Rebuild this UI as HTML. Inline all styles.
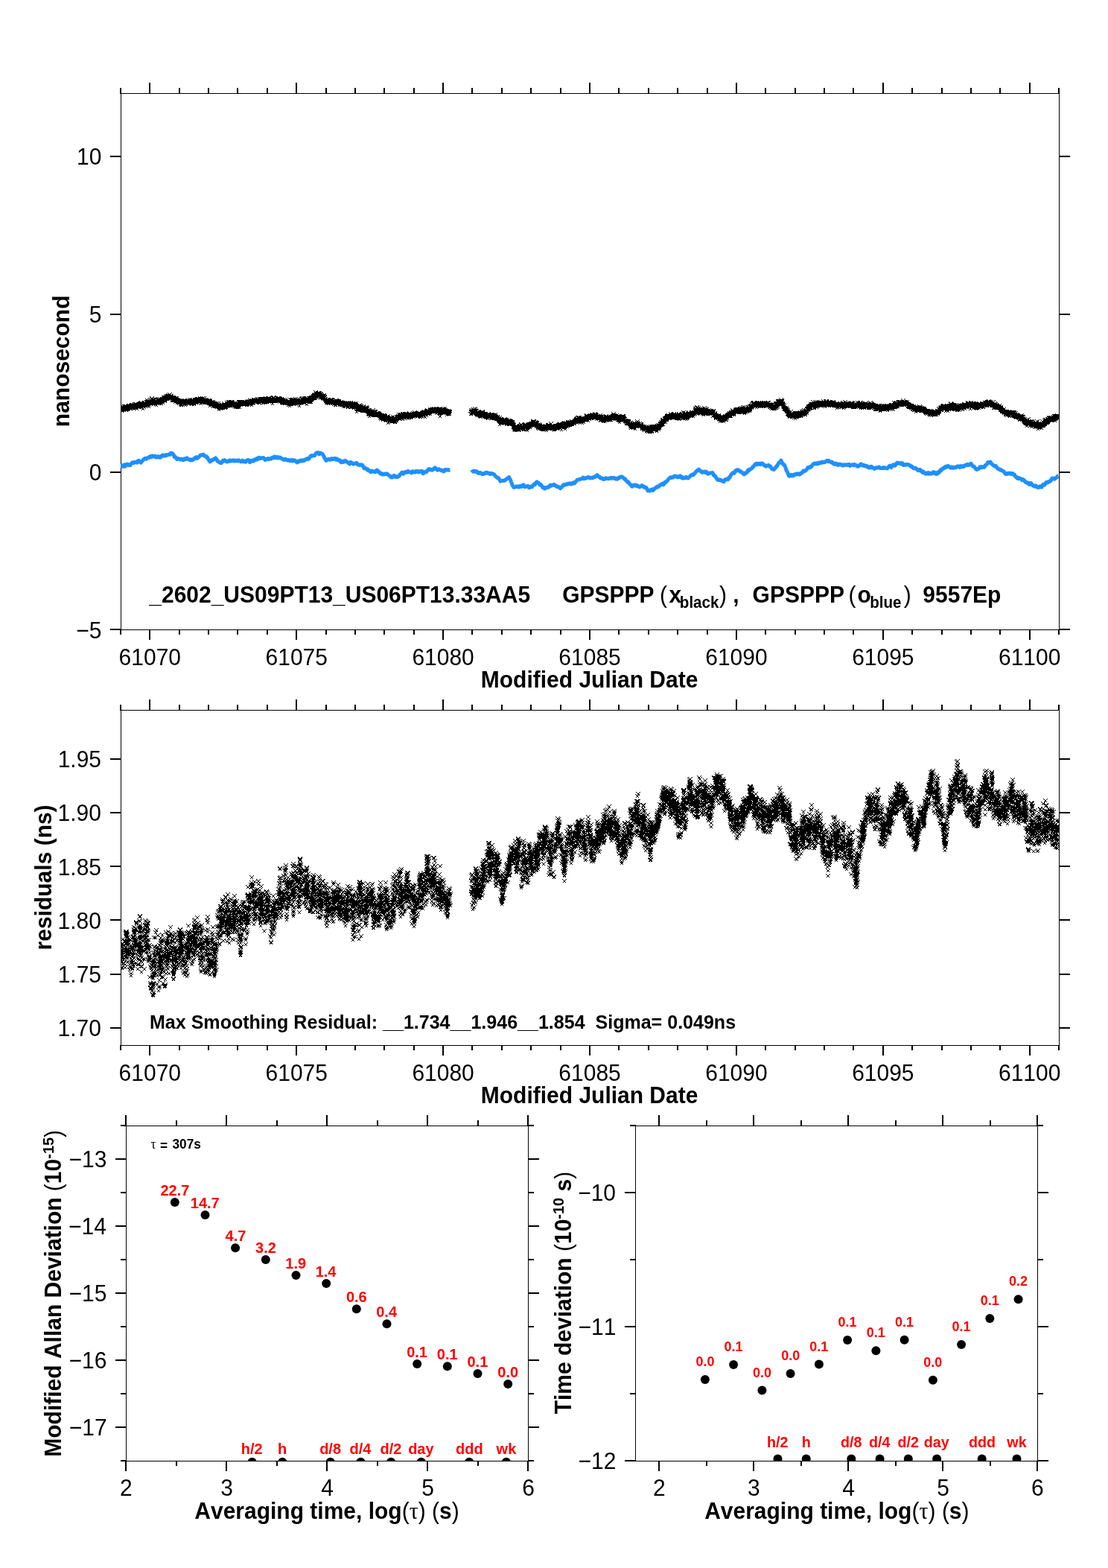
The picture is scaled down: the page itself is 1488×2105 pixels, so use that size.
<!DOCTYPE html>
<html><head><meta charset="utf-8"><title>plot</title><style>html,body{margin:0;padding:0;background:#fff;width:1488px;height:2105px;overflow:hidden}svg{display:block}text{font-kerning:none;white-space:pre}</style></head><body><svg width="1488" height="2105" viewBox="0 0 1488 2105" font-family='"Liberation Sans", Arial, Helvetica, sans-serif' xml:space="preserve">
<rect width="100%" height="100%" fill="#fff"/>
<rect x="162.5" y="125.5" width="1260" height="720" fill="none" stroke="#000" stroke-width="1"/>
<rect x="161" y="118" width="2" height="8"/>
<rect x="161" y="845" width="2" height="7"/>
<rect x="200" y="111" width="2" height="15"/>
<rect x="200" y="845" width="2" height="14"/>
<rect x="240" y="118" width="2" height="8"/>
<rect x="240" y="845" width="2" height="7"/>
<rect x="279" y="118" width="2" height="8"/>
<rect x="279" y="845" width="2" height="7"/>
<rect x="318" y="118" width="2" height="8"/>
<rect x="318" y="845" width="2" height="7"/>
<rect x="358" y="118" width="2" height="8"/>
<rect x="358" y="845" width="2" height="7"/>
<rect x="397" y="111" width="2" height="15"/>
<rect x="397" y="845" width="2" height="14"/>
<rect x="437" y="118" width="2" height="8"/>
<rect x="437" y="845" width="2" height="7"/>
<rect x="476" y="118" width="2" height="8"/>
<rect x="476" y="845" width="2" height="7"/>
<rect x="515" y="118" width="2" height="8"/>
<rect x="515" y="845" width="2" height="7"/>
<rect x="555" y="118" width="2" height="8"/>
<rect x="555" y="845" width="2" height="7"/>
<rect x="594" y="111" width="2" height="15"/>
<rect x="594" y="845" width="2" height="14"/>
<rect x="633" y="118" width="2" height="8"/>
<rect x="633" y="845" width="2" height="7"/>
<rect x="673" y="118" width="2" height="8"/>
<rect x="673" y="845" width="2" height="7"/>
<rect x="712" y="118" width="2" height="8"/>
<rect x="712" y="845" width="2" height="7"/>
<rect x="752" y="118" width="2" height="8"/>
<rect x="752" y="845" width="2" height="7"/>
<rect x="791" y="111" width="2" height="15"/>
<rect x="791" y="845" width="2" height="14"/>
<rect x="830" y="118" width="2" height="8"/>
<rect x="830" y="845" width="2" height="7"/>
<rect x="870" y="118" width="2" height="8"/>
<rect x="870" y="845" width="2" height="7"/>
<rect x="909" y="118" width="2" height="8"/>
<rect x="909" y="845" width="2" height="7"/>
<rect x="949" y="118" width="2" height="8"/>
<rect x="949" y="845" width="2" height="7"/>
<rect x="988" y="111" width="2" height="15"/>
<rect x="988" y="845" width="2" height="14"/>
<rect x="1027" y="118" width="2" height="8"/>
<rect x="1027" y="845" width="2" height="7"/>
<rect x="1067" y="118" width="2" height="8"/>
<rect x="1067" y="845" width="2" height="7"/>
<rect x="1106" y="118" width="2" height="8"/>
<rect x="1106" y="845" width="2" height="7"/>
<rect x="1145" y="118" width="2" height="8"/>
<rect x="1145" y="845" width="2" height="7"/>
<rect x="1185" y="111" width="2" height="15"/>
<rect x="1185" y="845" width="2" height="14"/>
<rect x="1224" y="118" width="2" height="8"/>
<rect x="1224" y="845" width="2" height="7"/>
<rect x="1264" y="118" width="2" height="8"/>
<rect x="1264" y="845" width="2" height="7"/>
<rect x="1303" y="118" width="2" height="8"/>
<rect x="1303" y="845" width="2" height="7"/>
<rect x="1342" y="118" width="2" height="8"/>
<rect x="1342" y="845" width="2" height="7"/>
<rect x="1382" y="111" width="2" height="15"/>
<rect x="1382" y="845" width="2" height="14"/>
<rect x="1421" y="118" width="2" height="8"/>
<rect x="1421" y="845" width="2" height="7"/>
<rect x="148" y="209" width="15" height="2"/>
<rect x="1422" y="209" width="15" height="2"/>
<rect x="148" y="421" width="15" height="2"/>
<rect x="1422" y="421" width="15" height="2"/>
<rect x="148" y="633" width="15" height="2"/>
<rect x="1422" y="633" width="15" height="2"/>
<rect x="148" y="844" width="15" height="2"/>
<rect x="1422" y="844" width="15" height="2"/>
<rect x="162.5" y="953.5" width="1260" height="450" fill="none" stroke="#000" stroke-width="1"/>
<rect x="161" y="946" width="2" height="8"/>
<rect x="161" y="1403" width="2" height="7"/>
<rect x="200" y="939" width="2" height="15"/>
<rect x="200" y="1403" width="2" height="14"/>
<rect x="240" y="946" width="2" height="8"/>
<rect x="240" y="1403" width="2" height="7"/>
<rect x="279" y="946" width="2" height="8"/>
<rect x="279" y="1403" width="2" height="7"/>
<rect x="318" y="946" width="2" height="8"/>
<rect x="318" y="1403" width="2" height="7"/>
<rect x="358" y="946" width="2" height="8"/>
<rect x="358" y="1403" width="2" height="7"/>
<rect x="397" y="939" width="2" height="15"/>
<rect x="397" y="1403" width="2" height="14"/>
<rect x="437" y="946" width="2" height="8"/>
<rect x="437" y="1403" width="2" height="7"/>
<rect x="476" y="946" width="2" height="8"/>
<rect x="476" y="1403" width="2" height="7"/>
<rect x="515" y="946" width="2" height="8"/>
<rect x="515" y="1403" width="2" height="7"/>
<rect x="555" y="946" width="2" height="8"/>
<rect x="555" y="1403" width="2" height="7"/>
<rect x="594" y="939" width="2" height="15"/>
<rect x="594" y="1403" width="2" height="14"/>
<rect x="633" y="946" width="2" height="8"/>
<rect x="633" y="1403" width="2" height="7"/>
<rect x="673" y="946" width="2" height="8"/>
<rect x="673" y="1403" width="2" height="7"/>
<rect x="712" y="946" width="2" height="8"/>
<rect x="712" y="1403" width="2" height="7"/>
<rect x="752" y="946" width="2" height="8"/>
<rect x="752" y="1403" width="2" height="7"/>
<rect x="791" y="939" width="2" height="15"/>
<rect x="791" y="1403" width="2" height="14"/>
<rect x="830" y="946" width="2" height="8"/>
<rect x="830" y="1403" width="2" height="7"/>
<rect x="870" y="946" width="2" height="8"/>
<rect x="870" y="1403" width="2" height="7"/>
<rect x="909" y="946" width="2" height="8"/>
<rect x="909" y="1403" width="2" height="7"/>
<rect x="949" y="946" width="2" height="8"/>
<rect x="949" y="1403" width="2" height="7"/>
<rect x="988" y="939" width="2" height="15"/>
<rect x="988" y="1403" width="2" height="14"/>
<rect x="1027" y="946" width="2" height="8"/>
<rect x="1027" y="1403" width="2" height="7"/>
<rect x="1067" y="946" width="2" height="8"/>
<rect x="1067" y="1403" width="2" height="7"/>
<rect x="1106" y="946" width="2" height="8"/>
<rect x="1106" y="1403" width="2" height="7"/>
<rect x="1145" y="946" width="2" height="8"/>
<rect x="1145" y="1403" width="2" height="7"/>
<rect x="1185" y="939" width="2" height="15"/>
<rect x="1185" y="1403" width="2" height="14"/>
<rect x="1224" y="946" width="2" height="8"/>
<rect x="1224" y="1403" width="2" height="7"/>
<rect x="1264" y="946" width="2" height="8"/>
<rect x="1264" y="1403" width="2" height="7"/>
<rect x="1303" y="946" width="2" height="8"/>
<rect x="1303" y="1403" width="2" height="7"/>
<rect x="1342" y="946" width="2" height="8"/>
<rect x="1342" y="1403" width="2" height="7"/>
<rect x="1382" y="939" width="2" height="15"/>
<rect x="1382" y="1403" width="2" height="14"/>
<rect x="1421" y="946" width="2" height="8"/>
<rect x="1421" y="1403" width="2" height="7"/>
<rect x="148" y="1379" width="15" height="2"/>
<rect x="1422" y="1379" width="15" height="2"/>
<rect x="148" y="1307" width="15" height="2"/>
<rect x="1422" y="1307" width="15" height="2"/>
<rect x="148" y="1234" width="15" height="2"/>
<rect x="1422" y="1234" width="15" height="2"/>
<rect x="148" y="1162" width="15" height="2"/>
<rect x="1422" y="1162" width="15" height="2"/>
<rect x="148" y="1090" width="15" height="2"/>
<rect x="1422" y="1090" width="15" height="2"/>
<rect x="148" y="1018" width="15" height="2"/>
<rect x="1422" y="1018" width="15" height="2"/>
<rect x="169.5" y="1511.5" width="540" height="450" fill="none" stroke="#000" stroke-width="1"/>
<rect x="168" y="1497" width="2" height="15"/>
<rect x="168" y="1961" width="2" height="14"/>
<rect x="236" y="1504" width="2" height="8"/>
<rect x="236" y="1961" width="2" height="7"/>
<rect x="303" y="1497" width="2" height="15"/>
<rect x="303" y="1961" width="2" height="14"/>
<rect x="371" y="1504" width="2" height="8"/>
<rect x="371" y="1961" width="2" height="7"/>
<rect x="438" y="1497" width="2" height="15"/>
<rect x="438" y="1961" width="2" height="14"/>
<rect x="506" y="1504" width="2" height="8"/>
<rect x="506" y="1961" width="2" height="7"/>
<rect x="573" y="1497" width="2" height="15"/>
<rect x="573" y="1961" width="2" height="14"/>
<rect x="641" y="1504" width="2" height="8"/>
<rect x="641" y="1961" width="2" height="7"/>
<rect x="708" y="1497" width="2" height="15"/>
<rect x="708" y="1961" width="2" height="14"/>
<rect x="162" y="1510" width="8" height="2"/>
<rect x="709" y="1510" width="8" height="2"/>
<rect x="155" y="1555" width="15" height="2"/>
<rect x="709" y="1555" width="15" height="2"/>
<rect x="162" y="1600" width="8" height="2"/>
<rect x="709" y="1600" width="8" height="2"/>
<rect x="155" y="1645" width="15" height="2"/>
<rect x="709" y="1645" width="15" height="2"/>
<rect x="162" y="1690" width="8" height="2"/>
<rect x="709" y="1690" width="8" height="2"/>
<rect x="155" y="1735" width="15" height="2"/>
<rect x="709" y="1735" width="15" height="2"/>
<rect x="162" y="1780" width="8" height="2"/>
<rect x="709" y="1780" width="8" height="2"/>
<rect x="155" y="1825" width="15" height="2"/>
<rect x="709" y="1825" width="15" height="2"/>
<rect x="162" y="1870" width="8" height="2"/>
<rect x="709" y="1870" width="8" height="2"/>
<rect x="155" y="1915" width="15" height="2"/>
<rect x="709" y="1915" width="15" height="2"/>
<rect x="162" y="1960" width="8" height="2"/>
<rect x="709" y="1960" width="8" height="2"/>
<rect x="853.5" y="1511.5" width="540" height="450" fill="none" stroke="#000" stroke-width="1"/>
<rect x="884" y="1497" width="2" height="15"/>
<rect x="884" y="1961" width="2" height="14"/>
<rect x="948" y="1504" width="2" height="8"/>
<rect x="948" y="1961" width="2" height="7"/>
<rect x="1011" y="1497" width="2" height="15"/>
<rect x="1011" y="1961" width="2" height="14"/>
<rect x="1075" y="1504" width="2" height="8"/>
<rect x="1075" y="1961" width="2" height="7"/>
<rect x="1138" y="1497" width="2" height="15"/>
<rect x="1138" y="1961" width="2" height="14"/>
<rect x="1202" y="1504" width="2" height="8"/>
<rect x="1202" y="1961" width="2" height="7"/>
<rect x="1265" y="1497" width="2" height="15"/>
<rect x="1265" y="1961" width="2" height="14"/>
<rect x="1329" y="1504" width="2" height="8"/>
<rect x="1329" y="1961" width="2" height="7"/>
<rect x="1392" y="1497" width="2" height="15"/>
<rect x="1392" y="1961" width="2" height="14"/>
<rect x="846" y="1510" width="8" height="2"/>
<rect x="1393" y="1510" width="8" height="2"/>
<rect x="839" y="1600" width="15" height="2"/>
<rect x="1393" y="1600" width="15" height="2"/>
<rect x="846" y="1690" width="8" height="2"/>
<rect x="1393" y="1690" width="8" height="2"/>
<rect x="839" y="1780" width="15" height="2"/>
<rect x="1393" y="1780" width="15" height="2"/>
<rect x="846" y="1870" width="8" height="2"/>
<rect x="1393" y="1870" width="8" height="2"/>
<rect x="839" y="1960" width="15" height="2"/>
<rect x="1393" y="1960" width="15" height="2"/>
<defs><marker id="mx" markerUnits="userSpaceOnUse" markerWidth="8" markerHeight="8" refX="4" refY="4" overflow="visible"><path d="M1.5 1.5l5 5m0-5l-5 5" stroke="#000" stroke-width="1" fill="none" shape-rendering="crispEdges"/></marker></defs>
<clipPath id="c1"><rect x="162" y="125" width="1261" height="721"/></clipPath>
<g clip-path="url(#c1)">
<polyline points="162.0,625.4 162.5,625.8 163.0,625.4 163.5,625.5 164.0,624.9 164.5,625.6 165.0,626.4 165.5,625.5 166.0,624.9 166.5,624.4 167.0,624.0 167.5,625.5 168.0,626.0 168.5,625.3 169.0,625.2 169.5,624.8 170.0,624.5 170.5,623.1 171.0,623.9 171.5,623.8 172.0,623.3 172.5,623.9 173.0,624.3 173.5,624.6 174.0,624.4 174.5,624.7 175.0,624.7 175.5,623.3 176.0,622.8 176.5,622.4 177.0,621.6 177.5,621.0 178.0,621.5 178.5,621.5 179.0,621.1 179.5,621.7 180.0,620.6 180.5,620.4 181.0,620.4 181.5,620.6 182.0,620.3 182.5,620.7 183.0,620.6 183.5,620.5 184.0,621.0 184.5,620.3 185.0,618.9 185.5,618.5 186.0,618.9 186.5,618.5 187.0,620.0 187.5,619.5 188.0,619.9 188.5,620.2 189.0,621.2 189.5,620.8 190.0,619.9 190.5,619.2 191.0,618.9 191.5,618.6 192.0,618.1 192.5,617.0 193.0,616.6 193.5,616.2 194.0,615.9 194.5,615.5 195.0,615.2 195.5,615.6 196.0,615.3 196.5,616.1 197.0,615.7 197.5,615.3 198.0,614.7 198.5,614.6 199.0,614.5 199.5,614.4 200.0,614.6 200.5,614.2 201.0,613.1 201.5,612.6 202.0,612.7 202.5,612.6 203.0,612.6 203.5,613.4 204.0,612.9 204.5,611.9 205.0,612.2 205.5,612.3 206.0,612.4 206.5,613.0 207.0,612.8 207.5,612.6 208.0,612.1 208.5,613.3 209.0,613.2 209.5,613.6 210.0,614.0 210.5,613.4 211.0,613.0 211.5,612.8 212.0,613.0 212.5,612.8 213.0,613.7 213.5,614.1 214.0,613.5 214.5,613.1 215.0,613.6 215.5,614.1 216.0,613.2 216.5,612.6 217.0,611.9 217.5,611.6 218.0,611.5 218.5,611.0 219.0,612.2 219.5,612.1 220.0,612.1 220.5,612.1 221.0,611.4 221.5,611.2 222.0,610.9 222.5,611.7 223.0,611.8 223.5,610.8 224.0,610.5 224.5,610.4 225.0,610.6 225.5,610.6 226.0,610.5 226.5,610.2 227.0,609.9 227.5,609.6 228.0,610.0 228.5,610.2 229.0,609.3 229.5,608.2 230.0,608.4 230.5,608.9 231.0,608.3 231.5,608.9 232.0,609.1 232.5,609.5 233.0,610.4 233.5,611.9 234.0,613.1 234.5,612.7 235.0,613.0 235.5,614.4 236.0,613.9 236.5,614.7 237.0,615.1 237.5,616.3 238.0,615.1 238.5,616.4 239.0,615.8 239.5,615.8 240.0,615.8 240.5,615.9 241.0,615.9 241.5,616.5 242.0,616.7 242.5,617.0 243.0,616.4 243.5,616.7 244.0,616.1 244.5,616.8 245.0,616.8 245.5,617.3 246.0,617.6 246.5,616.6 247.0,616.4 247.5,615.9 248.0,616.7 248.5,616.9 249.0,616.6 249.5,616.3 250.0,616.3 250.5,615.1 251.0,614.9 251.5,615.9 252.0,615.9 252.5,616.3 253.0,616.8 253.5,617.0 254.0,617.2 254.5,616.7 255.0,616.9 255.5,617.4 256.0,617.9 256.5,616.8 257.0,617.6 257.5,617.0 258.0,617.4 258.5,617.6 259.0,617.0 259.5,616.6 260.0,616.7 260.5,615.9 261.0,615.2 261.5,615.7 262.0,615.1 262.5,614.4 263.0,613.7 263.5,613.7 264.0,613.9 264.5,614.9 265.0,615.4 265.5,615.0 266.0,614.3 266.5,613.4 267.0,613.4 267.5,612.9 268.0,612.6 268.5,611.7 269.0,610.9 269.5,611.0 270.0,611.3 270.5,610.8 271.0,610.7 271.5,611.0 272.0,610.7 272.5,610.4 273.0,610.7 273.5,610.3 274.0,611.4 274.5,612.0 275.0,612.3 275.5,612.5 276.0,612.5 276.5,613.2 277.0,613.1 277.5,612.9 278.0,614.5 278.5,614.0 279.0,615.2 279.5,616.2 280.0,616.9 280.5,617.8 281.0,618.4 281.5,619.1 282.0,619.9 282.5,619.7 283.0,619.2 283.5,618.6 284.0,618.6 284.5,617.6 285.0,617.7 285.5,617.9 286.0,617.3 286.5,617.0 287.0,616.4 287.5,616.6 288.0,616.4 288.5,615.9 289.0,615.5 289.5,614.8 290.0,615.9 290.5,616.4 291.0,616.5 291.5,617.9 292.0,619.0 292.5,619.4 293.0,619.3 293.5,619.5 294.0,620.5 294.5,620.4 295.0,620.5 295.5,620.8 296.0,621.5 296.5,621.3 297.0,621.6 297.5,620.6 298.0,620.6 298.5,620.4 299.0,619.4 299.5,618.2 300.0,618.7 300.5,618.1 301.0,618.7 301.5,617.6 302.0,618.1 302.5,618.9 303.0,619.2 303.5,619.2 304.0,619.3 304.5,619.1 305.0,619.9 305.5,619.9 306.0,619.2 306.5,619.5 307.0,619.4 307.5,619.3 308.0,618.8 308.5,618.0 309.0,618.5 309.5,618.3 310.0,619.0 310.5,618.9 311.0,618.6 311.5,618.1 312.0,618.2 312.5,618.0 313.0,617.9 313.5,617.7 314.0,618.1 314.5,619.1 315.0,618.8 315.5,618.3 316.0,618.1 316.5,618.6 317.0,618.4 317.5,618.1 318.0,618.8 318.5,618.7 319.0,618.9 319.5,618.6 320.0,618.1 320.5,617.9 321.0,618.9 321.5,618.8 322.0,618.9 322.5,619.0 323.0,619.4 323.5,619.8 324.0,619.8 324.5,619.3 325.0,618.9 325.5,618.1 326.0,619.6 326.5,619.8 327.0,619.8 327.5,619.5 328.0,619.3 328.5,619.0 329.0,619.3 329.5,619.7 330.0,620.2 330.5,618.8 331.0,618.8 331.5,618.2 332.0,617.9 332.5,617.6 333.0,617.7 333.5,617.4 334.0,617.8 334.5,618.5 335.0,619.2 335.5,620.7 336.0,619.8 336.5,619.1 337.0,619.1 337.5,618.5 338.0,619.0 338.5,618.1 339.0,618.4 339.5,619.0 340.0,619.1 340.5,618.9 341.0,617.7 341.5,616.9 342.0,616.8 342.5,617.9 343.0,617.5 343.5,617.4 344.0,616.9 344.5,616.4 345.0,615.5 345.5,616.3 346.0,616.7 346.5,615.7 347.0,615.1 347.5,614.2 348.0,614.2 348.5,615.5 349.0,615.5 349.5,615.5 350.0,615.4 350.5,614.7 351.0,614.9 351.5,615.1 352.0,614.7 352.5,614.6 353.0,615.2 353.5,614.9 354.0,614.6 354.5,615.3 355.0,616.0 355.5,616.0 356.0,617.3 356.5,616.9 357.0,617.0 357.5,616.8 358.0,616.8 358.5,616.1 359.0,616.2 359.5,615.8 360.0,615.6 360.5,615.4 361.0,615.8 361.5,616.5 362.0,616.1 362.5,616.0 363.0,615.6 363.5,615.6 364.0,616.1 364.5,615.5 365.0,615.1 365.5,614.3 366.0,614.3 366.5,614.8 367.0,614.2 367.5,614.6 368.0,613.5 368.5,612.9 369.0,613.0 369.5,613.9 370.0,613.6 370.5,613.7 371.0,614.7 371.5,614.5 372.0,613.4 372.5,613.8 373.0,614.2 373.5,614.9 374.0,614.2 374.5,614.6 375.0,614.0 375.5,613.9 376.0,614.8 376.5,614.3 377.0,614.7 377.5,615.3 378.0,615.4 378.5,615.7 379.0,615.9 379.5,616.4 380.0,616.2 380.5,616.8 381.0,617.3 381.5,616.9 382.0,616.8 382.5,616.7 383.0,616.1 383.5,616.9 384.0,617.3 384.5,617.1 385.0,617.6 385.5,617.4 386.0,618.1 386.5,618.1 387.0,618.0 387.5,617.5 388.0,617.5 388.5,618.3 389.0,618.3 389.5,618.8 390.0,618.7 390.5,618.7 391.0,617.9 391.5,617.4 392.0,618.3 392.5,618.4 393.0,618.9 393.5,617.6 394.0,618.2 394.5,618.2 395.0,618.3 395.5,618.1 396.0,618.6 396.5,618.4 397.0,619.4 397.5,619.8 398.0,619.6 398.5,619.9 399.0,620.9 399.5,620.4 400.0,620.0 400.5,619.1 401.0,620.1 401.5,619.6 402.0,619.3 402.5,618.6 403.0,618.4 403.5,618.1 404.0,618.2 404.5,618.6 405.0,617.9 405.5,619.1 406.0,619.0 406.5,618.2 407.0,618.5 407.5,618.4 408.0,617.8 408.5,618.3 409.0,617.2 409.5,617.5 410.0,617.1 410.5,617.0 411.0,616.9 411.5,616.3 412.0,616.4 412.5,615.5 413.0,616.1 413.5,615.9 414.0,616.5 414.5,616.0 415.0,615.5 415.5,615.0 416.0,613.9 416.5,613.0 417.0,612.6 417.5,612.6 418.0,611.6 418.5,611.8 419.0,612.0 419.5,612.1 420.0,612.1 420.5,611.4 421.0,611.5 421.5,611.8 422.0,611.4 422.5,611.6 423.0,610.6 423.5,610.0 424.0,609.3 424.5,608.2 425.0,608.3 425.5,607.9 426.0,608.1 426.5,607.6 427.0,607.9 427.5,607.7 428.0,607.8 428.5,609.8 429.0,609.1 429.5,608.0 430.0,607.9 430.5,607.9 431.0,608.7 431.5,609.1 432.0,609.0 432.5,609.3 433.0,609.2 433.5,610.4 434.0,611.0 434.5,611.6 435.0,613.2 435.5,613.4 436.0,615.2 436.5,616.1 437.0,616.9 437.5,617.6 438.0,618.3 438.5,617.7 439.0,617.8 439.5,617.2 440.0,617.0 440.5,616.4 441.0,616.8 441.5,616.8 442.0,616.5 442.5,616.8 443.0,617.2 443.5,617.3 444.0,617.1 444.5,616.0 445.0,615.6 445.5,615.7 446.0,615.6 446.5,616.5 447.0,616.5 447.5,616.3 448.0,616.2 448.5,615.9 449.0,615.8 449.5,615.4 450.0,615.2 450.5,616.0 451.0,616.5 451.5,617.2 452.0,616.5 452.5,615.9 453.0,616.2 453.5,616.7 454.0,617.7 454.5,617.8 455.0,618.0 455.5,617.9 456.0,617.9 456.5,617.8 457.0,619.0 457.5,620.2 458.0,620.4 458.5,620.8 459.0,620.0 459.5,619.7 460.0,620.4 460.5,620.3 461.0,619.1 461.5,620.3 462.0,619.9 462.5,619.6 463.0,619.7 463.5,618.3 464.0,618.6 464.5,619.0 465.0,619.2 465.5,619.7 466.0,620.4 466.5,620.2 467.0,620.5 467.5,621.2 468.0,621.1 468.5,622.3 469.0,622.8 469.5,623.0 470.0,622.7 470.5,621.9 471.0,620.4 471.5,621.5 472.0,621.4 472.5,621.5 473.0,621.7 473.5,621.7 474.0,622.4 474.5,623.0 475.0,622.6 475.5,622.7 476.0,622.4 476.5,622.2 477.0,622.0 477.5,622.2 478.0,622.1 478.5,621.6 479.0,621.4 479.5,623.0 480.0,622.8 480.5,623.7 481.0,623.9 481.5,623.9 482.0,624.1 482.5,624.1 483.0,624.5 483.5,623.8 484.0,624.1 484.5,623.8 485.0,624.2 485.5,624.6 486.0,624.7 486.5,624.2 487.0,625.1 487.5,625.5 488.0,626.8 488.5,627.6 489.0,628.8 489.5,628.0 490.0,628.2 490.5,628.0 491.0,629.0 491.5,629.3 492.0,629.2 492.5,630.2 493.0,630.6 493.5,629.6 494.0,630.4 494.5,631.7 495.0,631.3 495.5,631.2 496.0,631.6 496.5,631.9 497.0,632.7 497.5,633.5 498.0,633.1 498.5,633.4 499.0,632.2 499.5,632.9 500.0,632.5 500.5,632.5 501.0,632.8 501.5,633.1 502.0,633.2 502.5,633.0 503.0,633.5 503.5,633.4 504.0,633.6 504.5,633.0 505.0,632.6 505.5,631.6 506.0,631.1 506.5,631.2 507.0,631.8 507.5,632.3 508.0,633.3 508.5,632.8 509.0,634.2 509.5,634.2 510.0,634.7 510.5,635.8 511.0,635.4 511.5,635.0 512.0,635.2 512.5,635.8 513.0,636.8 513.5,637.0 514.0,636.1 514.5,636.7 515.0,637.0 515.5,637.0 516.0,637.1 516.5,636.6 517.0,636.3 517.5,635.8 518.0,636.5 518.5,636.3 519.0,636.5 519.5,635.9 520.0,635.9 520.5,636.4 521.0,637.2 521.5,637.7 522.0,637.9 522.5,638.3 523.0,638.8 523.5,639.3 524.0,639.0 524.5,639.6 525.0,640.8 525.5,640.9 526.0,640.8 526.5,640.4 527.0,640.8 527.5,639.9 528.0,639.6 528.5,639.2 529.0,638.4 529.5,639.0 530.0,639.9 530.5,640.0 531.0,639.5 531.5,640.3 532.0,640.2 532.5,640.6 533.0,640.6 533.5,640.6 534.0,640.4 534.5,639.6 535.0,639.6 535.5,638.8 536.0,639.1 536.5,638.5 537.0,637.7 537.5,636.8 538.0,636.4 538.5,636.1 539.0,634.9 539.5,634.8 540.0,634.1 540.5,634.3 541.0,634.5 541.5,635.9 542.0,636.1 542.5,635.1 543.0,634.0 543.5,634.2 544.0,633.7 544.5,633.9 545.0,633.5 545.5,634.1 546.0,633.8 546.5,633.7 547.0,634.0 547.5,633.7 548.0,632.3 548.5,632.6 549.0,633.0 549.5,633.3 550.0,633.6 550.5,633.5 551.0,633.7 551.5,634.4 552.0,634.2 552.5,634.9 553.0,634.4 553.5,633.2 554.0,632.9 554.5,633.5 555.0,632.9 555.5,633.2 556.0,633.6 556.5,634.0 557.0,633.8 557.5,634.1 558.0,633.6 558.5,632.7 559.0,633.0 559.5,632.8 560.0,632.5 560.5,633.3 561.0,632.5 561.5,633.3 562.0,633.9 562.5,634.0 563.0,633.5 563.5,633.0 564.0,632.6 564.5,633.1 565.0,633.0 565.5,632.7 566.0,632.3 566.5,633.4 567.0,632.6 567.5,633.1 568.0,635.7 568.5,635.7 569.0,635.0 569.5,634.2 570.0,633.7 570.5,633.6 571.0,633.3 571.5,633.3 572.0,633.2 572.5,633.8 573.0,633.0 573.5,632.0 574.0,631.4 574.5,631.0 575.0,631.0 575.5,629.8 576.0,630.1 576.5,630.8 577.0,629.7 577.5,630.3 578.0,630.1 578.5,630.4 579.0,630.4 579.5,630.9 580.0,631.2 580.5,630.8 581.0,630.1 581.5,629.8 582.0,630.3 582.5,630.0 583.0,629.4 583.5,628.3 584.0,628.6 584.5,628.0 585.0,628.6 585.5,629.2 586.0,629.7 586.5,629.7 587.0,630.8 587.5,631.3 588.0,631.1 588.5,630.3 589.0,629.8 589.5,629.8 590.0,630.1 590.5,630.3 591.0,630.8 591.5,630.8 592.0,631.5 592.5,631.7 593.0,631.2 593.5,631.6 594.0,631.7 594.5,631.6 595.0,631.9 595.5,632.9 596.0,632.7 596.5,632.8 597.0,631.3 597.5,631.2 598.0,630.5 598.5,631.2 599.0,631.0 599.5,630.8 600.0,631.0 600.5,630.8 601.0,630.7 601.5,630.4 602.0,630.4 602.5,631.2 603.0,631.3 603.5,630.8 604.0,630.6" fill="none" stroke="#1e90ff" stroke-width="5" stroke-linejoin="round" stroke-linecap="butt"/>
<polyline points="633.5,630.7 634.0,631.5 634.5,631.9 635.0,632.5 635.5,633.1 636.0,632.9 636.5,632.2 637.0,632.6 637.5,633.0 638.0,633.0 638.5,632.5 639.0,633.1 639.5,633.4 640.0,633.2 640.5,632.9 641.0,633.6 641.5,634.7 642.0,634.8 642.5,634.7 643.0,635.4 643.5,634.6 644.0,634.5 644.5,634.3 645.0,634.9 645.5,635.0 646.0,635.3 646.5,635.7 647.0,636.1 647.5,636.5 648.0,636.1 648.5,636.4 649.0,636.2 649.5,635.7 650.0,636.1 650.5,635.9 651.0,635.8 651.5,635.8 652.0,635.1 652.5,634.4 653.0,634.7 653.5,634.4 654.0,634.2 654.5,634.6 655.0,635.1 655.5,635.5 656.0,635.5 656.5,635.2 657.0,635.3 657.5,636.0 658.0,636.0 658.5,636.6 659.0,636.4 659.5,636.0 660.0,635.3 660.5,635.6 661.0,635.7 661.5,636.2 662.0,636.0 662.5,636.2 663.0,636.5 663.5,636.6 664.0,637.3 664.5,638.0 665.0,639.0 665.5,639.4 666.0,640.0 666.5,639.9 667.0,640.6 667.5,641.2 668.0,641.5 668.5,641.6 669.0,641.3 669.5,642.2 670.0,642.6 670.5,643.0 671.0,644.3 671.5,644.8 672.0,646.1 672.5,645.9 673.0,645.4 673.5,645.6 674.0,645.5 674.5,645.4 675.0,645.3 675.5,645.0 676.0,644.9 676.5,645.2 677.0,645.4 677.5,644.9 678.0,644.9 678.5,644.8 679.0,643.9 679.5,643.5 680.0,643.5 680.5,642.8 681.0,642.4 681.5,642.0 682.0,642.3 682.5,642.0 683.0,641.6 683.5,640.6 684.0,642.2 684.5,642.6 685.0,643.1 685.5,644.2 686.0,645.3 686.5,647.2 687.0,648.4 687.5,649.7 688.0,651.3 688.5,652.1 689.0,652.6 689.5,653.4 690.0,654.4 690.5,654.3 691.0,654.1 691.5,653.9 692.0,653.8 692.5,653.7 693.0,653.1 693.5,653.5 694.0,653.0 694.5,652.9 695.0,653.0 695.5,653.2 696.0,653.2 696.5,654.1 697.0,654.1 697.5,652.6 698.0,653.1 698.5,653.4 699.0,653.4 699.5,653.1 700.0,652.9 700.5,652.2 701.0,653.1 701.5,652.8 702.0,651.9 702.5,651.0 703.0,650.8 703.5,651.8 704.0,652.6 704.5,653.3 705.0,653.8 705.5,653.6 706.0,653.6 706.5,653.1 707.0,653.0 707.5,652.9 708.0,652.8 708.5,652.3 709.0,652.5 709.5,652.8 710.0,653.5 710.5,654.7 711.0,654.7 711.5,653.4 712.0,653.4 712.5,653.6 713.0,653.2 713.5,652.7 714.0,652.8 714.5,653.8 715.0,652.7 715.5,652.2 716.0,651.7 716.5,650.8 717.0,650.1 717.5,650.9 718.0,650.6 718.5,650.7 719.0,649.4 719.5,648.6 720.0,647.7 720.5,647.3 721.0,646.9 721.5,648.1 722.0,648.0 722.5,648.2 723.0,648.3 723.5,648.3 724.0,649.4 724.5,650.0 725.0,650.9 725.5,651.1 726.0,650.4 726.5,650.9 727.0,651.5 727.5,652.1 728.0,653.0 728.5,653.9 729.0,654.7 729.5,654.8 730.0,654.6 730.5,654.4 731.0,655.3 731.5,656.1 732.0,656.1 732.5,655.2 733.0,655.0 733.5,654.6 734.0,654.6 734.5,654.6 735.0,654.4 735.5,654.4 736.0,653.8 736.5,653.3 737.0,654.0 737.5,653.6 738.0,652.9 738.5,652.0 739.0,651.1 739.5,651.8 740.0,651.7 740.5,652.1 741.0,651.1 741.5,651.0 742.0,651.2 742.5,651.1 743.0,651.2 743.5,651.1 744.0,650.4 744.5,650.9 745.0,651.1 745.5,651.5 746.0,652.2 746.5,652.1 747.0,652.2 747.5,652.4 748.0,653.5 748.5,653.6 749.0,653.3 749.5,653.5 750.0,653.5 750.5,653.7 751.0,654.2 751.5,654.6 752.0,655.4 752.5,655.7 753.0,654.5 753.5,654.4 754.0,654.1 754.5,653.4 755.0,653.4 755.5,652.4 756.0,651.4 756.5,651.2 757.0,650.8 757.5,650.7 758.0,651.3 758.5,650.8 759.0,650.7 759.5,650.5 760.0,650.1 760.5,650.1 761.0,650.4 761.5,650.2 762.0,649.5 762.5,649.4 763.0,649.5 763.5,649.2 764.0,649.1 764.5,649.7 765.0,649.2 765.5,648.9 766.0,648.7 766.5,649.7 767.0,649.9 767.5,648.8 768.0,649.1 768.5,649.2 769.0,649.3 769.5,648.6 770.0,648.0 770.5,648.4 771.0,648.5 771.5,648.9 772.0,648.5 772.5,647.2 773.0,646.7 773.5,646.1 774.0,645.8 774.5,645.1 775.0,644.4 775.5,644.2 776.0,644.2 776.5,643.9 777.0,643.7 777.5,643.7 778.0,643.9 778.5,643.2 779.0,643.2 779.5,643.1 780.0,642.9 780.5,642.9 781.0,642.4 781.5,642.4 782.0,642.1 782.5,641.9 783.0,641.0 783.5,641.8 784.0,642.7 784.5,642.3 785.0,641.9 785.5,642.4 786.0,642.5 786.5,641.7 787.0,641.8 787.5,641.5 788.0,641.6 788.5,641.3 789.0,641.1 789.5,640.6 790.0,640.9 790.5,640.7 791.0,640.7 791.5,641.4 792.0,641.2 792.5,642.0 793.0,641.4 793.5,641.2 794.0,641.3 794.5,641.5 795.0,641.4 795.5,641.3 796.0,641.7 796.5,640.7 797.0,640.6 797.5,640.4 798.0,640.1 798.5,640.6 799.0,640.3 799.5,639.6 800.0,639.3 800.5,639.1 801.0,638.5 801.5,638.2 802.0,637.7 802.5,638.6 803.0,639.2 803.5,640.1 804.0,640.2 804.5,639.6 805.0,640.1 805.5,641.0 806.0,641.5 806.5,641.9 807.0,641.7 807.5,642.0 808.0,641.8 808.5,641.9 809.0,642.2 809.5,643.2 810.0,643.0 810.5,642.6 811.0,642.5 811.5,643.3 812.0,642.8 812.5,642.5 813.0,642.2 813.5,641.7 814.0,642.4 814.5,642.2 815.0,642.3 815.5,642.3 816.0,642.6 816.5,642.5 817.0,642.7 817.5,642.3 818.0,642.1 818.5,641.8 819.0,642.2 819.5,641.9 820.0,642.1 820.5,642.3 821.0,641.5 821.5,641.9 822.0,641.7 822.5,641.7 823.0,641.6 823.5,642.0 824.0,641.8 824.5,641.3 825.0,642.3 825.5,642.3 826.0,642.5 826.5,642.8 827.0,642.2 827.5,643.0 828.0,642.8 828.5,643.3 829.0,643.3 829.5,642.9 830.0,642.1 830.5,641.4 831.0,641.1 831.5,641.7 832.0,641.6 832.5,640.7 833.0,640.7 833.5,640.0 834.0,640.2 834.5,639.9 835.0,639.9 835.5,640.2 836.0,640.4 836.5,640.9 837.0,641.6 837.5,641.7 838.0,642.2 838.5,643.1 839.0,642.6 839.5,643.2 840.0,643.8 840.5,644.9 841.0,645.1 841.5,645.5 842.0,646.2 842.5,646.9 843.0,647.5 843.5,646.8 844.0,647.2 844.5,648.4 845.0,648.8 845.5,649.6 846.0,650.2 846.5,650.7 847.0,650.7 847.5,651.0 848.0,651.5 848.5,653.0 849.0,653.2 849.5,652.9 850.0,651.7 850.5,651.6 851.0,651.6 851.5,651.1 852.0,651.4 852.5,651.9 853.0,651.3 853.5,651.0 854.0,651.0 854.5,651.3 855.0,652.4 855.5,652.0 856.0,652.3 856.5,652.1 857.0,652.6 857.5,653.0 858.0,653.5 858.5,653.9 859.0,653.5 859.5,653.5 860.0,653.1 860.5,652.4 861.0,652.4 861.5,652.1 862.0,651.7 862.5,652.1 863.0,652.9 863.5,652.3 864.0,653.1 864.5,653.9 865.0,653.6 865.5,653.5 866.0,654.2 866.5,654.7 867.0,654.8 867.5,654.8 868.0,654.6 868.5,656.0 869.0,656.6 869.5,657.8 870.0,658.8 870.5,658.6 871.0,658.5 871.5,658.8 872.0,658.7 872.5,659.1 873.0,658.2 873.5,658.5 874.0,658.4 874.5,657.9 875.0,657.2 875.5,657.1 876.0,656.9 876.5,658.1 877.0,658.4 877.5,657.5 878.0,656.6 878.5,656.1 879.0,656.3 879.5,655.7 880.0,655.4 880.5,655.0 881.0,654.5 881.5,653.9 882.0,653.4 882.5,654.0 883.0,654.0 883.5,653.6 884.0,653.6 884.5,653.2 885.0,652.8 885.5,651.8 886.0,651.2 886.5,651.2 887.0,651.3 887.5,650.4 888.0,650.2 888.5,650.2 889.0,649.5 889.5,649.2 890.0,650.4 890.5,650.6 891.0,650.8 891.5,650.1 892.0,649.6 892.5,648.3 893.0,647.3 893.5,647.9 894.0,647.6 894.5,647.0 895.0,646.7 895.5,646.1 896.0,645.6 896.5,645.1 897.0,644.5 897.5,643.5 898.0,642.9 898.5,642.4 899.0,641.9 899.5,641.5 900.0,641.2 900.5,640.7 901.0,640.7 901.5,641.2 902.0,641.4 902.5,640.7 903.0,640.8 903.5,640.7 904.0,641.0 904.5,640.5 905.0,639.6 905.5,639.1 906.0,639.4 906.5,639.3 907.0,639.3 907.5,639.1 908.0,639.4 908.5,640.1 909.0,640.2 909.5,639.9 910.0,640.8 910.5,640.8 911.0,640.5 911.5,640.3 912.0,639.6 912.5,640.1 913.0,639.7 913.5,638.8 914.0,640.2 914.5,641.0 915.0,641.4 915.5,640.6 916.0,640.3 916.5,640.8 917.0,642.3 917.5,641.5 918.0,641.1 918.5,641.5 919.0,641.4 919.5,641.7 920.0,641.1 920.5,641.7 921.0,640.9 921.5,640.3 922.0,640.6 922.5,641.1 923.0,641.8 923.5,641.9 924.0,641.8 924.5,641.9 925.0,640.9 925.5,640.4 926.0,640.1 926.5,639.4 927.0,639.3 927.5,638.6 928.0,637.8 928.5,638.0 929.0,638.0 929.5,637.3 930.0,636.9 930.5,637.6 931.0,637.7 931.5,637.0 932.0,636.6 932.5,635.8 933.0,635.8 933.5,634.9 934.0,634.1 934.5,633.1 935.0,632.7 935.5,632.7 936.0,632.1 936.5,631.5 937.0,631.3 937.5,631.1 938.0,630.9 938.5,630.2 939.0,630.7 939.5,631.4 940.0,631.4 940.5,632.5 941.0,632.3 941.5,632.6 942.0,633.7 942.5,634.0 943.0,633.5 943.5,634.3 944.0,634.0 944.5,633.9 945.0,633.2 945.5,633.0 946.0,633.7 946.5,633.6 947.0,634.3 947.5,633.6 948.0,633.3 948.5,633.1 949.0,634.3 949.5,634.1 950.0,635.4 950.5,636.1 951.0,636.2 951.5,635.9 952.0,635.3 952.5,635.4 953.0,635.4 953.5,635.1 954.0,634.9 954.5,635.1 955.0,635.1 955.5,635.1 956.0,634.7 956.5,635.3 957.0,634.7 957.5,635.8 958.0,636.6 958.5,638.3 959.0,638.4 959.5,638.8 960.0,639.4 960.5,639.0 961.0,640.2 961.5,641.3 962.0,641.2 962.5,642.6 963.0,643.4 963.5,644.1 964.0,644.4 964.5,643.5 965.0,644.3 965.5,643.7 966.0,643.9 966.5,644.3 967.0,644.6 967.5,644.2 968.0,644.5 968.5,644.4 969.0,645.1 969.5,645.8 970.0,645.6 970.5,646.2 971.0,646.2 971.5,645.9 972.0,646.6 972.5,646.1 973.0,645.2 973.5,643.9 974.0,643.5 974.5,644.0 975.0,643.5 975.5,643.7 976.0,643.0 976.5,643.0 977.0,643.7 977.5,643.8 978.0,643.0 978.5,643.0 979.0,641.0 979.5,641.5 980.0,640.1 980.5,640.3 981.0,638.6 981.5,637.8 982.0,637.2 982.5,636.6 983.0,636.1 983.5,635.6 984.0,634.8 984.5,634.9 985.0,635.0 985.5,634.8 986.0,635.4 986.5,634.4 987.0,633.2 987.5,632.0 988.0,632.2 988.5,632.4 989.0,631.0 989.5,631.2 990.0,630.8 990.5,631.8 991.0,631.0 991.5,630.8 992.0,631.8 992.5,632.0 993.0,632.2 993.5,632.5 994.0,632.9 994.5,633.4 995.0,632.9 995.5,634.0 996.0,633.9 996.5,634.2 997.0,634.4 997.5,635.2 998.0,636.0 998.5,636.2 999.0,636.9 999.5,636.7 1000.0,636.0 1000.5,635.3 1001.0,635.0 1001.5,634.4 1002.0,634.4 1002.5,634.9 1003.0,634.3 1003.5,633.8 1004.0,632.1 1004.5,631.0 1005.0,632.5 1005.5,630.8 1006.0,630.2 1006.5,630.4 1007.0,630.8 1007.5,630.0 1008.0,629.9 1008.5,629.5 1009.0,629.0 1009.5,629.0 1010.0,628.1 1010.5,627.2 1011.0,627.2 1011.5,626.7 1012.0,626.2 1012.5,625.7 1013.0,624.4 1013.5,624.5 1014.0,624.1 1014.5,622.9 1015.0,622.5 1015.5,622.3 1016.0,623.0 1016.5,623.7 1017.0,622.5 1017.5,622.3 1018.0,623.2 1018.5,622.5 1019.0,622.4 1019.5,622.3 1020.0,623.1 1020.5,623.3 1021.0,623.6 1021.5,622.8 1022.0,622.3 1022.5,622.0 1023.0,622.2 1023.5,622.5 1024.0,622.2 1024.5,622.9 1025.0,622.9 1025.5,624.1 1026.0,624.7 1026.5,624.8 1027.0,624.5 1027.5,625.0 1028.0,625.7 1028.5,626.1 1029.0,625.5 1029.5,625.1 1030.0,625.3 1030.5,625.1 1031.0,625.2 1031.5,624.9 1032.0,624.5 1032.5,625.1 1033.0,625.8 1033.5,625.3 1034.0,626.0 1034.5,626.1 1035.0,626.5 1035.5,627.7 1036.0,628.5 1036.5,629.3 1037.0,629.6 1037.5,629.4 1038.0,630.1 1038.5,630.4 1039.0,629.4 1039.5,630.1 1040.0,629.6 1040.5,629.2 1041.0,628.4 1041.5,627.7 1042.0,627.3 1042.5,626.6 1043.0,625.6 1043.5,625.0 1044.0,625.3 1044.5,623.8 1045.0,622.6 1045.5,622.4 1046.0,621.7 1046.5,620.7 1047.0,620.9 1047.5,619.9 1048.0,619.6 1048.5,619.0 1049.0,618.0 1049.5,619.8 1050.0,621.3 1050.5,622.1 1051.0,622.5 1051.5,622.2 1052.0,623.2 1052.5,624.3 1053.0,624.2 1053.5,624.3 1054.0,625.4 1054.5,626.4 1055.0,628.4 1055.5,629.3 1056.0,631.9 1056.5,632.0 1057.0,632.8 1057.5,633.8 1058.0,635.6 1058.5,636.4 1059.0,637.6 1059.5,638.7 1060.0,639.2 1060.5,638.4 1061.0,638.3 1061.5,638.7 1062.0,638.3 1062.5,637.3 1063.0,637.7 1063.5,638.2 1064.0,638.6 1064.5,638.3 1065.0,638.6 1065.5,637.3 1066.0,637.4 1066.5,638.0 1067.0,637.7 1067.5,637.3 1068.0,636.7 1068.5,637.0 1069.0,637.1 1069.5,637.1 1070.0,636.0 1070.5,635.9 1071.0,635.7 1071.5,636.3 1072.0,636.0 1072.5,636.2 1073.0,636.6 1073.5,637.1 1074.0,636.9 1074.5,636.1 1075.0,635.4 1075.5,635.8 1076.0,635.2 1076.5,634.9 1077.0,634.4 1077.5,634.5 1078.0,633.8 1078.5,632.3 1079.0,632.0 1079.5,632.4 1080.0,632.7 1080.5,632.2 1081.0,632.0 1081.5,632.3 1082.0,631.8 1082.5,631.0 1083.0,630.7 1083.5,629.9 1084.0,629.5 1084.5,628.6 1085.0,627.6 1085.5,627.8 1086.0,627.7 1086.5,627.4 1087.0,627.0 1087.5,627.8 1088.0,626.8 1088.5,627.2 1089.0,626.0 1089.5,626.5 1090.0,626.1 1090.5,625.2 1091.0,624.3 1091.5,623.7 1092.0,623.4 1092.5,622.8 1093.0,622.3 1093.5,622.9 1094.0,622.3 1094.5,622.6 1095.0,622.1 1095.5,622.1 1096.0,622.6 1096.5,622.8 1097.0,622.9 1097.5,621.7 1098.0,621.6 1098.5,621.3 1099.0,621.3 1099.5,622.3 1100.0,621.6 1100.5,621.2 1101.0,621.7 1101.5,621.3 1102.0,620.8 1102.5,620.8 1103.0,621.4 1103.5,621.3 1104.0,621.2 1104.5,620.2 1105.0,620.5 1105.5,620.6 1106.0,620.5 1106.5,620.7 1107.0,620.2 1107.5,620.6 1108.0,620.5 1108.5,619.7 1109.0,619.8 1109.5,619.3 1110.0,619.3 1110.5,618.4 1111.0,618.9 1111.5,618.6 1112.0,619.5 1112.5,618.8 1113.0,618.4 1113.5,619.6 1114.0,619.6 1114.5,619.9 1115.0,620.2 1115.5,620.2 1116.0,620.2 1116.5,621.0 1117.0,621.2 1117.5,620.2 1118.0,620.6 1118.5,621.5 1119.0,622.1 1119.5,622.8 1120.0,622.9 1120.5,622.3 1121.0,623.3 1121.5,623.4 1122.0,623.1 1122.5,622.0 1123.0,622.2 1123.5,622.9 1124.0,623.2 1124.5,623.7 1125.0,624.3 1125.5,624.0 1126.0,624.2 1126.5,623.0 1127.0,622.9 1127.5,623.3 1128.0,623.5 1128.5,623.3 1129.0,623.3 1129.5,623.9 1130.0,624.2 1130.5,624.6 1131.0,624.8 1131.5,624.1 1132.0,624.9 1132.5,624.9 1133.0,624.0 1133.5,624.6 1134.0,623.9 1134.5,623.7 1135.0,624.3 1135.5,624.1 1136.0,624.3 1136.5,624.0 1137.0,624.4 1137.5,623.8 1138.0,623.7 1138.5,624.2 1139.0,624.3 1139.5,623.7 1140.0,623.4 1140.5,624.6 1141.0,624.6 1141.5,625.5 1142.0,624.5 1142.5,624.7 1143.0,624.4 1143.5,624.2 1144.0,623.7 1144.5,623.8 1145.0,624.1 1145.5,624.6 1146.0,624.7 1146.5,624.5 1147.0,624.2 1147.5,623.5 1148.0,624.0 1148.5,623.9 1149.0,624.4 1149.5,624.5 1150.0,625.2 1150.5,625.6 1151.0,625.7 1151.5,625.8 1152.0,626.3 1152.5,625.8 1153.0,625.1 1153.5,625.7 1154.0,624.9 1154.5,624.6 1155.0,624.3 1155.5,623.5 1156.0,623.1 1156.5,622.8 1157.0,623.4 1157.5,624.5 1158.0,624.9 1158.5,624.4 1159.0,624.6 1159.5,624.4 1160.0,625.1 1160.5,625.6 1161.0,625.5 1161.5,624.8 1162.0,625.7 1162.5,625.9 1163.0,625.9 1163.5,626.2 1164.0,625.6 1164.5,625.6 1165.0,626.9 1165.5,627.3 1166.0,626.8 1166.5,626.9 1167.0,627.8 1167.5,627.1 1168.0,628.0 1168.5,627.1 1169.0,627.2 1169.5,626.4 1170.0,626.7 1170.5,626.3 1171.0,627.6 1171.5,628.0 1172.0,627.9 1172.5,628.1 1173.0,628.2 1173.5,628.3 1174.0,628.6 1174.5,629.4 1175.0,628.7 1175.5,628.1 1176.0,628.0 1176.5,627.8 1177.0,627.9 1177.5,627.8 1178.0,628.2 1178.5,628.0 1179.0,628.0 1179.5,627.5 1180.0,627.4 1180.5,626.9 1181.0,627.7 1181.5,627.8 1182.0,628.5 1182.5,628.6 1183.0,628.6 1183.5,628.5 1184.0,628.5 1184.5,628.6 1185.0,628.1 1185.5,627.9 1186.0,628.4 1186.5,628.2 1187.0,628.2 1187.5,628.4 1188.0,627.6 1188.5,628.2 1189.0,628.6 1189.5,628.4 1190.0,628.7 1190.5,628.6 1191.0,628.9 1191.5,629.0 1192.0,628.4 1192.5,627.4 1193.0,627.3 1193.5,626.8 1194.0,626.3 1194.5,625.4 1195.0,625.1 1195.5,625.7 1196.0,626.3 1196.5,627.0 1197.0,627.5 1197.5,626.5 1198.0,625.6 1198.5,624.8 1199.0,624.5 1199.5,623.8 1200.0,624.2 1200.5,624.6 1201.0,625.3 1201.5,625.2 1202.0,624.6 1202.5,624.7 1203.0,623.3 1203.5,622.4 1204.0,622.8 1204.5,622.3 1205.0,621.2 1205.5,622.3 1206.0,621.6 1206.5,621.6 1207.0,622.1 1207.5,622.1 1208.0,621.9 1208.5,621.8 1209.0,621.5 1209.5,621.7 1210.0,622.8 1210.5,622.4 1211.0,621.8 1211.5,621.6 1212.0,622.1 1212.5,623.2 1213.0,624.4 1213.5,623.7 1214.0,623.9 1214.5,624.4 1215.0,624.3 1215.5,624.1 1216.0,623.6 1216.5,624.2 1217.0,623.6 1217.5,623.5 1218.0,623.4 1218.5,623.6 1219.0,624.0 1219.5,623.6 1220.0,624.0 1220.5,624.1 1221.0,624.3 1221.5,624.3 1222.0,625.1 1222.5,625.5 1223.0,625.9 1223.5,626.5 1224.0,625.7 1224.5,626.2 1225.0,626.3 1225.5,627.3 1226.0,627.7 1226.5,628.3 1227.0,628.8 1227.5,628.9 1228.0,628.6 1228.5,628.6 1229.0,628.2 1229.5,628.9 1230.0,628.6 1230.5,629.2 1231.0,629.8 1231.5,629.8 1232.0,630.5 1232.5,631.2 1233.0,631.6 1233.5,631.2 1234.0,631.0 1234.5,631.2 1235.0,630.8 1235.5,630.3 1236.0,631.6 1236.5,632.3 1237.0,632.8 1237.5,632.8 1238.0,632.5 1238.5,633.7 1239.0,634.3 1239.5,633.5 1240.0,633.1 1240.5,634.1 1241.0,634.8 1241.5,634.8 1242.0,635.5 1242.5,635.4 1243.0,635.8 1243.5,636.2 1244.0,635.8 1244.5,635.8 1245.0,634.8 1245.5,635.1 1246.0,635.8 1246.5,635.1 1247.0,634.6 1247.5,635.9 1248.0,635.2 1248.5,635.4 1249.0,636.2 1249.5,635.5 1250.0,636.0 1250.5,635.7 1251.0,635.4 1251.5,635.8 1252.0,635.9 1252.5,635.0 1253.0,633.8 1253.5,634.5 1254.0,634.8 1254.5,634.0 1255.0,634.0 1255.5,634.3 1256.0,635.5 1256.5,636.1 1257.0,635.9 1257.5,635.7 1258.0,635.9 1258.5,636.3 1259.0,635.2 1259.5,633.8 1260.0,634.8 1260.5,634.7 1261.0,634.3 1261.5,633.4 1262.0,633.3 1262.5,631.6 1263.0,631.6 1263.5,630.7 1264.0,631.7 1264.5,630.3 1265.0,629.6 1265.5,629.8 1266.0,629.8 1266.5,628.7 1267.0,628.9 1267.5,628.9 1268.0,628.0 1268.5,627.1 1269.0,627.9 1269.5,626.8 1270.0,626.4 1270.5,626.1 1271.0,626.9 1271.5,626.7 1272.0,626.3 1272.5,626.3 1273.0,625.4 1273.5,625.4 1274.0,626.1 1274.5,626.5 1275.0,626.7 1275.5,627.4 1276.0,627.8 1276.5,628.1 1277.0,628.3 1277.5,627.6 1278.0,626.9 1278.5,627.1 1279.0,627.3 1279.5,627.7 1280.0,627.7 1280.5,628.3 1281.0,627.7 1281.5,627.3 1282.0,627.1 1282.5,627.2 1283.0,627.6 1283.5,627.8 1284.0,627.6 1284.5,627.2 1285.0,627.1 1285.5,626.2 1286.0,625.9 1286.5,626.3 1287.0,626.2 1287.5,625.8 1288.0,626.6 1288.5,626.5 1289.0,627.3 1289.5,626.7 1290.0,626.5 1290.5,625.6 1291.0,626.3 1291.5,626.6 1292.0,626.7 1292.5,626.7 1293.0,625.8 1293.5,625.6 1294.0,626.2 1294.5,626.3 1295.0,625.3 1295.5,625.1 1296.0,624.7 1296.5,624.4 1297.0,624.7 1297.5,624.1 1298.0,624.4 1298.5,624.0 1299.0,623.4 1299.5,624.5 1300.0,624.6 1300.5,624.6 1301.0,624.3 1301.5,623.5 1302.0,623.4 1302.5,623.5 1303.0,623.0 1303.5,622.4 1304.0,623.0 1304.5,622.7 1305.0,623.5 1305.5,624.4 1306.0,625.6 1306.5,626.0 1307.0,625.6 1307.5,625.9 1308.0,626.2 1308.5,626.7 1309.0,627.6 1309.5,628.2 1310.0,628.9 1310.5,629.5 1311.0,630.0 1311.5,630.3 1312.0,629.5 1312.5,629.6 1313.0,629.8 1313.5,629.8 1314.0,629.4 1314.5,629.3 1315.0,628.9 1315.5,627.6 1316.0,626.8 1316.5,626.8 1317.0,627.3 1317.5,626.7 1318.0,626.5 1318.5,626.6 1319.0,627.4 1319.5,626.9 1320.0,626.7 1320.5,627.1 1321.0,627.0 1321.5,627.4 1322.0,627.0 1322.5,626.1 1323.0,624.8 1323.5,624.6 1324.0,624.4 1324.5,623.6 1325.0,623.5 1325.5,623.1 1326.0,622.3 1326.5,620.8 1327.0,621.0 1327.5,621.1 1328.0,620.5 1328.5,621.2 1329.0,620.6 1329.5,620.5 1330.0,620.1 1330.5,621.1 1331.0,621.3 1331.5,622.6 1332.0,622.9 1332.5,623.3 1333.0,623.8 1333.5,623.9 1334.0,624.8 1334.5,625.0 1335.0,625.2 1335.5,625.8 1336.0,625.5 1336.5,626.1 1337.0,625.9 1337.5,625.4 1338.0,626.3 1338.5,626.9 1339.0,627.6 1339.5,628.7 1340.0,629.2 1340.5,629.2 1341.0,629.5 1341.5,629.9 1342.0,629.9 1342.5,630.2 1343.0,630.8 1343.5,630.3 1344.0,631.2 1344.5,630.8 1345.0,631.3 1345.5,631.7 1346.0,631.9 1346.5,632.2 1347.0,632.2 1347.5,632.9 1348.0,633.2 1348.5,633.9 1349.0,634.3 1349.5,635.2 1350.0,636.1 1350.5,635.7 1351.0,636.5 1351.5,635.6 1352.0,635.5 1352.5,635.5 1353.0,636.2 1353.5,636.1 1354.0,635.2 1354.5,635.3 1355.0,635.7 1355.5,635.2 1356.0,636.0 1356.5,635.8 1357.0,635.4 1357.5,635.8 1358.0,636.4 1358.5,635.8 1359.0,635.6 1359.5,635.4 1360.0,635.4 1360.5,635.9 1361.0,637.2 1361.5,637.4 1362.0,637.2 1362.5,637.3 1363.0,638.7 1363.5,639.4 1364.0,639.8 1364.5,640.5 1365.0,640.6 1365.5,640.5 1366.0,642.1 1366.5,641.9 1367.0,641.3 1367.5,641.2 1368.0,642.6 1368.5,641.7 1369.0,641.8 1369.5,641.9 1370.0,642.4 1370.5,642.6 1371.0,642.9 1371.5,643.2 1372.0,643.6 1372.5,644.6 1373.0,644.0 1373.5,643.4 1374.0,644.3 1374.5,644.0 1375.0,644.1 1375.5,644.9 1376.0,646.2 1376.5,646.4 1377.0,647.0 1377.5,647.2 1378.0,647.7 1378.5,647.7 1379.0,647.5 1379.5,648.2 1380.0,648.8 1380.5,649.1 1381.0,649.3 1381.5,648.3 1382.0,649.4 1382.5,650.5 1383.0,650.2 1383.5,650.0 1384.0,649.0 1384.5,648.5 1385.0,648.9 1385.5,649.8 1386.0,650.7 1386.5,651.6 1387.0,651.7 1387.5,651.7 1388.0,652.0 1388.5,652.9 1389.0,652.7 1389.5,652.0 1390.0,652.5 1390.5,653.0 1391.0,652.5 1391.5,652.2 1392.0,652.8 1392.5,653.4 1393.0,653.6 1393.5,654.4 1394.0,654.0 1394.5,654.1 1395.0,654.3 1395.5,654.2 1396.0,653.5 1396.5,653.0 1397.0,653.9 1397.5,653.5 1398.0,653.4 1398.5,653.2 1399.0,654.0 1399.5,652.2 1400.0,651.5 1400.5,650.6 1401.0,651.0 1401.5,650.8 1402.0,651.2 1402.5,651.3 1403.0,650.6 1403.5,649.5 1404.0,648.8 1404.5,648.0 1405.0,648.7 1405.5,647.9 1406.0,647.9 1406.5,647.2 1407.0,646.8 1407.5,647.3 1408.0,647.5 1408.5,646.9 1409.0,646.8 1409.5,646.5 1410.0,645.8 1410.5,646.0 1411.0,645.2 1411.5,644.9 1412.0,643.4 1412.5,642.8 1413.0,642.1 1413.5,642.1 1414.0,642.2 1414.5,642.2 1415.0,642.1 1415.5,642.7 1416.0,643.2 1416.5,642.8 1417.0,642.8 1417.5,642.1 1418.0,641.6 1418.5,641.3 1419.0,640.7 1419.5,640.7 1420.0,639.6 1420.5,639.1 1421.0,639.1" fill="none" stroke="#1e90ff" stroke-width="5" stroke-linejoin="round" stroke-linecap="butt"/>
<polyline points="162.0,549.9 163.3,549.6 164.7,549.4 166.0,549.1 167.3,548.8 168.7,548.5 170.0,548.3 171.3,548.0 172.7,547.7 174.0,547.5 175.3,547.1 176.7,546.5 178.0,546.0 179.3,545.5 180.7,544.9 182.0,544.4 183.3,544.1 184.7,543.9 186.0,543.7 187.3,543.4 188.7,543.2 190.0,543.0 191.3,542.8 192.7,542.5 194.0,542.3 195.3,542.1 196.7,541.9 198.0,541.7 199.3,541.5 200.7,541.3 202.0,541.1 203.3,540.9 204.7,540.7 206.0,540.5 207.3,540.3 208.7,540.1 210.0,539.9 211.3,539.7 212.7,539.2 214.0,538.7 215.3,538.2 216.7,537.7 218.0,537.2 219.3,536.7 220.7,536.2 222.0,535.7 223.3,535.2 224.7,534.7 226.0,534.2 227.3,534.2 228.7,534.6 230.0,534.9 231.3,535.2 232.7,535.6 234.0,536.0 235.3,536.8 236.7,537.6 238.0,538.4 239.3,539.2 240.7,540.0 242.0,540.8 243.3,541.3 244.7,541.2 246.0,541.1 247.3,541.0 248.7,540.9 250.0,540.8 251.3,540.7 252.7,540.6 254.0,540.5 255.3,540.4 256.7,540.1 258.0,539.7 259.3,539.3 260.7,538.9 262.0,538.5 263.3,538.0 264.7,537.6 266.0,537.2 267.3,536.8 268.7,536.8 270.0,537.2 271.3,537.6 272.7,538.0 274.0,538.4 275.3,538.7 276.7,539.1 278.0,539.5 279.3,540.0 280.7,540.5 282.0,541.0 283.3,541.6 284.7,542.1 286.0,542.5 287.3,542.7 288.7,543.0 290.0,543.2 291.3,543.4 292.7,543.6 294.0,543.8 295.3,544.0 296.7,544.2 298.0,544.2 299.3,543.9 300.7,543.7 302.0,543.4 303.3,543.1 304.7,542.8 306.0,542.6 307.3,542.3 308.7,542.2 310.0,542.3 311.3,542.3 312.7,542.4 314.0,542.5 315.3,542.5 316.7,542.6 318.0,542.6 319.3,542.7 320.7,542.7 322.0,542.8 323.3,542.8 324.7,542.9 326.0,543.0 327.3,543.1 328.7,543.1 330.0,543.2 331.3,543.3 332.7,542.8 334.0,542.3 335.3,541.7 336.7,541.2 338.0,540.6 339.3,540.1 340.7,539.5 342.0,539.0 343.3,538.4 344.7,537.9 346.0,537.9 347.3,538.0 348.7,538.1 350.0,538.2 351.3,538.4 352.7,538.5 354.0,538.6 355.3,538.7 356.7,538.8 358.0,538.6 359.3,538.4 360.7,538.2 362.0,538.0 363.3,537.8 364.7,537.6 366.0,537.5 367.3,537.3 368.7,537.1 370.0,536.9 371.3,537.2 372.7,537.5 374.0,537.8 375.3,538.1 376.7,538.4 378.0,538.7 379.3,539.0 380.7,539.3 382.0,539.6 383.3,539.9 384.7,540.3 386.0,540.6 387.3,540.6 388.7,540.6 390.0,540.5 391.3,540.5 392.7,540.5 394.0,540.5 395.3,540.4 396.7,540.4 398.0,540.4 399.3,540.3 400.7,540.3 402.0,540.3 403.3,540.0 404.7,539.8 406.0,539.5 407.3,539.2 408.7,539.0 410.0,538.7 411.3,538.4 412.7,538.2 414.0,537.9 415.3,537.5 416.7,536.6 418.0,535.8 419.3,534.9 420.7,534.0 422.0,533.2 423.3,532.3 424.7,531.5 426.0,530.6 427.3,531.0 428.7,531.5 430.0,531.9 431.3,532.4 432.7,532.8 434.0,533.2 435.3,535.1 436.7,537.7 438.0,539.8 439.3,539.7 440.7,539.6 442.0,539.4 443.3,539.3 444.7,539.2 446.0,539.1 447.3,539.0 448.7,539.3 450.0,539.7 451.3,540.0 452.7,540.4 454.0,540.7 455.3,541.0 456.7,541.4 458.0,541.7 459.3,542.0 460.7,542.3 462.0,542.6 463.3,542.9 464.7,543.2 466.0,543.5 467.3,543.8 468.7,544.1 470.0,544.4 471.3,544.7 472.7,545.0 474.0,545.3 475.3,545.7 476.7,546.1 478.0,546.5 479.3,546.9 480.7,547.3 482.0,547.7 483.3,548.1 484.7,548.6 486.0,549.0 487.3,549.4 488.7,550.1 490.0,551.0 491.3,551.9 492.7,552.7 494.0,553.6 495.3,554.5 496.7,555.0 498.0,555.3 499.3,555.5 500.7,555.8 502.0,556.1 503.3,556.3 504.7,556.6 506.0,556.9 507.3,557.2 508.7,557.8 510.0,558.4 511.3,559.0 512.7,559.6 514.0,560.2 515.3,560.8 516.7,561.4 518.0,562.0 519.3,562.6 520.7,563.0 522.0,563.2 523.3,563.5 524.7,563.7 526.0,563.9 527.3,564.1 528.7,564.4 530.0,564.6 531.3,564.8 532.7,563.9 534.0,562.9 535.3,562.0 536.7,561.1 538.0,560.2 539.3,559.2 540.7,559.0 542.0,558.8 543.3,558.6 544.7,558.4 546.0,558.2 547.3,558.0 548.7,557.8 550.0,557.6 551.3,557.4 552.7,557.2 554.0,557.0 555.3,556.8 556.7,556.8 558.0,556.8 559.3,556.8 560.7,556.8 562.0,556.8 563.3,556.8 564.7,556.8 566.0,556.8 567.3,556.8 568.7,556.7 570.0,556.1 571.3,555.5 572.7,554.8 574.0,554.2 575.3,553.6 576.7,553.0 578.0,552.4 579.3,551.8 580.7,551.7 582.0,551.9 583.3,552.1 584.7,552.3 586.0,552.5 587.3,552.7 588.7,552.9 590.0,553.1 591.3,553.3 592.7,553.5 594.0,553.6 595.3,553.7 596.7,553.9 598.0,554.0 599.3,554.1 600.7,554.2 602.0,554.3 603.3,554.4" fill="none" stroke="#000" stroke-width="4" stroke-linejoin="round" stroke-linecap="butt"/>
<polyline points="162,551 162,549 162,549 162,549 163,547 163,550 163,549 163,549 163,548 164,551 164,552 164,549 164,549 164,550 164,551 164,550 165,551 165,549 165,547 165,549 165,550 166,548 166,549 166,550 166,548 166,549 166,548 166,547 167,546 167,546 167,548 167,550 167,549 168,549 168,547 168,548 168,550 168,546 168,547 168,548 169,547 169,546 169,548 169,548 169,546 170,551 170,547 170,549 170,546 170,547 170,550 170,547 171,547 171,550 171,548 171,550 171,548 172,547 172,547 172,548 172,548 172,550 172,548 172,550 173,546 173,548 173,545 173,546 173,547 174,548 174,547 174,546 174,546 174,547 174,545 174,547 175,547 175,548 175,547 175,547 175,549 176,546 176,547 176,545 176,547 176,546 176,549 176,545 177,545 177,546 177,547 177,545 177,544 178,544 178,545 178,547 178,548 178,544 178,545 178,545 179,547 179,545 179,546 179,546 179,547 180,548 180,547 180,549 180,544 180,546 180,547 180,545 181,545 181,547 181,546 181,543 181,543 182,547 182,547 182,543 182,546 182,545 182,545 182,544 183,543 183,546 183,546 183,546 183,548 184,547 184,545 184,549 184,546 184,545 184,545 184,546 185,545 185,545 185,546 185,544 185,546 186,544 186,545 186,547 186,545 186,543 186,544 186,543 187,545 187,547 187,545 187,546 187,544 188,546 188,543 188,545 188,542 188,543 188,546 188,544 189,544 189,544 189,545 189,545 189,542 190,541 190,544 190,542 190,542 190,544 190,544 190,545 191,544 191,543 191,547 191,543 191,542 192,545 192,544 192,544 192,544 192,545 192,549 192,543 193,543 193,545 193,546 193,543 193,544 194,542 194,543 194,547 194,542 194,541 194,545 194,544 195,545 195,543 195,542 195,541 195,544 196,542 196,543 196,544 196,542 196,544 196,545 196,544 197,541 197,544 197,541 197,540 197,544 198,544 198,540 198,541 198,541 198,541 198,542 198,538 199,541 199,540 199,544 199,542 199,542 200,540 200,542 200,541 200,546 200,539 200,540 200,541 201,541 201,544 201,542 201,540 201,538 202,539 202,542 202,542 202,541 202,540 202,540 202,537 203,542 203,540 203,541 203,540 203,542 204,541 204,540 204,535 204,536 204,538 204,538 204,538 205,541 205,541 205,542 205,537 205,540 206,543 206,541 206,541 206,542 206,540 206,539 206,541 207,541 207,542 207,540 207,538 207,537 208,540 208,539 208,539 208,540 208,537 208,541 208,540 209,539 209,538 209,540 209,539 209,541 210,539 210,538 210,540 210,538 210,541 210,541 210,544 211,539 211,542 211,542 211,541 211,537 212,541 212,538 212,537 212,537 212,541 212,541 212,540 213,540 213,537 213,536 213,538 213,539 214,539 214,538 214,542 214,539 214,538 214,541 214,541 215,541 215,539 215,539 215,536 215,540 216,542 216,539 216,539 216,541 216,540 216,539 216,539 217,539 217,542 217,539 217,538 217,538 218,540 218,537 218,540 218,539 218,537 218,540 218,539 219,537 219,541 219,536 219,541 219,538 220,537 220,536 220,536 220,537 220,536 220,534 220,537 221,534 221,535 221,535 221,537 221,536 222,535 222,537 222,537 222,538 222,539 222,534 222,535 223,532 223,536 223,536 223,534 223,536 224,535 224,536 224,534 224,536 224,536 224,535 224,534 225,536 225,533 225,534 225,532 225,534 226,531 226,532 226,534 226,531 226,533 226,533 226,534 227,534 227,533 227,533 227,533 227,536 228,533 228,533 228,533 228,533 228,533 228,533 228,530 229,532 229,532 229,533 229,534 229,534 230,532 230,534 230,534 230,532 230,534 230,532 230,536 231,534 231,537 231,537 231,538 231,537 232,536 232,538 232,537 232,536 232,537 232,534 232,536 233,536 233,536 233,535 233,538 233,534 234,536 234,536 234,535 234,536 234,536 234,536 234,537 235,538 235,537 235,537 235,538 235,540 236,539 236,538 236,537 236,537 236,535 236,538 236,535 237,535 237,538 237,539 237,537 237,538 238,538 238,539 238,541 238,538 238,537 238,537 238,537 239,538 239,539 239,539 239,539 239,538 240,538 240,538 240,541 240,540 240,540 240,539 240,542 241,541 241,540 241,541 241,539 241,541 242,541 242,538 242,540 242,543 242,543 242,540 242,540 243,542 243,544 243,540 243,543 243,541 244,544 244,541 244,543 244,539 244,541 244,538 244,539 245,541 245,540 245,539 245,541 245,541 246,540 246,540 246,541 246,542 246,540 246,541 246,541 247,540 247,541 247,539 247,539 247,541 248,540 248,543 248,541 248,539 248,541 248,542 248,542 249,541 249,544 249,539 249,542 249,542 250,543 250,543 250,539 250,540 250,541 250,542 250,539 251,540 251,540 251,539 251,539 251,541 252,542 252,539 252,541 252,539 252,540 252,538 252,539 253,538 253,542 253,540 253,541 253,540 254,540 254,541 254,540 254,540 254,540 254,540 254,540 255,541 255,540 255,541 255,537 255,540 256,542 256,539 256,539 256,539 256,541 256,540 256,539 257,539 257,541 257,542 257,543 257,542 258,537 258,540 258,541 258,540 258,541 258,539 258,539 259,539 259,539 259,539 259,540 259,541 260,539 260,540 260,538 260,540 260,541 260,540 260,540 261,539 261,543 261,540 261,542 261,541 262,538 262,540 262,537 262,539 262,537 262,537 262,539 263,539 263,540 263,540 263,538 263,537 264,539 264,541 264,539 264,537 264,538 264,538 264,539 265,538 265,537 265,539 265,536 265,539 266,538 266,539 266,541 266,538 266,536 266,538 266,537 267,537 267,539 267,537 267,536 267,539 268,537 268,539 268,538 268,538 268,538 268,539 268,538 269,539 269,539 269,536 269,537 269,535 270,542 270,540 270,539 270,538 270,537 270,537 270,536 271,536 271,538 271,539 271,539 271,539 272,539 272,537 272,538 272,535 272,538 272,538 272,539 273,538 273,536 273,540 273,540 273,539 274,540 274,535 274,538 274,538 274,538 274,537 274,539 275,540 275,540 275,538 275,540 275,541 276,540 276,537 276,540 276,540 276,537 276,538 276,541 277,541 277,540 277,540 277,538 277,538 278,540 278,541 278,539 278,539 278,541 278,538 278,541 279,539 279,539 279,539 279,540 279,540 280,541 280,539 280,539 280,541 280,541 280,538 280,542 281,538 281,539 281,541 281,541 281,542 282,539 282,543 282,539 282,542 282,540 282,541 282,545 283,542 283,542 283,543 283,541 283,541 284,540 284,541 284,541 284,542 284,543 284,541 284,542 285,543 285,542 285,543 285,542 285,542 286,541 286,540 286,544 286,544 286,543 286,542 286,546 287,542 287,545 287,545 287,542 287,545 288,546 288,543 288,544 288,543 288,546 288,543 288,543 289,544 289,543 289,545 289,544 289,542 290,546 290,545 290,545 290,543 290,544 290,544 290,543 291,545 291,542 291,544 291,544 291,547 292,545 292,546 292,545 292,545 292,543 292,545 292,543 293,546 293,545 293,545 293,542 293,547 294,545 294,545 294,547 294,548 294,550 294,546 294,544 295,548 295,545 295,545 295,546 295,548 296,545 296,547 296,547 296,547 296,547 296,546 296,547 297,549 297,545 297,545 297,547 297,549 298,546 298,545 298,545 298,548 298,544 298,547 298,545 299,546 299,547 299,545 299,548 299,544 300,548 300,545 300,545 300,545 300,545 300,546 300,546 301,546 301,546 301,546 301,542 301,544 302,546 302,547 302,547 302,544 302,545 302,547 302,545 303,545 303,547 303,546 303,547 303,548 304,544 304,547 304,544 304,546 304,546 304,544 304,544 305,545 305,541 305,544 305,543 305,544 306,545 306,545 306,542 306,543 306,544 306,546 306,543 307,545 307,544 307,545 307,542 307,540 308,544 308,541 308,540 308,543 308,544 308,542 308,545 309,543 309,543 309,542 309,545 309,544 310,541 310,543 310,540 310,543 310,544 310,542 310,543 311,540 311,540 311,544 311,543 311,541 312,541 312,541 312,545 312,545 312,545 312,543 312,543 313,544 313,543 313,543 313,545 313,544 314,543 314,546 314,546 314,544 314,544 314,542 314,543 315,544 315,545 315,543 315,545 315,542 316,546 316,544 316,545 316,547 316,546 316,541 316,545 317,545 317,544 317,544 317,544 317,543 318,547 318,546 318,547 318,543 318,544 318,543 318,543 319,543 319,542 319,544 319,545 319,545 320,543 320,543 320,547 320,542 320,543 320,546 320,544 321,543 321,543 321,544 321,543 321,540 322,543 322,544 322,540 322,542 322,547 322,544 322,544 323,542 323,543 323,542 323,543 323,540 324,541 324,544 324,540 324,542 324,543 324,540 324,542 325,541 325,540 325,542 325,542 325,540 326,541 326,542 326,541 326,542 326,542 326,542 326,542 327,541 327,543 327,542 327,540 327,541 328,542 328,540 328,542 328,540 328,540 328,541 328,543 329,541 329,542 329,542 329,541 329,541 330,543 330,540 330,542 330,541 330,541 330,541 330,541 331,544 331,541 331,542 331,542 331,542 332,542 332,541 332,544 332,542 332,541 332,542 332,541 333,540 333,543 333,543 333,543 333,539 334,541 334,542 334,541 334,542 334,542 334,541 334,541 335,541 335,540 335,543 335,542 335,539 336,540 336,540 336,540 336,541 336,540 336,540 336,538 337,542 337,541 337,538 337,540 337,540 338,541 338,541 338,544 338,541 338,541 338,540 338,542 339,541 339,538 339,541 339,541 339,539 340,541 340,542 340,539 340,540 340,539 340,542 340,540 341,538 341,538 341,537 341,537 341,538 342,538 342,539 342,537 342,539 342,540 342,539 342,540 343,539 343,539 343,539 343,539 343,538 344,538 344,537 344,537 344,537 344,538 344,537 344,541 345,538 345,539 345,539 345,539 345,539 346,536 346,538 346,538 346,537 346,539 346,539 346,537 347,539 347,540 347,538 347,540 347,539 348,536 348,538 348,541 348,540 348,539 348,540 348,536 349,539 349,538 349,541 349,537 349,538 350,539 350,538 350,539 350,536 350,539 350,539 350,538 351,536 351,536 351,540 351,537 351,537 352,539 352,537 352,536 352,538 352,539 352,537 352,539 353,537 353,541 353,538 353,541 353,539 354,536 354,538 354,538 354,537 354,538 354,540 354,541 355,539 355,539 355,540 355,536 355,539 356,538 356,539 356,536 356,539 356,538 356,541 356,538 357,539 357,539 357,540 357,538 357,535 358,538 358,539 358,537 358,539 358,539 358,540 358,539 359,538 359,536 359,538 359,540 359,540 360,535 360,538 360,537 360,537 360,538 360,538 360,537 361,538 361,535 361,537 361,539 361,539 362,538 362,537 362,535 362,539 362,538 362,540 362,538 363,538 363,538 363,538 363,539 363,538 364,537 364,539 364,539 364,537 364,538 364,538 364,538 365,539 365,538 365,537 365,539 365,537 366,536 366,539 366,537 366,538 366,542 366,537 366,538 367,537 367,539 367,539 367,534 367,538 368,538 368,538 368,536 368,537 368,537 368,534 368,536 369,537 369,535 369,539 369,538 369,537 370,537 370,539 370,537 370,539 370,537 370,537 370,536 371,539 371,536 371,538 371,538 371,537 372,537 372,538 372,538 372,537 372,537 372,538 372,538 373,535 373,536 373,539 373,536 373,538 374,539 374,535 374,537 374,535 374,538 374,538 374,539 375,540 375,536 375,536 375,535 375,537 376,537 376,539 376,538 376,539 376,536 376,537 376,536 377,538 377,539 377,537 377,538 377,538 378,540 378,536 378,538 378,541 378,540 378,538 378,539 379,541 379,540 379,537 379,539 379,539 380,541 380,542 380,540 380,539 380,541 380,540 380,541 381,541 381,540 381,539 381,540 381,537 382,540 382,542 382,539 382,540 382,542 382,539 382,540 383,537 383,541 383,541 383,542 383,540 384,541 384,541 384,540 384,539 384,540 384,539 384,541 385,540 385,541 385,541 385,540 385,542 386,540 386,541 386,542 386,541 386,541 386,540 386,540 387,539 387,541 387,544 387,542 387,541 388,541 388,541 388,541 388,539 388,540 388,541 388,542 389,543 389,545 389,540 389,543 389,541 390,540 390,543 390,540 390,541 390,540 390,537 390,543 391,541 391,540 391,543 391,542 391,540 392,542 392,537 392,541 392,538 392,537 392,540 392,540 393,540 393,538 393,538 393,539 393,537 394,538 394,541 394,538 394,538 394,539 394,537 394,538 395,543 395,538 395,539 395,542 395,539 396,538 396,540 396,538 396,539 396,540 396,539 396,542 397,536 397,541 397,539 397,541 397,540 398,543 398,540 398,541 398,538 398,538 398,538 398,538 399,540 399,541 399,538 399,540 399,539 400,540 400,538 400,539 400,538 400,539 400,541 400,536 401,540 401,537 401,537 401,539 401,539 402,539 402,542 402,541 402,539 402,545 402,538 402,538 403,541 403,539 403,539 403,540 403,540 404,538 404,541 404,542 404,541 404,540 404,541 404,541 405,540 405,539 405,541 405,539 405,540 406,537 406,536 406,541 406,536 406,535 406,535 406,537 407,536 407,536 407,536 407,539 407,540 408,538 408,535 408,539 408,541 408,538 408,537 408,538 409,539 409,540 409,541 409,539 409,537 410,538 410,539 410,538 410,539 410,539 410,538 410,535 411,537 411,538 411,537 411,538 411,538 412,540 412,538 412,540 412,535 412,543 412,537 412,536 413,535 413,538 413,537 413,538 413,538 414,538 414,536 414,537 414,536 414,537 414,536 414,537 415,539 415,540 415,537 415,535 415,537 416,540 416,538 416,539 416,539 416,538 416,537 416,535 417,535 417,538 417,540 417,540 417,536 418,540 418,537 418,538 418,538 418,537 418,534 418,536 419,534 419,537 419,535 419,536 419,536 420,536 420,535 420,534 420,534 420,535 420,535 420,535 421,533 421,534 421,532 421,535 421,533 422,534 422,535 422,531 422,532 422,534 422,533 422,533 423,531 423,533 423,530 423,535 423,531 424,533 424,532 424,531 424,531 424,535 424,527 424,531 425,530 425,532 425,530 425,532 425,529 426,529 426,531 426,534 426,532 426,531 426,530 426,529 427,529 427,531 427,529 427,528 427,529 428,531 428,533 428,530 428,531 428,531 428,528 428,531 429,531 429,528 429,532 429,531 429,530 430,531 430,534 430,530 430,532 430,529 430,531 430,532 431,530 431,533 431,530 431,532 431,534 432,531 432,532 432,534 432,534 432,534 432,532 432,534 433,535 433,533 433,533 433,533 433,532 434,534 434,532 434,536 434,535 434,532 434,532 434,532 435,534 435,534 435,532 435,534 435,531 436,533 436,534 436,536 436,537 436,536 436,534 436,537 437,536 437,538 437,538 437,539 437,538 438,539 438,541 438,539 438,539 438,539 438,539 438,538 439,538 439,540 439,541 439,539 439,539 440,538 440,541 440,537 440,538 440,538 440,540 440,540 441,542 441,541 441,541 441,537 441,540 442,539 442,540 442,538 442,540 442,540 442,538 442,539 443,540 443,539 443,540 443,538 443,541 444,537 444,540 444,542 444,541 444,538 444,541 444,538 445,538 445,539 445,539 445,537 445,540 446,537 446,541 446,538 446,537 446,540 446,541 446,540 447,539 447,541 447,541 447,541 447,539 448,541 448,543 448,541 448,539 448,543 448,541 448,540 449,540 449,542 449,540 449,541 449,541 450,540 450,540 450,539 450,542 450,544 450,539 450,540 451,544 451,541 451,538 451,540 451,538 452,538 452,541 452,541 452,541 452,539 452,540 452,542 453,540 453,539 453,540 453,540 453,540 454,542 454,539 454,540 454,541 454,542 454,542 454,541 455,539 455,539 455,539 455,541 455,540 456,542 456,543 456,541 456,542 456,542 456,544 456,543 457,543 457,543 457,543 457,543 457,542 458,541 458,540 458,544 458,540 458,542 458,541 458,543 459,542 459,542 459,544 459,544 459,541 460,544 460,544 460,542 460,541 460,542 460,543 460,544 461,544 461,544 461,541 461,546 461,543 462,543 462,544 462,544 462,544 462,545 462,543 462,544 463,543 463,541 463,542 463,546 463,546 464,542 464,545 464,542 464,545 464,542 464,543 464,543 465,542 465,542 465,545 465,542 465,543 466,544 466,544 466,542 466,546 466,546 466,544 466,543 467,545 467,542 467,547 467,546 467,547 468,546 468,544 468,546 468,541 468,542 468,544 468,544 469,543 469,543 469,545 469,543 469,543 470,545 470,544 470,545 470,545 470,543 470,544 470,543 471,546 471,547 471,542 471,541 471,544 472,543 472,544 472,547 472,545 472,545 472,544 472,545 473,543 473,544 473,543 473,542 473,546 474,543 474,544 474,547 474,544 474,546 474,542 474,545 475,545 475,546 475,544 475,548 475,545 476,545 476,542 476,546 476,543 476,545 476,543 476,544 477,544 477,547 477,546 477,544 477,544 478,542 478,545 478,545 478,548 478,546 478,544 478,547 479,546 479,546 479,549 479,553 479,546 480,548 480,551 480,547 480,549 480,550 480,546 480,547 481,548 481,551 481,550 481,547 481,546 482,548 482,547 482,547 482,546 482,547 482,547 482,548 483,550 483,551 483,549 483,544 483,548 484,550 484,549 484,549 484,550 484,550 484,548 484,545 485,548 485,546 485,550 485,551 485,547 486,548 486,551 486,551 486,552 486,551 486,548 486,548 487,551 487,552 487,550 487,552 487,552 488,552 488,548 488,550 488,548 488,547 488,546 488,548 489,550 489,551 489,550 489,551 489,550 490,550 490,550 490,550 490,548 490,550 490,550 490,550 491,550 491,549 491,549 491,549 491,548 492,550 492,549 492,548 492,551 492,547 492,552 492,551 493,549 493,553 493,552 493,553 493,553 494,553 494,551 494,551 494,551 494,554 494,556 494,554 495,551 495,555 495,555 495,557 495,556 496,555 496,556 496,554 496,556 496,554 496,555 496,559 497,557 497,554 497,556 497,555 497,555 498,554 498,555 498,557 498,558 498,554 498,555 498,557 499,555 499,557 499,554 499,556 499,553 500,552 500,555 500,554 500,556 500,553 500,553 500,555 501,554 501,551 501,554 501,557 501,554 502,556 502,553 502,553 502,556 502,553 502,556 502,558 503,554 503,555 503,553 503,554 503,558 504,554 504,553 504,557 504,558 504,556 504,558 504,556 505,558 505,557 505,558 505,557 505,557 506,558 506,555 506,558 506,557 506,555 506,557 506,555 507,557 507,556 507,557 507,555 507,556 508,556 508,555 508,558 508,558 508,557 508,555 508,556 509,557 509,559 509,558 509,557 509,556 510,557 510,557 510,557 510,558 510,559 510,559 510,561 511,563 511,561 511,560 511,560 511,559 512,558 512,561 512,561 512,562 512,561 512,561 512,561 513,559 513,558 513,561 513,559 513,560 514,561 514,563 514,562 514,559 514,560 514,564 514,560 515,558 515,561 515,560 515,562 515,560 516,561 516,560 516,558 516,560 516,559 516,561 516,560 517,560 517,559 517,561 517,561 517,563 518,565 518,564 518,564 518,563 518,563 518,563 518,562 519,562 519,560 519,562 519,564 519,561 520,560 520,562 520,563 520,562 520,565 520,562 520,565 521,568 521,565 521,559 521,565 521,562 522,564 522,563 522,567 522,563 522,563 522,562 522,563 523,563 523,564 523,562 523,564 523,562 524,562 524,566 524,564 524,566 524,562 524,563 524,564 525,564 525,561 525,563 525,563 525,563 526,565 526,563 526,561 526,562 526,562 526,563 526,566 527,564 527,564 527,563 527,564 527,566 528,565 528,563 528,563 528,566 528,563 528,560 528,563 529,565 529,566 529,564 529,565 529,566 530,567 530,561 530,565 530,565 530,566 530,564 530,567 531,567 531,566 531,566 531,566 531,562 532,565 532,563 532,565 532,563 532,564 532,564 532,565 533,565 533,560 533,560 533,562 533,563 534,563 534,560 534,563 534,562 534,562 534,562 534,562 535,561 535,560 535,559 535,561 535,560 536,562 536,557 536,561 536,560 536,562 536,561 536,561 537,563 537,561 537,560 537,561 537,559 538,561 538,557 538,558 538,558 538,557 538,559 538,560 539,560 539,557 539,560 539,557 539,560 540,561 540,559 540,560 540,560 540,559 540,562 540,559 541,563 541,557 541,559 541,556 541,558 542,560 542,559 542,559 542,556 542,559 542,558 542,557 543,560 543,558 543,557 543,558 543,557 544,556 544,558 544,562 544,560 544,559 544,558 544,558 545,557 545,559 545,557 545,556 545,558 546,558 546,557 546,558 546,559 546,557 546,557 546,557 547,558 547,559 547,558 547,560 547,557 548,562 548,558 548,560 548,558 548,557 548,559 548,558 549,556 549,558 549,560 549,560 549,559 550,558 550,558 550,561 550,559 550,555 550,558 550,558 551,558 551,557 551,558 551,560 551,559 552,561 552,558 552,559 552,561 552,561 552,560 552,559 553,558 553,557 553,560 553,558 553,559 554,559 554,559 554,556 554,557 554,559 554,556 554,557 555,555 555,558 555,557 555,557 555,559 556,558 556,560 556,557 556,558 556,558 556,556 556,560 557,554 557,557 557,556 557,556 557,554 558,557 558,556 558,559 558,555 558,557 558,557 558,556 559,556 559,557 559,558 559,556 559,557 560,559 560,557 560,559 560,556 560,558 560,558 560,557 561,558 561,558 561,557 561,558 561,559 562,556 562,558 562,558 562,556 562,557 562,558 562,555 563,557 563,559 563,557 563,556 563,558 564,555 564,558 564,560 564,558 564,557 564,558 564,556 565,557 565,558 565,556 565,558 565,560 566,556 566,556 566,557 566,557 566,557 566,558 566,559 567,555 567,556 567,555 567,559 567,556 568,556 568,556 568,555 568,558 568,554 568,556 568,556 569,555 569,555 569,557 569,556 569,554 570,555 570,554 570,553 570,554 570,554 570,554 570,553 571,557 571,554 571,554 571,555 571,560 572,555 572,556 572,557 572,557 572,554 572,554 572,555 573,558 573,553 573,555 573,552 573,555 574,554 574,554 574,555 574,555 574,551 574,552 574,552 575,552 575,552 575,552 575,553 575,552 576,553 576,555 576,556 576,555 576,552 576,553 576,553 577,553 577,554 577,554 577,555 577,553 578,556 578,551 578,554 578,554 578,553 578,553 578,550 579,552 579,552 579,551 579,551 579,551 580,550 580,552 580,551 580,551 580,551 580,551 580,553 581,552 581,553 581,550 581,551 581,551 582,552 582,550 582,551 582,552 582,552 582,551 582,553 583,552 583,552 583,549 583,551 583,553 584,553 584,553 584,550 584,550 584,552 584,552 584,552 585,553 585,550 585,552 585,551 585,552 586,551 586,552 586,549 586,552 586,551 586,553 586,555 587,553 587,553 587,552 587,550 587,550 588,552 588,552 588,554 588,552 588,552 588,550 588,550 589,552 589,551 589,550 589,553 589,550 590,551 590,554 590,551 590,549 590,556 590,552 590,553 591,554 591,559 591,553 591,555 591,553 592,555 592,553 592,554 592,552 592,552 592,553 592,554 593,553 593,555 593,554 593,552 593,550 594,552 594,552 594,553 594,551 594,553 594,552 594,551 595,550 595,549 595,553 595,551 595,550 596,554 596,552 596,552 596,552 596,553 596,551 596,553 597,551 597,551 597,553 597,553 597,549 598,551 598,553 598,552 598,553 598,552 598,555 598,553 599,553 599,553 599,553 599,552 599,552 600,553 600,552 600,555 600,557 600,552 600,557 600,557 601,556 601,553 601,555 601,556 601,555 602,555 602,556 602,554 602,552 602,553 602,553 602,553 603,553 603,555 603,555 603,555 603,556 604,554 604,554 604,553 604,556" fill="none" stroke="none" marker-start="url(#mx)" marker-mid="url(#mx)" marker-end="url(#mx)"/>
<polyline points="632.5,552.6 633.8,553.0 635.2,553.3 636.5,553.7 637.8,554.0 639.2,554.4 640.5,554.7 641.8,555.1 643.2,555.4 644.5,555.8 645.8,556.1 647.2,556.4 648.5,556.6 649.8,556.9 651.2,557.1 652.5,557.3 653.8,557.5 655.2,557.8 656.5,558.0 657.8,558.2 659.2,558.4 660.5,558.6 661.8,558.9 663.2,559.4 664.5,560.2 665.8,561.0 667.2,561.8 668.5,562.7 669.8,563.5 671.2,564.3 672.5,565.1 673.8,566.0 675.2,565.9 676.5,565.7 677.8,565.6 679.2,565.5 680.5,565.3 681.8,565.2 683.2,566.0 684.5,566.8 685.8,567.6 687.2,568.4 688.5,569.6 689.8,574.6 691.2,575.1 692.5,575.0 693.8,574.8 695.2,574.7 696.5,574.6 697.8,574.5 699.2,574.3 700.5,574.2 701.8,574.1 703.2,573.9 704.5,573.6 705.8,573.3 707.2,572.9 708.5,572.6 709.8,572.3 711.2,571.9 712.5,571.6 713.8,571.3 715.2,571.0 716.5,570.6 717.8,570.3 719.2,570.1 720.5,570.7 721.8,571.2 723.2,571.8 724.5,572.4 725.8,573.0 727.2,573.5 728.5,574.1 729.8,574.7 731.2,575.3 732.5,575.5 733.8,575.3 735.2,575.1 736.5,574.8 737.8,574.6 739.2,574.4 740.5,574.2 741.8,574.0 743.2,573.7 744.5,573.5 745.8,573.3 747.2,573.1 748.5,572.9 749.8,572.6 751.2,572.4 752.5,572.1 753.8,571.8 755.2,571.4 756.5,571.1 757.8,570.8 759.2,570.4 760.5,570.1 761.8,569.8 763.2,569.5 764.5,569.1 765.8,568.8 767.2,568.5 768.5,567.9 769.8,567.2 771.2,566.5 772.5,565.9 773.8,565.2 775.2,564.6 776.5,564.2 777.8,564.0 779.2,563.7 780.5,563.5 781.8,563.2 783.2,563.0 784.5,562.8 785.8,562.5 787.2,562.3 788.5,562.0 789.8,561.8 791.2,561.6 792.5,561.3 793.8,561.1 795.2,560.8 796.5,560.6 797.8,560.3 799.2,560.1 800.5,560.1 801.8,560.4 803.2,560.6 804.5,560.9 805.8,561.1 807.2,561.3 808.5,561.6 809.8,561.8 811.2,562.0 812.5,562.3 813.8,562.2 815.2,562.1 816.5,561.9 817.8,561.8 819.2,561.7 820.5,561.6 821.8,561.7 823.2,561.7 824.5,561.8 825.8,561.9 827.2,561.9 828.5,562.0 829.8,562.0 831.2,562.1 832.5,562.1 833.8,562.2 835.2,562.3 836.5,562.6 837.8,563.7 839.2,564.7 840.5,565.8 841.8,566.9 843.2,567.9 844.5,569.0 845.8,570.1 847.2,571.1 848.5,571.3 849.8,571.3 851.2,571.3 852.5,571.3 853.8,571.3 855.2,571.3 856.5,571.3 857.8,571.3 859.2,571.3 860.5,571.4 861.8,572.4 863.2,573.3 864.5,574.2 865.8,575.2 867.2,576.1 868.5,577.0 869.8,578.0 871.2,577.8 872.5,577.4 873.8,577.0 875.2,576.6 876.5,576.3 877.8,575.9 879.2,575.5 880.5,575.1 881.8,574.8 883.2,574.4 884.5,574.0 885.8,572.6 887.2,571.2 888.5,569.8 889.8,568.5 891.2,567.1 892.5,565.7 893.8,564.3 895.2,562.9 896.5,561.5 897.8,560.6 899.2,560.5 900.5,560.5 901.8,560.4 903.2,560.3 904.5,560.3 905.8,560.2 907.2,560.1 908.5,560.1 909.8,560.0 911.2,560.0 912.5,559.9 913.8,559.9 915.2,559.8 916.5,559.8 917.8,559.7 919.2,559.7 920.5,559.6 921.8,559.6 923.2,559.6 924.5,559.5 925.8,558.7 927.2,557.7 928.5,556.7 929.8,555.7 931.2,554.7 932.5,553.7 933.8,552.7 935.2,551.7 936.5,551.1 937.8,551.3 939.2,551.6 940.5,551.9 941.8,552.1 943.2,552.4 944.5,552.6 945.8,552.9 947.2,553.1 948.5,553.4 949.8,553.6 951.2,553.7 952.5,553.8 953.8,553.9 955.2,554.0 956.5,554.1 957.8,554.9 959.2,556.1 960.5,557.3 961.8,558.5 963.2,559.7 964.5,561.0 965.8,561.8 967.2,562.1 968.5,562.4 969.8,562.8 971.2,563.1 972.5,562.6 973.8,561.8 975.2,561.0 976.5,560.1 977.8,559.3 979.2,558.4 980.5,557.6 981.8,556.7 983.2,555.8 984.5,554.9 985.8,554.0 987.2,553.0 988.5,552.1 989.8,551.5 991.2,551.4 992.5,551.3 993.8,551.2 995.2,551.1 996.5,551.0 997.8,550.9 999.2,550.8 1000.5,550.7 1001.8,550.6 1003.2,550.5 1004.5,550.4 1005.8,550.0 1007.2,548.6 1008.5,547.3 1009.8,546.0 1011.2,544.6 1012.5,543.3 1013.8,542.3 1015.2,542.5 1016.5,542.6 1017.8,542.7 1019.2,542.9 1020.5,543.0 1021.8,543.1 1023.2,543.3 1024.5,543.4 1025.8,543.5 1027.2,543.6 1028.5,543.8 1029.8,543.9 1031.2,544.3 1032.5,544.7 1033.8,545.1 1035.2,545.4 1036.5,545.8 1037.8,546.2 1039.2,546.5 1040.5,545.6 1041.8,544.3 1043.2,543.1 1044.5,541.9 1045.8,540.6 1047.2,539.4 1048.5,538.2 1049.8,539.3 1051.2,542.0 1052.5,544.6 1053.8,547.3 1055.2,549.4 1056.5,551.5 1057.8,553.6 1059.2,555.7 1060.5,556.5 1061.8,556.6 1063.2,556.7 1064.5,556.8 1065.8,556.8 1067.2,556.9 1068.5,557.0 1069.8,557.0 1071.2,557.0 1072.5,556.5 1073.8,556.0 1075.2,555.5 1076.5,555.0 1077.8,554.4 1079.2,553.9 1080.5,553.4 1081.8,552.9 1083.2,551.9 1084.5,550.6 1085.8,549.4 1087.2,548.1 1088.5,546.9 1089.8,545.6 1091.2,545.0 1092.5,544.8 1093.8,544.5 1095.2,544.2 1096.5,543.9 1097.8,543.7 1099.2,543.4 1100.5,543.1 1101.8,542.9 1103.2,542.6 1104.5,542.3 1105.8,542.0 1107.2,541.9 1108.5,541.9 1109.8,542.0 1111.2,542.0 1112.5,542.0 1113.8,542.1 1115.2,542.1 1116.5,542.1 1117.8,542.2 1119.2,542.2 1120.5,542.2 1121.8,542.3 1123.2,542.4 1124.5,542.6 1125.8,542.9 1127.2,543.1 1128.5,543.4 1129.8,543.6 1131.2,543.8 1132.5,544.1 1133.8,544.3 1135.2,544.6 1136.5,544.8 1137.8,545.0 1139.2,545.2 1140.5,545.2 1141.8,545.2 1143.2,545.2 1144.5,545.2 1145.8,545.2 1147.2,545.2 1148.5,545.2 1149.8,545.2 1151.2,545.2 1152.5,545.2 1153.8,545.2 1155.2,545.2 1156.5,545.2 1157.8,545.3 1159.2,545.3 1160.5,545.3 1161.8,545.3 1163.2,545.4 1164.5,545.4 1165.8,545.4 1167.2,545.4 1168.5,545.5 1169.8,545.5 1171.2,545.5 1172.5,546.0 1173.8,546.4 1175.2,546.7 1176.5,547.1 1177.8,547.6 1179.2,547.9 1180.5,547.8 1181.8,547.8 1183.2,547.7 1184.5,547.6 1185.8,547.6 1187.2,547.5 1188.5,547.4 1189.8,547.4 1191.2,547.3 1192.5,547.2 1193.8,547.2 1195.2,547.1 1196.5,546.5 1197.8,545.9 1199.2,545.2 1200.5,544.6 1201.8,544.0 1203.2,543.4 1204.5,542.7 1205.8,542.1 1207.2,541.5 1208.5,540.9 1209.8,540.3 1211.2,540.6 1212.5,540.9 1213.8,541.1 1215.2,541.4 1216.5,541.7 1217.8,542.0 1219.2,542.9 1220.5,543.9 1221.8,544.8 1223.2,545.7 1224.5,546.7 1225.8,547.6 1227.2,548.5 1228.5,549.0 1229.8,549.4 1231.2,549.8 1232.5,550.1 1233.8,550.5 1235.2,550.9 1236.5,551.2 1237.8,551.6 1239.2,552.0 1240.5,552.4 1241.8,552.7 1243.2,553.1 1244.5,553.3 1245.8,553.5 1247.2,553.7 1248.5,553.8 1249.8,554.0 1251.2,554.1 1252.5,554.3 1253.8,554.5 1255.2,554.6 1256.5,554.8 1257.8,553.9 1259.2,553.0 1260.5,552.2 1261.8,551.3 1263.2,550.4 1264.5,549.5 1265.8,548.6 1267.2,547.8 1268.5,547.4 1269.8,547.5 1271.2,547.5 1272.5,547.5 1273.8,547.6 1275.2,547.6 1276.5,547.7 1277.8,547.7 1279.2,547.8 1280.5,547.8 1281.8,547.6 1283.2,547.3 1284.5,547.1 1285.8,546.8 1287.2,546.6 1288.5,546.3 1289.8,546.0 1291.2,545.8 1292.5,545.4 1293.8,545.1 1295.2,544.7 1296.5,544.4 1297.8,544.0 1299.2,543.6 1300.5,543.3 1301.8,542.9 1303.2,543.1 1304.5,543.6 1305.8,544.1 1307.2,544.5 1308.5,545.0 1309.8,545.5 1311.2,545.9 1312.5,546.4 1313.8,546.3 1315.2,545.8 1316.5,545.4 1317.8,544.9 1319.2,544.5 1320.5,544.0 1321.8,543.5 1323.2,543.1 1324.5,542.6 1325.8,542.1 1327.2,541.7 1328.5,541.2 1329.8,541.4 1331.2,542.2 1332.5,542.9 1333.8,543.7 1335.2,544.4 1336.5,545.2 1337.8,545.9 1339.2,546.7 1340.5,547.7 1341.8,549.0 1343.2,550.2 1344.5,551.5 1345.8,552.8 1347.2,554.1 1348.5,554.4 1349.8,554.6 1351.2,554.8 1352.5,555.0 1353.8,555.2 1355.2,555.4 1356.5,555.5 1357.8,555.7 1359.2,555.9 1360.5,556.1 1361.8,556.3 1363.2,556.6 1364.5,557.0 1365.8,557.3 1367.2,557.6 1368.5,558.0 1369.8,558.3 1371.2,558.6 1372.5,559.4 1373.8,561.6 1375.2,563.7 1376.5,565.9 1377.8,567.6 1379.2,567.8 1380.5,568.1 1381.8,568.4 1383.2,568.7 1384.5,568.9 1385.8,569.2 1387.2,569.5 1388.5,569.7 1389.8,569.9 1391.2,570.1 1392.5,570.3 1393.8,570.5 1395.2,570.7 1396.5,570.9 1397.8,571.1 1399.2,571.2 1400.5,570.4 1401.8,569.6 1403.2,568.8 1404.5,568.0 1405.8,567.2 1407.2,566.4 1408.5,565.6 1409.8,564.8 1411.2,564.3 1412.5,563.9 1413.8,563.5 1415.2,563.0 1416.5,562.6 1417.8,562.1 1419.2,561.7 1420.5,561.3" fill="none" stroke="#000" stroke-width="4" stroke-linejoin="round" stroke-linecap="butt"/>
<polyline points="632,556 633,554 633,556 633,554 633,551 633,553 634,552 634,553 634,554 634,552 634,552 634,553 634,553 635,555 635,555 635,555 635,551 635,555 636,552 636,554 636,550 636,553 636,552 636,555 636,552 637,552 637,553 637,554 637,553 637,554 638,551 638,551 638,549 638,554 638,552 638,551 638,553 639,553 639,556 639,553 639,552 639,553 640,552 640,554 640,555 640,556 640,557 640,557 640,557 641,554 641,556 641,558 641,556 641,557 642,554 642,556 642,555 642,553 642,556 642,556 642,553 643,555 643,556 643,555 643,557 643,558 644,558 644,559 644,555 644,555 644,556 644,558 644,556 645,559 645,560 645,556 645,556 645,557 646,556 646,554 646,558 646,556 646,557 646,555 646,556 647,557 647,557 647,556 647,556 647,557 648,553 648,555 648,554 648,556 648,558 648,555 648,555 649,557 649,556 649,557 649,556 649,558 650,558 650,556 650,558 650,557 650,556 650,560 650,559 651,558 651,556 651,559 651,559 651,558 652,560 652,560 652,560 652,556 652,561 652,558 652,559 653,560 653,559 653,559 653,559 653,559 654,561 654,561 654,560 654,559 654,558 654,557 654,559 655,560 655,557 655,560 655,562 655,559 656,558 656,558 656,559 656,557 656,559 656,558 656,556 657,561 657,557 657,560 657,559 657,560 658,560 658,559 658,559 658,559 658,560 658,559 658,558 659,562 659,560 659,558 659,557 659,558 660,560 660,562 660,560 660,561 660,561 660,560 660,560 661,561 661,561 661,561 661,557 661,558 662,560 662,561 662,558 662,561 662,562 662,560 662,560 663,561 663,560 663,562 663,562 663,558 664,559 664,558 664,560 664,562 664,559 664,559 664,558 665,559 665,560 665,562 665,557 665,562 666,560 666,560 666,563 666,561 666,560 666,561 666,560 667,561 667,562 667,562 667,561 667,563 668,560 668,562 668,563 668,560 668,561 668,562 668,560 669,564 669,564 669,563 669,563 669,565 670,566 670,564 670,563 670,565 670,564 670,563 670,564 671,565 671,561 671,570 671,565 671,566 672,566 672,563 672,567 672,568 672,566 672,563 672,565 673,565 673,564 673,563 673,566 673,565 674,567 674,566 674,568 674,564 674,564 674,567 674,567 675,568 675,566 675,568 675,565 675,565 676,566 676,566 676,565 676,568 676,564 676,566 676,564 677,565 677,569 677,568 677,567 677,565 678,563 678,565 678,565 678,563 678,564 678,567 678,565 679,566 679,564 679,567 679,567 679,568 680,565 680,568 680,565 680,570 680,568 680,568 680,570 681,567 681,567 681,564 681,568 681,566 682,566 682,567 682,566 682,569 682,568 682,569 682,566 683,566 683,569 683,568 683,565 683,567 684,568 684,567 684,569 684,570 684,565 684,569 684,566 685,567 685,570 685,570 685,568 685,566 686,566 686,568 686,567 686,567 686,567 686,567 686,568 687,568 687,568 687,567 687,569 687,567 688,570 688,567 688,568 688,570 688,568 688,570 688,569 689,570 689,571 689,574 689,574 689,573 690,571 690,575 690,574 690,577 690,575 690,573 690,574 691,575 691,575 691,576 691,577 691,574 692,576 692,576 692,577 692,576 692,578 692,578 692,576 693,577 693,575 693,575 693,574 693,572 694,572 694,578 694,576 694,575 694,578 694,576 694,577 695,577 695,574 695,574 695,574 695,573 696,575 696,576 696,575 696,576 696,576 696,576 696,576 697,575 697,577 697,574 697,576 697,578 698,572 698,575 698,573 698,574 698,573 698,572 698,574 699,574 699,574 699,574 699,575 699,576 700,575 700,575 700,574 700,571 700,573 700,570 700,575 701,577 701,573 701,575 701,574 701,574 702,572 702,573 702,573 702,575 702,575 702,574 702,576 703,577 703,574 703,576 703,574 703,573 704,574 704,574 704,574 704,574 704,577 704,571 704,576 705,573 705,573 705,573 705,575 705,570 706,575 706,572 706,575 706,570 706,572 706,575 706,571 707,572 707,571 707,576 707,574 707,576 708,576 708,578 708,576 708,576 708,574 708,576 708,575 709,573 709,575 709,574 709,574 709,572 710,572 710,571 710,574 710,572 710,574 710,571 710,574 711,571 711,571 711,572 711,572 711,573 712,571 712,573 712,572 712,574 712,570 712,572 712,571 713,571 713,571 713,569 713,569 713,570 714,569 714,570 714,571 714,572 714,570 714,570 714,570 715,569 715,570 715,571 715,570 715,569 716,569 716,569 716,569 716,568 716,567 716,568 716,566 717,569 717,571 717,566 717,572 717,567 718,571 718,569 718,570 718,571 718,571 718,571 718,570 719,569 719,567 719,568 719,571 719,570 720,570 720,571 720,573 720,573 720,568 720,571 720,570 721,572 721,572 721,568 721,569 721,571 722,571 722,571 722,573 722,571 722,573 722,574 722,575 723,572 723,573 723,571 723,576 723,573 724,574 724,574 724,574 724,572 724,572 724,575 724,570 725,571 725,571 725,573 725,572 725,575 726,575 726,573 726,574 726,573 726,575 726,573 726,574 727,576 727,574 727,575 727,574 727,576 728,572 728,576 728,573 728,574 728,577 728,576 728,575 729,574 729,574 729,576 729,577 729,575 730,576 730,574 730,575 730,575 730,575 730,574 730,577 731,576 731,576 731,574 731,574 731,573 732,576 732,576 732,577 732,576 732,575 732,574 732,577 733,576 733,575 733,575 733,574 733,575 734,575 734,576 734,578 734,574 734,575 734,575 734,573 735,575 735,573 735,573 735,574 735,576 736,572 736,573 736,571 736,573 736,573 736,574 736,574 737,573 737,571 737,574 737,574 737,576 738,575 738,573 738,573 738,574 738,576 738,571 738,574 739,573 739,573 739,573 739,574 739,574 740,575 740,569 740,574 740,573 740,573 740,574 740,573 741,574 741,575 741,573 741,572 741,574 742,575 742,574 742,574 742,572 742,576 742,573 742,575 743,574 743,572 743,575 743,577 743,573 744,574 744,574 744,576 744,575 744,575 744,575 744,577 745,577 745,574 745,576 745,577 745,577 746,575 746,576 746,574 746,573 746,574 746,573 746,574 747,573 747,572 747,573 747,574 747,575 748,575 748,574 748,572 748,574 748,574 748,572 748,574 749,575 749,572 749,574 749,576 749,575 750,571 750,571 750,573 750,575 750,572 750,573 750,572 751,574 751,570 751,572 751,572 751,571 752,572 752,571 752,570 752,574 752,575 752,572 752,573 753,573 753,570 753,573 753,572 753,570 754,571 754,571 754,572 754,577 754,572 754,573 754,573 755,574 755,572 755,572 755,570 755,572 756,572 756,570 756,573 756,573 756,571 756,572 756,570 757,569 757,573 757,572 757,572 757,574 758,573 758,569 758,568 758,569 758,569 758,573 758,571 759,569 759,574 759,571 759,576 759,572 760,570 760,568 760,571 760,569 760,571 760,573 760,572 761,571 761,571 761,571 761,569 761,569 762,573 762,569 762,573 762,570 762,569 762,570 762,570 763,569 763,572 763,571 763,568 763,567 764,570 764,570 764,569 764,569 764,569 764,567 764,571 765,570 765,571 765,570 765,569 765,568 766,570 766,571 766,570 766,569 766,568 766,570 766,567 767,568 767,568 767,570 767,569 767,568 768,570 768,570 768,568 768,570 768,566 768,566 768,570 769,568 769,568 769,570 769,567 769,567 770,567 770,568 770,567 770,568 770,567 770,567 770,568 771,567 771,568 771,569 771,567 771,567 772,567 772,565 772,565 772,567 772,569 772,566 772,565 773,565 773,566 773,567 773,567 773,567 774,567 774,565 774,563 774,566 774,566 774,564 774,567 775,563 775,562 775,564 775,564 775,567 776,564 776,563 776,565 776,563 776,564 776,561 776,563 777,564 777,561 777,561 777,564 777,564 778,564 778,565 778,566 778,566 778,567 778,561 778,562 779,564 779,566 779,568 779,564 779,563 780,564 780,563 780,565 780,565 780,565 780,562 780,563 781,562 781,562 781,562 781,563 781,567 782,568 782,563 782,566 782,565 782,564 782,562 782,565 783,564 783,562 783,565 783,565 783,563 784,564 784,563 784,567 784,565 784,564 784,565 784,565 785,563 785,564 785,564 785,562 785,562 786,563 786,563 786,564 786,563 786,563 786,563 786,563 787,563 787,562 787,563 787,563 787,564 788,562 788,560 788,558 788,560 788,559 788,561 788,560 789,561 789,561 789,562 789,560 789,561 790,561 790,560 790,560 790,560 790,565 790,561 790,560 791,562 791,562 791,560 791,559 791,561 792,561 792,560 792,563 792,560 792,560 792,560 792,560 793,559 793,560 793,560 793,560 793,561 794,559 794,560 794,560 794,559 794,561 794,562 794,559 795,559 795,562 795,558 795,560 795,558 796,560 796,561 796,561 796,560 796,557 796,557 796,558 797,559 797,560 797,560 797,560 797,559 798,560 798,558 798,561 798,559 798,558 798,558 798,559 799,560 799,557 799,556 799,559 799,558 800,557 800,561 800,559 800,560 800,560 800,558 800,558 801,558 801,561 801,563 801,560 801,560 802,562 802,560 802,560 802,561 802,561 802,562 802,562 803,559 803,560 803,559 803,561 803,562 804,561 804,560 804,561 804,562 804,562 804,562 804,561 805,561 805,560 805,561 805,561 805,560 806,560 806,560 806,562 806,558 806,562 806,565 806,564 807,561 807,560 807,560 807,562 807,563 808,560 808,563 808,563 808,564 808,563 808,564 808,564 809,565 809,563 809,561 809,563 809,564 810,565 810,565 810,561 810,563 810,565 810,564 810,561 811,561 811,566 811,564 811,565 811,563 812,564 812,564 812,563 812,563 812,565 812,562 812,564 813,562 813,563 813,564 813,564 813,566 814,563 814,562 814,564 814,562 814,559 814,560 814,561 815,564 815,564 815,565 815,564 815,561 816,562 816,561 816,562 816,560 816,562 816,561 816,560 817,562 817,561 817,563 817,564 817,564 818,563 818,561 818,561 818,560 818,562 818,563 818,562 819,563 819,564 819,563 819,560 819,562 820,564 820,563 820,561 820,563 820,564 820,561 820,562 821,564 821,564 821,562 821,561 821,561 822,562 822,560 822,560 822,560 822,562 822,560 822,560 823,559 823,563 823,559 823,560 823,561 824,559 824,556 824,559 824,559 824,558 824,560 824,562 825,558 825,558 825,562 825,560 825,561 826,560 826,562 826,560 826,561 826,561 826,559 826,559 827,562 827,560 827,560 827,561 827,561 828,558 828,562 828,561 828,560 828,560 828,562 828,563 829,561 829,562 829,562 829,564 829,562 830,562 830,562 830,564 830,564 830,562 830,559 830,564 831,565 831,564 831,564 831,564 831,562 832,563 832,562 832,567 832,565 832,564 832,564 832,564 833,561 833,564 833,562 833,562 833,564 834,565 834,562 834,560 834,560 834,563 834,564 834,560 835,563 835,562 835,563 835,561 835,560 836,559 836,559 836,560 836,561 836,560 836,561 836,560 837,562 837,561 837,559 837,560 837,562 838,562 838,563 838,563 838,562 838,562 838,563 838,564 839,563 839,563 839,566 839,565 839,565 840,565 840,565 840,565 840,565 840,566 840,567 840,567 841,568 841,568 841,569 841,566 841,566 842,565 842,566 842,565 842,568 842,568 842,569 842,566 843,569 843,566 843,568 843,567 843,568 844,568 844,568 844,566 844,566 844,567 844,567 844,568 845,569 845,569 845,569 845,570 845,569 846,568 846,571 846,569 846,570 846,573 846,573 846,570 847,575 847,573 847,573 847,572 847,568 848,569 848,572 848,572 848,569 848,571 848,570 848,570 849,571 849,572 849,572 849,572 849,571 850,571 850,572 850,575 850,572 850,574 850,571 850,574 851,572 851,571 851,573 851,571 851,570 852,571 852,572 852,571 852,573 852,573 852,572 852,571 853,572 853,570 853,570 853,576 853,570 854,572 854,572 854,572 854,569 854,570 854,570 854,572 855,571 855,570 855,570 855,571 855,570 856,572 856,569 856,566 856,572 856,571 856,568 856,568 857,572 857,572 857,571 857,570 857,572 858,572 858,572 858,573 858,573 858,572 858,570 858,570 859,573 859,569 859,569 859,573 859,571 860,570 860,571 860,571 860,571 860,571 860,572 860,570 861,571 861,571 861,570 861,573 861,572 862,576 862,574 862,573 862,575 862,574 862,576 862,574 863,573 863,574 863,575 863,573 863,574 864,577 864,573 864,575 864,574 864,577 864,576 864,573 865,576 865,576 865,575 865,574 865,578 866,576 866,575 866,577 866,576 866,577 866,577 866,573 867,574 867,575 867,577 867,575 867,575 868,575 868,579 868,574 868,576 868,578 868,575 868,579 869,573 869,579 869,579 869,579 869,577 870,575 870,580 870,576 870,576 870,576 870,576 870,576 871,579 871,576 871,576 871,576 871,577 872,580 872,578 872,575 872,577 872,577 872,576 872,577 873,576 873,577 873,574 873,577 873,576 874,576 874,577 874,576 874,580 874,578 874,577 874,579 875,576 875,574 875,578 875,578 875,578 876,576 876,580 876,579 876,576 876,574 876,577 876,573 877,573 877,576 877,577 877,576 877,577 878,576 878,577 878,577 878,576 878,573 878,574 878,573 879,575 879,574 879,576 879,573 879,576 880,576 880,577 880,576 880,576 880,577 880,574 880,573 881,575 881,577 881,575 881,576 881,577 882,575 882,577 882,577 882,578 882,578 882,579 882,577 883,572 883,576 883,575 883,576 883,576 884,575 884,571 884,576 884,575 884,573 884,575 884,573 885,575 885,575 885,577 885,573 885,574 886,575 886,575 886,573 886,571 886,572 886,574 886,572 887,570 887,572 887,569 887,570 887,570 888,571 888,570 888,570 888,570 888,570 888,567 888,569 889,569 889,569 889,570 889,571 889,569 890,566 890,570 890,567 890,566 890,570 890,564 890,568 891,570 891,566 891,566 891,570 891,564 892,565 892,566 892,565 892,567 892,566 892,566 892,565 893,565 893,565 893,563 893,566 893,562 894,564 894,567 894,564 894,563 894,567 894,562 894,564 895,562 895,563 895,564 895,563 895,561 896,563 896,564 896,561 896,561 896,563 896,560 896,559 897,559 897,559 897,558 897,561 897,561 898,558 898,559 898,558 898,558 898,561 898,560 898,560 899,560 899,559 899,562 899,561 899,560 900,561 900,561 900,560 900,560 900,560 900,559 900,562 901,561 901,559 901,561 901,556 901,558 902,557 902,559 902,558 902,560 902,559 902,559 902,560 903,559 903,559 903,559 903,559 903,559 904,557 904,558 904,560 904,561 904,561 904,560 904,558 905,561 905,560 905,556 905,561 905,558 906,560 906,558 906,558 906,559 906,560 906,559 906,561 907,560 907,558 907,560 907,558 907,557 908,560 908,562 908,558 908,561 908,561 908,560 908,559 909,559 909,560 909,561 909,560 909,562 910,559 910,559 910,558 910,557 910,559 910,562 910,560 911,559 911,558 911,561 911,562 911,561 912,558 912,563 912,556 912,560 912,562 912,562 912,560 913,560 913,557 913,560 913,558 913,562 914,561 914,558 914,559 914,559 914,560 914,559 914,559 915,559 915,558 915,560 915,559 915,558 916,557 916,562 916,559 916,556 916,559 916,559 916,559 917,561 917,558 917,556 917,558 917,562 918,559 918,559 918,561 918,558 918,554 918,558 918,560 919,560 919,558 919,560 919,556 919,556 920,557 920,558 920,559 920,559 920,555 920,559 920,559 921,555 921,562 921,558 921,560 921,558 922,558 922,559 922,561 922,560 922,561 922,561 922,563 923,562 923,560 923,561 923,561 923,560 924,559 924,559 924,559 924,560 924,556 924,561 924,558 925,558 925,559 925,557 925,555 925,554 926,555 926,557 926,557 926,558 926,557 926,557 926,557 927,558 927,557 927,557 927,556 927,558 928,558 928,559 928,557 928,556 928,557 928,557 928,556 929,559 929,557 929,557 929,554 929,555 930,555 930,557 930,555 930,556 930,556 930,556 930,555 931,559 931,557 931,557 931,556 931,557 932,556 932,555 932,554 932,556 932,554 932,554 932,556 933,555 933,554 933,557 933,557 933,555 934,552 934,554 934,556 934,551 934,556 934,549 934,554 935,554 935,552 935,551 935,553 935,549 936,551 936,547 936,551 936,551 936,551 936,548 936,551 937,549 937,551 937,551 937,556 937,552 938,550 938,551 938,548 938,551 938,554 938,553 938,553 939,552 939,550 939,551 939,551 939,551 940,553 940,555 940,555 940,551 940,554 940,550 940,551 941,553 941,551 941,551 941,552 941,555 942,551 942,552 942,553 942,552 942,550 942,553 942,552 943,554 943,552 943,553 943,553 943,556 944,553 944,555 944,554 944,552 944,555 944,553 944,553 945,554 945,555 945,557 945,553 945,556 946,553 946,551 946,554 946,552 946,554 946,550 946,548 947,553 947,551 947,553 947,554 947,552 948,555 948,549 948,552 948,553 948,555 948,554 948,554 949,554 949,553 949,555 949,553 949,550 950,554 950,554 950,556 950,554 950,554 950,554 950,555 951,555 951,556 951,556 951,554 951,554 952,556 952,554 952,551 952,556 952,555 952,556 952,555 953,555 953,555 953,553 953,552 953,554 954,554 954,553 954,554 954,554 954,552 954,555 954,552 955,553 955,555 955,552 955,554 955,554 956,553 956,554 956,554 956,553 956,553 956,555 956,554 957,554 957,554 957,559 957,555 957,555 958,552 958,555 958,553 958,557 958,555 958,555 958,557 959,556 959,557 959,557 959,557 959,557 960,556 960,555 960,557 960,558 960,558 960,559 960,559 961,561 961,558 961,560 961,562 961,560 962,559 962,559 962,559 962,560 962,558 962,560 962,560 963,559 963,561 963,561 963,561 963,560 964,560 964,561 964,562 964,559 964,560 964,560 964,560 965,560 965,558 965,559 965,563 965,561 966,561 966,564 966,561 966,562 966,562 966,560 966,563 967,561 967,566 967,562 967,562 967,563 968,560 968,562 968,562 968,563 968,565 968,563 968,564 969,563 969,559 969,560 969,565 969,561 970,562 970,565 970,561 970,565 970,561 970,564 970,563 971,563 971,564 971,562 971,561 971,561 972,561 972,562 972,563 972,563 972,563 972,566 972,562 973,563 973,561 973,561 973,561 973,563 974,561 974,563 974,563 974,560 974,559 974,560 974,561 975,563 975,564 975,560 975,561 975,560 976,561 976,561 976,564 976,559 976,561 976,559 976,560 977,558 977,562 977,560 977,559 977,560 978,558 978,559 978,559 978,559 978,559 978,557 978,558 979,557 979,558 979,558 979,557 979,557 980,555 980,555 980,557 980,556 980,555 980,557 980,559 981,559 981,558 981,558 981,556 981,557 982,555 982,556 982,554 982,554 982,559 982,555 982,554 983,556 983,554 983,556 983,556 983,555 984,557 984,553 984,555 984,553 984,555 984,551 984,553 985,553 985,556 985,554 985,556 985,556 986,556 986,557 986,554 986,553 986,555 986,555 986,553 987,554 987,553 987,553 987,554 987,553 988,552 988,551 988,553 988,553 988,551 988,551 988,551 989,552 989,551 989,552 989,550 989,551 990,550 990,550 990,554 990,552 990,550 990,551 990,552 991,550 991,553 991,553 991,551 991,550 992,554 992,553 992,552 992,552 992,551 992,550 992,552 993,551 993,554 993,550 993,551 993,554 994,553 994,554 994,553 994,551 994,550 994,549 994,551 995,550 995,552 995,549 995,549 995,551 996,552 996,554 996,551 996,548 996,551 996,551 996,552 997,553 997,551 997,553 997,551 997,551 998,551 998,549 998,547 998,553 998,550 998,550 998,547 999,551 999,553 999,552 999,553 999,550 1000,547 1000,552 1000,551 1000,553 1000,555 1000,552 1000,554 1001,552 1001,550 1001,553 1001,552 1001,553 1002,551 1002,554 1002,552 1002,548 1002,552 1002,549 1002,551 1003,551 1003,550 1003,549 1003,550 1003,552 1004,553 1004,551 1004,551 1004,552 1004,551 1004,552 1004,550 1005,550 1005,552 1005,549 1005,550 1005,550 1006,550 1006,548 1006,550 1006,550 1006,547 1006,549 1006,550 1007,551 1007,552 1007,549 1007,550 1007,546 1008,550 1008,550 1008,546 1008,549 1008,547 1008,547 1008,547 1009,545 1009,545 1009,546 1009,547 1009,546 1010,547 1010,545 1010,546 1010,546 1010,545 1010,548 1010,543 1011,546 1011,544 1011,542 1011,544 1011,546 1012,542 1012,543 1012,545 1012,543 1012,543 1012,541 1012,542 1013,545 1013,544 1013,545 1013,541 1013,544 1014,542 1014,543 1014,544 1014,545 1014,544 1014,545 1014,546 1015,545 1015,543 1015,543 1015,544 1015,545 1016,542 1016,544 1016,543 1016,547 1016,543 1016,545 1016,545 1017,546 1017,543 1017,545 1017,545 1017,545 1018,546 1018,542 1018,544 1018,542 1018,542 1018,543 1018,546 1019,541 1019,545 1019,543 1019,543 1019,543 1020,546 1020,545 1020,542 1020,542 1020,543 1020,542 1020,543 1021,541 1021,545 1021,542 1021,542 1021,544 1022,542 1022,545 1022,544 1022,544 1022,543 1022,542 1022,543 1023,546 1023,544 1023,544 1023,543 1023,543 1024,545 1024,543 1024,543 1024,541 1024,542 1024,545 1024,543 1025,546 1025,542 1025,545 1025,546 1025,542 1026,541 1026,544 1026,545 1026,546 1026,544 1026,543 1026,544 1027,543 1027,543 1027,541 1027,542 1027,543 1028,544 1028,542 1028,544 1028,542 1028,544 1028,544 1028,543 1029,542 1029,543 1029,544 1029,544 1029,542 1030,543 1030,542 1030,544 1030,545 1030,545 1030,544 1030,543 1031,541 1031,545 1031,542 1031,545 1031,544 1032,545 1032,543 1032,543 1032,543 1032,541 1032,544 1032,543 1033,547 1033,544 1033,544 1033,544 1033,545 1034,545 1034,547 1034,545 1034,543 1034,544 1034,544 1034,543 1035,544 1035,544 1035,545 1035,545 1035,548 1036,546 1036,544 1036,544 1036,547 1036,547 1036,546 1036,549 1037,547 1037,547 1037,548 1037,547 1037,548 1038,547 1038,547 1038,547 1038,549 1038,546 1038,546 1038,548 1039,549 1039,546 1039,547 1039,549 1039,548 1040,546 1040,547 1040,544 1040,545 1040,548 1040,549 1040,547 1041,547 1041,546 1041,546 1041,549 1041,547 1042,547 1042,548 1042,546 1042,544 1042,542 1042,544 1042,543 1043,548 1043,545 1043,544 1043,546 1043,542 1044,547 1044,542 1044,544 1044,543 1044,542 1044,543 1044,543 1045,539 1045,546 1045,540 1045,544 1045,542 1046,541 1046,540 1046,543 1046,540 1046,541 1046,542 1046,539 1047,541 1047,542 1047,539 1047,540 1047,540 1048,540 1048,541 1048,540 1048,541 1048,539 1048,539 1048,540 1049,539 1049,540 1049,537 1049,540 1049,542 1050,539 1050,538 1050,542 1050,540 1050,543 1050,543 1050,540 1051,542 1051,542 1051,546 1051,543 1051,544 1052,544 1052,544 1052,544 1052,547 1052,546 1052,547 1052,546 1053,545 1053,548 1053,550 1053,549 1053,549 1054,550 1054,549 1054,550 1054,550 1054,548 1054,548 1054,550 1055,551 1055,549 1055,551 1055,549 1055,550 1056,550 1056,552 1056,548 1056,553 1056,551 1056,551 1056,552 1057,550 1057,553 1057,553 1057,556 1057,552 1058,556 1058,555 1058,553 1058,551 1058,557 1058,557 1058,553 1059,554 1059,555 1059,557 1059,558 1059,554 1060,560 1060,559 1060,557 1060,558 1060,555 1060,557 1060,556 1061,557 1061,559 1061,557 1061,558 1061,558 1062,559 1062,557 1062,558 1062,556 1062,553 1062,557 1062,558 1063,558 1063,555 1063,555 1063,557 1063,556 1064,557 1064,557 1064,560 1064,557 1064,555 1064,555 1064,559 1065,559 1065,556 1065,560 1065,559 1065,557 1066,559 1066,557 1066,557 1066,558 1066,557 1066,557 1066,561 1067,559 1067,556 1067,559 1067,556 1067,558 1068,558 1068,558 1068,559 1068,562 1068,560 1068,556 1068,557 1069,556 1069,556 1069,560 1069,557 1069,559 1070,558 1070,558 1070,559 1070,557 1070,560 1070,555 1070,559 1071,557 1071,555 1071,560 1071,558 1071,557 1072,559 1072,557 1072,555 1072,559 1072,555 1072,559 1072,557 1073,558 1073,555 1073,557 1073,556 1073,558 1074,556 1074,556 1074,559 1074,558 1074,555 1074,556 1074,557 1075,557 1075,554 1075,556 1075,555 1075,556 1076,556 1076,556 1076,556 1076,556 1076,558 1076,555 1076,559 1077,556 1077,558 1077,556 1077,553 1077,555 1078,556 1078,555 1078,554 1078,556 1078,556 1078,553 1078,554 1079,556 1079,556 1079,554 1079,556 1079,552 1080,553 1080,553 1080,553 1080,554 1080,555 1080,553 1080,551 1081,556 1081,557 1081,556 1081,554 1081,552 1082,552 1082,557 1082,553 1082,554 1082,555 1082,552 1082,554 1083,553 1083,554 1083,552 1083,551 1083,552 1084,555 1084,549 1084,550 1084,552 1084,553 1084,552 1084,550 1085,549 1085,549 1085,551 1085,550 1085,550 1086,547 1086,550 1086,547 1086,548 1086,548 1086,546 1086,549 1087,547 1087,548 1087,550 1087,546 1087,547 1088,546 1088,547 1088,545 1088,547 1088,548 1088,549 1088,546 1089,548 1089,546 1089,547 1089,545 1089,543 1090,543 1090,545 1090,543 1090,544 1090,545 1090,545 1090,545 1091,544 1091,544 1091,543 1091,545 1091,543 1092,543 1092,544 1092,544 1092,544 1092,545 1092,544 1092,540 1093,544 1093,543 1093,548 1093,545 1093,544 1094,543 1094,544 1094,546 1094,548 1094,543 1094,546 1094,545 1095,545 1095,543 1095,545 1095,540 1095,544 1096,544 1096,545 1096,542 1096,545 1096,545 1096,544 1096,544 1097,543 1097,545 1097,547 1097,547 1097,545 1098,546 1098,545 1098,545 1098,542 1098,545 1098,541 1098,545 1099,543 1099,543 1099,543 1099,542 1099,544 1100,544 1100,542 1100,541 1100,542 1100,544 1100,543 1100,545 1101,542 1101,541 1101,542 1101,543 1101,541 1102,540 1102,541 1102,544 1102,545 1102,542 1102,540 1102,544 1103,542 1103,544 1103,544 1103,545 1103,544 1104,543 1104,543 1104,543 1104,541 1104,543 1104,543 1104,544 1105,543 1105,542 1105,542 1105,541 1105,543 1106,544 1106,543 1106,542 1106,542 1106,539 1106,542 1106,542 1107,545 1107,542 1107,543 1107,544 1107,541 1108,542 1108,544 1108,546 1108,544 1108,544 1108,542 1108,542 1109,541 1109,541 1109,539 1109,541 1109,543 1110,541 1110,543 1110,541 1110,542 1110,539 1110,540 1110,542 1111,541 1111,541 1111,545 1111,545 1111,541 1112,541 1112,543 1112,541 1112,543 1112,542 1112,542 1112,544 1113,541 1113,540 1113,542 1113,542 1113,541 1114,541 1114,542 1114,544 1114,544 1114,543 1114,545 1114,544 1115,542 1115,544 1115,544 1115,544 1115,540 1116,542 1116,544 1116,541 1116,544 1116,543 1116,543 1116,545 1117,541 1117,541 1117,542 1117,545 1117,543 1118,542 1118,543 1118,541 1118,542 1118,543 1118,542 1118,543 1119,541 1119,543 1119,542 1119,540 1119,543 1120,543 1120,544 1120,544 1120,543 1120,545 1120,542 1120,542 1121,543 1121,545 1121,543 1121,543 1121,543 1122,545 1122,543 1122,543 1122,543 1122,543 1122,545 1122,544 1123,542 1123,542 1123,545 1123,543 1123,546 1124,548 1124,542 1124,543 1124,544 1124,544 1124,544 1124,545 1125,544 1125,547 1125,544 1125,545 1125,545 1126,544 1126,543 1126,547 1126,545 1126,545 1126,544 1126,545 1127,545 1127,545 1127,543 1127,545 1127,543 1128,546 1128,543 1128,546 1128,545 1128,546 1128,543 1128,543 1129,545 1129,543 1129,545 1129,544 1129,543 1130,545 1130,547 1130,546 1130,546 1130,545 1130,544 1130,543 1131,543 1131,545 1131,543 1131,545 1131,543 1132,544 1132,541 1132,545 1132,545 1132,545 1132,542 1132,544 1133,546 1133,545 1133,543 1133,548 1133,546 1134,546 1134,542 1134,545 1134,546 1134,547 1134,545 1134,544 1135,545 1135,545 1135,544 1135,544 1135,540 1136,543 1136,543 1136,546 1136,543 1136,542 1136,543 1136,543 1137,544 1137,544 1137,544 1137,542 1137,542 1138,543 1138,544 1138,545 1138,543 1138,546 1138,544 1138,542 1139,543 1139,544 1139,543 1139,546 1139,546 1140,545 1140,545 1140,543 1140,543 1140,544 1140,545 1140,544 1141,545 1141,545 1141,545 1141,544 1141,543 1142,543 1142,543 1142,542 1142,543 1142,546 1142,544 1142,546 1143,544 1143,545 1143,542 1143,543 1143,545 1144,545 1144,541 1144,541 1144,544 1144,544 1144,546 1144,542 1145,544 1145,547 1145,545 1145,546 1145,542 1146,544 1146,545 1146,546 1146,544 1146,547 1146,543 1146,544 1147,545 1147,544 1147,544 1147,547 1147,546 1148,547 1148,547 1148,547 1148,546 1148,544 1148,544 1148,543 1149,546 1149,545 1149,543 1149,543 1149,546 1150,544 1150,544 1150,545 1150,545 1150,542 1150,545 1150,545 1151,543 1151,546 1151,546 1151,546 1151,544 1152,546 1152,541 1152,544 1152,545 1152,544 1152,544 1152,545 1153,545 1153,543 1153,543 1153,547 1153,543 1154,543 1154,546 1154,543 1154,542 1154,545 1154,545 1154,544 1155,545 1155,541 1155,544 1155,545 1155,546 1156,546 1156,546 1156,545 1156,548 1156,541 1156,545 1156,545 1157,546 1157,543 1157,544 1157,542 1157,545 1158,545 1158,548 1158,547 1158,547 1158,546 1158,546 1158,545 1159,544 1159,545 1159,547 1159,543 1159,546 1160,544 1160,546 1160,544 1160,546 1160,546 1160,543 1160,543 1161,548 1161,545 1161,543 1161,545 1161,543 1162,546 1162,546 1162,542 1162,544 1162,545 1162,546 1162,545 1163,544 1163,544 1163,547 1163,546 1163,542 1164,547 1164,545 1164,545 1164,543 1164,545 1164,545 1164,545 1165,546 1165,544 1165,544 1165,546 1165,545 1166,546 1166,546 1166,546 1166,546 1166,543 1166,548 1166,545 1167,548 1167,548 1167,546 1167,546 1167,546 1168,546 1168,545 1168,548 1168,544 1168,544 1168,544 1168,545 1169,544 1169,545 1169,541 1169,545 1169,544 1170,543 1170,548 1170,548 1170,542 1170,546 1170,544 1170,546 1171,546 1171,543 1171,545 1171,545 1171,544 1172,544 1172,547 1172,546 1172,544 1172,545 1172,545 1172,544 1173,545 1173,545 1173,545 1173,546 1173,544 1174,547 1174,545 1174,546 1174,548 1174,547 1174,547 1174,546 1175,547 1175,547 1175,546 1175,550 1175,549 1176,550 1176,548 1176,547 1176,546 1176,550 1176,548 1176,548 1177,548 1177,547 1177,547 1177,550 1177,547 1178,549 1178,546 1178,548 1178,547 1178,548 1178,547 1178,549 1179,549 1179,549 1179,550 1179,549 1179,548 1180,545 1180,545 1180,548 1180,549 1180,547 1180,546 1180,550 1181,549 1181,545 1181,547 1181,549 1181,549 1182,546 1182,546 1182,547 1182,552 1182,551 1182,548 1182,548 1183,550 1183,547 1183,548 1183,549 1183,550 1184,545 1184,549 1184,549 1184,548 1184,548 1184,548 1184,549 1185,550 1185,550 1185,546 1185,547 1185,547 1186,550 1186,547 1186,548 1186,548 1186,549 1186,547 1186,550 1187,545 1187,548 1187,547 1187,548 1187,550 1188,548 1188,550 1188,547 1188,547 1188,546 1188,546 1188,547 1189,547 1189,546 1189,547 1189,546 1189,547 1190,547 1190,548 1190,549 1190,546 1190,546 1190,550 1190,549 1191,546 1191,545 1191,546 1191,546 1191,545 1192,548 1192,551 1192,547 1192,546 1192,548 1192,549 1192,548 1193,546 1193,548 1193,547 1193,546 1193,548 1194,547 1194,547 1194,548 1194,545 1194,547 1194,546 1194,548 1195,546 1195,547 1195,547 1195,550 1195,548 1196,546 1196,546 1196,547 1196,549 1196,547 1196,548 1196,546 1197,548 1197,547 1197,547 1197,544 1197,545 1198,546 1198,545 1198,544 1198,547 1198,548 1198,546 1198,547 1199,546 1199,544 1199,545 1199,546 1199,546 1200,547 1200,550 1200,547 1200,546 1200,546 1200,545 1200,545 1201,547 1201,541 1201,544 1201,544 1201,545 1202,547 1202,543 1202,547 1202,545 1202,544 1202,544 1202,544 1203,547 1203,545 1203,544 1203,547 1203,542 1204,541 1204,546 1204,541 1204,542 1204,543 1204,544 1204,543 1205,542 1205,546 1205,544 1205,545 1205,543 1206,543 1206,543 1206,546 1206,542 1206,542 1206,542 1206,542 1207,540 1207,541 1207,543 1207,541 1207,541 1208,542 1208,542 1208,540 1208,541 1208,540 1208,541 1208,540 1209,541 1209,542 1209,544 1209,540 1209,542 1210,540 1210,542 1210,544 1210,543 1210,543 1210,543 1210,543 1211,543 1211,541 1211,543 1211,541 1211,544 1212,543 1212,543 1212,543 1212,542 1212,543 1212,541 1212,541 1213,543 1213,540 1213,538 1213,540 1213,541 1214,540 1214,540 1214,541 1214,541 1214,544 1214,541 1214,541 1215,542 1215,543 1215,541 1215,544 1215,540 1216,541 1216,543 1216,542 1216,541 1216,541 1216,543 1216,540 1217,544 1217,542 1217,544 1217,544 1217,541 1218,542 1218,543 1218,543 1218,542 1218,543 1218,544 1218,540 1219,546 1219,546 1219,545 1219,543 1219,543 1220,547 1220,543 1220,546 1220,544 1220,545 1220,545 1220,545 1221,544 1221,544 1221,545 1221,547 1221,546 1222,547 1222,545 1222,547 1222,546 1222,545 1222,546 1222,547 1223,548 1223,545 1223,546 1223,547 1223,545 1224,546 1224,546 1224,548 1224,545 1224,545 1224,546 1224,547 1225,547 1225,546 1225,549 1225,550 1225,547 1226,549 1226,547 1226,550 1226,549 1226,549 1226,550 1226,549 1227,546 1227,548 1227,549 1227,551 1227,551 1228,550 1228,549 1228,551 1228,549 1228,550 1228,549 1228,550 1229,550 1229,548 1229,549 1229,549 1229,550 1230,553 1230,553 1230,550 1230,550 1230,551 1230,548 1230,549 1231,549 1231,550 1231,548 1231,548 1231,548 1232,547 1232,547 1232,548 1232,548 1232,549 1232,550 1232,549 1233,552 1233,548 1233,549 1233,550 1233,548 1234,547 1234,548 1234,550 1234,547 1234,547 1234,548 1234,549 1235,549 1235,549 1235,546 1235,549 1235,549 1236,549 1236,547 1236,550 1236,550 1236,550 1236,551 1236,548 1237,550 1237,550 1237,550 1237,550 1237,552 1238,551 1238,548 1238,549 1238,552 1238,548 1238,551 1238,548 1239,550 1239,549 1239,550 1239,549 1239,549 1240,549 1240,550 1240,552 1240,549 1240,550 1240,551 1240,549 1241,551 1241,550 1241,549 1241,552 1241,552 1242,551 1242,552 1242,551 1242,552 1242,553 1242,554 1242,554 1243,552 1243,555 1243,553 1243,555 1243,554 1244,553 1244,553 1244,553 1244,556 1244,553 1244,552 1244,553 1245,555 1245,554 1245,555 1245,553 1245,555 1246,555 1246,553 1246,553 1246,554 1246,552 1246,554 1246,553 1247,554 1247,556 1247,556 1247,556 1247,556 1248,552 1248,558 1248,556 1248,556 1248,554 1248,555 1248,553 1249,555 1249,556 1249,557 1249,555 1249,555 1250,554 1250,555 1250,555 1250,553 1250,552 1250,555 1250,552 1251,558 1251,556 1251,554 1251,553 1251,555 1252,556 1252,553 1252,556 1252,555 1252,554 1252,556 1252,553 1253,554 1253,555 1253,556 1253,555 1253,556 1254,554 1254,555 1254,554 1254,556 1254,557 1254,556 1254,556 1255,555 1255,557 1255,555 1255,556 1255,554 1256,556 1256,557 1256,557 1256,556 1256,555 1256,556 1256,555 1257,557 1257,556 1257,555 1257,554 1257,556 1258,554 1258,554 1258,555 1258,555 1258,555 1258,557 1258,555 1259,552 1259,553 1259,554 1259,553 1259,554 1260,553 1260,552 1260,555 1260,556 1260,555 1260,555 1260,554 1261,553 1261,554 1261,554 1261,549 1261,553 1262,553 1262,551 1262,551 1262,550 1262,552 1262,551 1262,550 1263,550 1263,548 1263,550 1263,548 1263,548 1264,548 1264,550 1264,550 1264,547 1264,548 1264,549 1264,551 1265,551 1265,548 1265,550 1265,549 1265,548 1266,549 1266,548 1266,547 1266,548 1266,547 1266,547 1266,546 1267,549 1267,547 1267,548 1267,546 1267,545 1268,547 1268,546 1268,548 1268,545 1268,548 1268,550 1268,549 1269,548 1269,548 1269,546 1269,548 1269,546 1270,548 1270,547 1270,548 1270,548 1270,547 1270,546 1270,552 1271,549 1271,548 1271,546 1271,547 1271,548 1272,548 1272,549 1272,545 1272,547 1272,549 1272,547 1272,548 1273,549 1273,552 1273,548 1273,547 1273,550 1274,547 1274,546 1274,548 1274,548 1274,547 1274,549 1274,546 1275,549 1275,545 1275,547 1275,548 1275,548 1276,549 1276,547 1276,547 1276,546 1276,547 1276,549 1276,545 1277,543 1277,547 1277,546 1277,546 1277,542 1278,543 1278,545 1278,546 1278,550 1278,544 1278,545 1278,546 1279,547 1279,548 1279,544 1279,545 1279,547 1280,547 1280,545 1280,544 1280,548 1280,546 1280,546 1280,549 1281,546 1281,546 1281,546 1281,549 1281,544 1282,545 1282,550 1282,545 1282,546 1282,547 1282,549 1282,547 1283,547 1283,549 1283,550 1283,549 1283,546 1284,546 1284,548 1284,548 1284,545 1284,548 1284,549 1284,546 1285,550 1285,546 1285,551 1285,549 1285,549 1286,545 1286,548 1286,549 1286,547 1286,551 1286,549 1286,547 1287,550 1287,549 1287,547 1287,548 1287,548 1288,551 1288,544 1288,547 1288,548 1288,551 1288,546 1288,548 1289,548 1289,548 1289,546 1289,546 1289,546 1290,548 1290,548 1290,544 1290,547 1290,547 1290,547 1290,546 1291,549 1291,547 1291,547 1291,549 1291,547 1292,548 1292,549 1292,547 1292,549 1292,545 1292,546 1292,546 1293,550 1293,546 1293,547 1293,547 1293,545 1294,548 1294,548 1294,546 1294,546 1294,546 1294,545 1294,546 1295,546 1295,547 1295,545 1295,544 1295,543 1296,546 1296,543 1296,545 1296,543 1296,544 1296,549 1296,544 1297,544 1297,544 1297,545 1297,545 1297,546 1298,547 1298,546 1298,547 1298,545 1298,545 1298,544 1298,544 1299,546 1299,544 1299,544 1299,547 1299,544 1300,543 1300,542 1300,543 1300,544 1300,546 1300,543 1300,541 1301,544 1301,545 1301,544 1301,543 1301,543 1302,544 1302,545 1302,545 1302,544 1302,545 1302,542 1302,543 1303,544 1303,543 1303,544 1303,549 1303,545 1304,545 1304,542 1304,544 1304,545 1304,545 1304,543 1304,541 1305,544 1305,543 1305,546 1305,544 1305,547 1306,545 1306,546 1306,543 1306,545 1306,546 1306,544 1306,542 1307,546 1307,545 1307,545 1307,542 1307,542 1308,544 1308,546 1308,545 1308,542 1308,543 1308,548 1308,546 1309,547 1309,546 1309,544 1309,544 1309,544 1310,545 1310,545 1310,543 1310,545 1310,543 1310,543 1310,548 1311,545 1311,548 1311,549 1311,546 1311,547 1312,546 1312,544 1312,548 1312,548 1312,548 1312,545 1312,547 1313,548 1313,545 1313,546 1313,546 1313,545 1314,545 1314,547 1314,543 1314,546 1314,543 1314,546 1314,546 1315,546 1315,548 1315,546 1315,542 1315,545 1316,544 1316,543 1316,544 1316,545 1316,544 1316,544 1316,545 1317,547 1317,546 1317,543 1317,546 1317,546 1318,545 1318,544 1318,544 1318,546 1318,546 1318,545 1318,544 1319,542 1319,542 1319,545 1319,544 1319,542 1320,545 1320,543 1320,545 1320,545 1320,542 1320,545 1320,543 1321,544 1321,547 1321,543 1321,546 1321,547 1322,544 1322,545 1322,544 1322,543 1322,544 1322,545 1322,542 1323,541 1323,544 1323,544 1323,543 1323,544 1324,544 1324,542 1324,543 1324,543 1324,543 1324,543 1324,541 1325,545 1325,543 1325,542 1325,541 1325,544 1326,544 1326,540 1326,541 1326,542 1326,542 1326,545 1326,543 1327,543 1327,540 1327,541 1327,543 1327,541 1328,540 1328,543 1328,542 1328,544 1328,541 1328,539 1328,543 1329,541 1329,540 1329,543 1329,544 1329,542 1330,543 1330,541 1330,542 1330,542 1330,541 1330,541 1330,542 1331,540 1331,542 1331,543 1331,540 1331,545 1332,544 1332,545 1332,543 1332,544 1332,543 1332,542 1332,543 1333,545 1333,545 1333,543 1333,544 1333,544 1334,545 1334,548 1334,545 1334,544 1334,540 1334,544 1334,544 1335,545 1335,544 1335,545 1335,546 1335,548 1336,545 1336,542 1336,544 1336,546 1336,547 1336,546 1336,544 1337,546 1337,548 1337,543 1337,546 1337,545 1338,548 1338,547 1338,545 1338,545 1338,544 1338,545 1338,548 1339,546 1339,547 1339,545 1339,545 1339,548 1340,547 1340,547 1340,546 1340,546 1340,547 1340,548 1340,548 1341,547 1341,546 1341,548 1341,546 1341,547 1342,548 1342,548 1342,548 1342,548 1342,547 1342,548 1342,545 1343,549 1343,551 1343,548 1343,549 1343,549 1344,550 1344,547 1344,548 1344,549 1344,550 1344,551 1344,550 1345,551 1345,553 1345,551 1345,550 1345,552 1346,553 1346,553 1346,553 1346,551 1346,553 1346,553 1346,551 1347,551 1347,552 1347,552 1347,553 1347,551 1348,553 1348,553 1348,550 1348,553 1348,554 1348,555 1348,554 1349,554 1349,554 1349,554 1349,553 1349,554 1350,554 1350,557 1350,553 1350,553 1350,556 1350,553 1350,557 1351,555 1351,557 1351,553 1351,554 1351,556 1352,558 1352,556 1352,556 1352,555 1352,554 1352,553 1352,554 1353,554 1353,556 1353,555 1353,557 1353,556 1354,555 1354,554 1354,556 1354,557 1354,557 1354,556 1354,555 1355,554 1355,553 1355,556 1355,555 1355,557 1356,556 1356,559 1356,555 1356,555 1356,558 1356,555 1356,554 1357,555 1357,555 1357,556 1357,556 1357,555 1358,556 1358,554 1358,555 1358,555 1358,555 1358,555 1358,557 1359,554 1359,555 1359,559 1359,558 1359,556 1360,555 1360,557 1360,557 1360,556 1360,555 1360,554 1360,556 1361,557 1361,555 1361,556 1361,559 1361,554 1362,557 1362,554 1362,557 1362,555 1362,558 1362,558 1362,557 1363,559 1363,557 1363,559 1363,556 1363,560 1364,560 1364,560 1364,558 1364,555 1364,560 1364,561 1364,558 1365,560 1365,558 1365,557 1365,558 1365,559 1366,560 1366,558 1366,560 1366,560 1366,558 1366,561 1366,560 1367,561 1367,558 1367,559 1367,561 1367,559 1368,560 1368,559 1368,561 1368,560 1368,560 1368,561 1368,562 1369,563 1369,563 1369,560 1369,564 1369,560 1370,563 1370,562 1370,560 1370,562 1370,561 1370,560 1370,559 1371,563 1371,560 1371,560 1371,562 1371,560 1372,562 1372,558 1372,561 1372,560 1372,560 1372,560 1372,564 1373,561 1373,563 1373,560 1373,561 1373,563 1374,562 1374,565 1374,565 1374,560 1374,562 1374,563 1374,564 1375,564 1375,565 1375,567 1375,564 1375,566 1376,566 1376,565 1376,567 1376,568 1376,567 1376,566 1376,566 1377,569 1377,569 1377,568 1377,566 1377,567 1378,567 1378,567 1378,568 1378,568 1378,568 1378,569 1378,568 1379,568 1379,572 1379,569 1379,564 1379,570 1380,568 1380,568 1380,568 1380,567 1380,569 1380,567 1380,568 1381,568 1381,563 1381,567 1381,567 1381,569 1382,567 1382,568 1382,567 1382,566 1382,569 1382,569 1382,569 1383,572 1383,568 1383,567 1383,569 1383,568 1384,570 1384,569 1384,566 1384,566 1384,567 1384,570 1384,568 1385,567 1385,567 1385,569 1385,569 1385,573 1386,566 1386,569 1386,568 1386,570 1386,570 1386,571 1386,569 1387,572 1387,569 1387,570 1387,571 1387,570 1388,569 1388,571 1388,569 1388,570 1388,569 1388,570 1388,572 1389,569 1389,571 1389,569 1389,569 1389,570 1390,571 1390,574 1390,573 1390,571 1390,570 1390,569 1390,571 1391,570 1391,568 1391,568 1391,567 1391,568 1392,569 1392,570 1392,569 1392,568 1392,569 1392,568 1392,571 1393,566 1393,570 1393,570 1393,573 1393,572 1394,569 1394,571 1394,576 1394,571 1394,572 1394,573 1394,571 1395,571 1395,571 1395,574 1395,573 1395,571 1396,572 1396,573 1396,575 1396,573 1396,574 1396,572 1396,570 1397,573 1397,574 1397,571 1397,570 1397,569 1398,570 1398,572 1398,572 1398,573 1398,574 1398,571 1398,573 1399,575 1399,572 1399,570 1399,571 1399,569 1400,569 1400,572 1400,571 1400,572 1400,572 1400,566 1400,571 1401,570 1401,572 1401,570 1401,570 1401,570 1402,572 1402,571 1402,570 1402,569 1402,572 1402,571 1402,568 1403,565 1403,569 1403,570 1403,570 1403,568 1404,569 1404,564 1404,570 1404,568 1404,566 1404,568 1404,566 1405,565 1405,564 1405,567 1405,566 1405,568 1406,566 1406,565 1406,568 1406,565 1406,568 1406,566 1406,566 1407,567 1407,568 1407,565 1407,563 1407,565 1408,567 1408,564 1408,564 1408,566 1408,563 1408,563 1408,564 1409,564 1409,561 1409,562 1409,562 1409,564 1410,563 1410,564 1410,565 1410,562 1410,565 1410,564 1410,564 1411,562 1411,563 1411,563 1411,561 1411,561 1412,563 1412,562 1412,561 1412,562 1412,564 1412,565 1412,563 1413,563 1413,562 1413,563 1413,565 1413,564 1414,564 1414,564 1414,562 1414,563 1414,562 1414,564 1414,562 1415,562 1415,564 1415,560 1415,564 1415,564 1416,561 1416,564 1416,564 1416,562 1416,559 1416,561 1416,563 1417,565 1417,559 1417,562 1417,561 1417,563 1418,562 1418,562 1418,563 1418,561 1418,561 1418,559 1418,561 1419,559 1419,562 1419,562 1419,562 1419,560 1420,560 1420,559 1420,559 1420,560 1420,558 1420,559 1420,561 1421,561 1421,559 1421,559" fill="none" stroke="none" marker-start="url(#mx)" marker-mid="url(#mx)" marker-end="url(#mx)"/>
</g>
<clipPath id="c2"><rect x="162" y="953" width="1261" height="451"/></clipPath>
<polyline clip-path="url(#c2)" points="162,1281 162,1270 162,1294 162,1274 162,1300 162,1289 162,1287 162,1290 162,1286 162,1290 162,1269 163,1272 163,1289 163,1276 163,1280 163,1279 163,1271 163,1270 163,1271 163,1278 163,1288 163,1292 164,1282 164,1286 164,1300 164,1299 164,1280 164,1280 164,1277 165,1261 165,1273 165,1267 165,1285 165,1279 165,1261 166,1294 166,1289 166,1269 166,1277 166,1293 166,1274 167,1264 167,1274 167,1270 167,1280 167,1287 168,1299 168,1284 168,1279 168,1295 168,1299 168,1278 169,1271 169,1277 169,1251 169,1267 169,1257 169,1254 169,1253 169,1264 170,1275 170,1266 170,1257 170,1251 170,1266 170,1251 170,1253 170,1259 170,1254 170,1277 170,1273 170,1278 170,1256 170,1281 170,1255 171,1292 171,1264 171,1287 171,1269 171,1285 171,1255 171,1285 171,1275 171,1280 171,1259 171,1263 171,1281 171,1281 171,1264 171,1267 171,1282 171,1259 171,1265 172,1275 172,1269 172,1276 172,1276 172,1291 172,1263 172,1282 172,1278 172,1258 172,1266 173,1277 173,1279 173,1275 173,1281 173,1275 173,1264 173,1277 174,1278 174,1302 174,1282 174,1277 174,1298 174,1295 175,1270 175,1262 175,1299 175,1270 175,1291 175,1273 176,1269 176,1310 176,1292 176,1287 176,1307 177,1272 177,1289 177,1263 177,1260 177,1275 177,1273 177,1284 178,1282 178,1292 178,1300 178,1289 178,1301 178,1293 178,1280 179,1272 179,1297 179,1272 179,1273 179,1297 179,1283 179,1291 179,1278 179,1278 179,1258 179,1259 179,1295 179,1294 179,1257 180,1286 180,1280 180,1249 180,1269 180,1268 180,1248 180,1251 180,1253 180,1258 180,1275 180,1245 180,1269 180,1252 180,1263 180,1259 180,1259 180,1274 180,1263 181,1276 181,1264 181,1260 181,1251 181,1250 181,1266 181,1252 181,1270 181,1261 181,1271 181,1252 182,1256 182,1264 182,1294 182,1264 182,1262 182,1246 183,1262 183,1269 183,1239 183,1247 183,1238 183,1240 183,1261 184,1282 184,1271 184,1269 184,1250 184,1276 185,1288 185,1278 185,1295 185,1267 185,1301 186,1295 186,1278 186,1276 186,1267 186,1269 186,1287 186,1283 187,1277 187,1265 187,1270 187,1236 187,1268 187,1265 187,1252 187,1289 187,1243 188,1246 188,1272 188,1251 188,1272 188,1260 188,1268 188,1256 188,1244 188,1259 188,1237 188,1242 188,1276 188,1249 188,1277 188,1272 188,1273 188,1230 188,1231 188,1248 188,1261 189,1274 189,1283 189,1277 189,1272 189,1275 189,1282 189,1279 189,1257 189,1280 189,1280 189,1273 189,1265 189,1259 190,1251 190,1286 190,1281 190,1305 190,1298 190,1297 190,1266 190,1290 191,1258 191,1273 191,1292 191,1276 191,1258 191,1251 192,1262 192,1288 192,1264 192,1258 192,1259 192,1271 193,1250 193,1247 193,1277 193,1276 193,1263 194,1255 194,1288 194,1266 194,1301 194,1261 194,1266 195,1258 195,1247 195,1236 195,1243 195,1236 195,1261 195,1242 196,1244 196,1253 196,1275 196,1259 196,1279 196,1263 196,1265 196,1268 196,1237 196,1242 196,1254 197,1269 197,1251 197,1271 197,1254 197,1248 197,1238 197,1259 197,1272 197,1243 197,1270 197,1273 197,1238 197,1267 197,1250 197,1238 197,1250 197,1271 197,1238 197,1278 198,1266 198,1250 198,1243 198,1256 198,1274 198,1273 198,1279 198,1245 198,1239 198,1239 198,1249 198,1262 198,1240 199,1252 199,1273 199,1240 199,1270 199,1250 199,1291 199,1289 200,1286 200,1284 200,1270 200,1289 200,1273 200,1262 200,1275 201,1279 201,1284 201,1269 201,1286 201,1312 202,1271 202,1322 202,1326 202,1327 202,1298 202,1320 203,1327 203,1328 203,1295 203,1300 203,1287 203,1299 204,1292 204,1303 204,1330 204,1324 204,1321 204,1290 204,1324 205,1314 205,1312 205,1335 205,1335 205,1310 205,1329 205,1335 205,1336 205,1336 205,1336 205,1336 205,1336 206,1336 206,1327 206,1333 206,1336 206,1321 206,1320 206,1336 206,1336 206,1313 206,1337 206,1337 206,1337 206,1322 206,1313 206,1309 206,1324 206,1322 206,1305 207,1283 207,1297 207,1291 207,1293 207,1259 207,1272 207,1280 207,1308 207,1294 207,1310 207,1306 207,1289 207,1298 208,1282 208,1296 208,1279 208,1276 208,1287 208,1271 208,1283 209,1297 209,1297 209,1259 209,1301 209,1283 209,1252 209,1291 210,1249 210,1293 210,1277 210,1280 210,1281 210,1307 211,1303 211,1321 211,1310 211,1273 211,1289 211,1272 212,1280 212,1297 212,1301 212,1256 212,1274 212,1271 213,1296 213,1285 213,1325 213,1290 213,1330 213,1291 214,1279 214,1280 214,1286 214,1295 214,1269 214,1274 214,1289 214,1299 214,1300 214,1316 214,1297 215,1290 215,1309 215,1300 215,1308 215,1299 215,1294 215,1281 215,1295 215,1325 215,1292 215,1300 215,1281 215,1276 215,1305 215,1277 215,1298 215,1285 215,1274 216,1270 216,1264 216,1286 216,1267 216,1276 216,1284 216,1290 216,1302 216,1288 216,1296 216,1306 216,1259 216,1266 216,1285 217,1284 217,1301 217,1312 217,1296 217,1284 217,1304 217,1264 217,1292 218,1284 218,1255 218,1263 218,1261 218,1300 218,1265 218,1297 219,1301 219,1293 219,1276 219,1289 219,1312 219,1320 220,1300 220,1282 220,1304 220,1284 220,1293 220,1279 221,1281 221,1274 221,1305 221,1285 221,1325 221,1324 222,1315 222,1324 222,1271 222,1285 222,1322 222,1290 223,1267 223,1307 223,1293 223,1252 223,1265 223,1264 223,1282 223,1261 224,1282 224,1294 224,1284 224,1289 224,1279 224,1294 224,1265 224,1275 224,1288 224,1262 224,1291 224,1284 224,1267 224,1298 225,1285 225,1286 225,1281 225,1286 225,1285 225,1296 225,1275 225,1300 225,1287 225,1277 225,1283 225,1294 225,1270 225,1267 225,1289 225,1260 225,1263 225,1275 225,1277 226,1251 226,1251 226,1251 226,1268 226,1301 226,1292 226,1257 226,1256 226,1290 227,1280 227,1273 227,1291 227,1267 227,1286 227,1307 227,1265 228,1282 228,1270 228,1283 228,1283 228,1257 228,1256 229,1266 229,1245 229,1289 229,1274 229,1274 229,1279 230,1289 230,1276 230,1253 230,1276 230,1264 230,1279 231,1271 231,1282 231,1255 231,1297 231,1259 231,1289 232,1259 232,1256 232,1264 232,1291 232,1291 232,1263 232,1298 232,1294 233,1273 233,1303 233,1274 233,1307 233,1277 233,1287 233,1293 233,1269 233,1308 233,1300 233,1306 233,1309 233,1314 233,1307 233,1315 234,1289 234,1283 234,1300 234,1305 234,1306 234,1287 234,1305 234,1287 234,1296 234,1299 234,1286 234,1295 234,1288 234,1299 234,1304 234,1304 234,1276 234,1290 235,1277 235,1265 235,1279 235,1282 235,1273 235,1300 235,1285 235,1274 235,1275 236,1289 236,1299 236,1289 236,1283 236,1280 236,1258 236,1253 237,1257 237,1279 237,1276 237,1300 237,1297 237,1278 238,1275 238,1263 238,1292 238,1295 238,1300 238,1262 239,1288 239,1279 239,1284 239,1294 239,1287 239,1256 240,1264 240,1297 240,1285 240,1257 240,1272 240,1252 241,1289 241,1252 241,1271 241,1254 241,1283 241,1293 241,1263 241,1282 242,1275 242,1278 242,1267 242,1270 242,1267 242,1255 242,1249 242,1269 242,1259 242,1248 242,1277 242,1257 242,1261 243,1263 243,1262 243,1297 243,1292 243,1277 243,1274 243,1252 243,1261 243,1274 243,1279 243,1268 243,1264 243,1282 243,1300 243,1256 243,1276 243,1273 244,1269 244,1278 244,1277 244,1271 244,1282 244,1271 244,1290 244,1289 244,1267 244,1253 244,1273 244,1269 244,1255 245,1279 245,1278 245,1274 245,1276 245,1268 245,1284 245,1294 245,1288 246,1285 246,1261 246,1253 246,1296 246,1307 246,1296 247,1255 247,1285 247,1257 247,1258 247,1292 247,1305 248,1290 248,1309 248,1268 248,1300 248,1296 248,1273 249,1289 249,1274 249,1305 249,1269 249,1293 249,1269 250,1306 250,1278 250,1279 250,1273 250,1293 250,1265 250,1286 251,1279 251,1297 251,1272 251,1271 251,1301 251,1273 251,1311 251,1304 252,1309 252,1283 252,1288 252,1273 252,1284 252,1267 252,1271 252,1280 252,1270 252,1279 252,1254 252,1281 252,1253 252,1271 252,1285 252,1257 253,1255 253,1252 253,1287 253,1261 253,1243 253,1258 253,1276 253,1274 253,1251 253,1278 253,1269 253,1263 253,1264 253,1262 253,1262 253,1251 253,1265 254,1253 254,1279 254,1269 254,1277 254,1284 254,1278 254,1279 254,1273 254,1265 255,1258 255,1286 255,1262 255,1277 255,1267 255,1273 255,1257 256,1259 256,1268 256,1258 256,1269 256,1253 256,1286 257,1273 257,1278 257,1268 257,1294 257,1276 258,1264 258,1295 258,1250 258,1257 258,1291 258,1263 259,1255 259,1272 259,1255 259,1289 259,1260 259,1255 259,1278 260,1282 260,1262 260,1283 260,1280 260,1264 260,1268 260,1257 260,1249 261,1254 261,1236 261,1240 261,1244 261,1270 261,1246 261,1282 261,1263 261,1265 261,1257 261,1288 261,1268 261,1276 261,1245 261,1268 261,1260 262,1235 262,1235 262,1242 262,1235 262,1263 262,1251 262,1276 262,1259 262,1235 262,1262 262,1253 262,1263 262,1261 262,1244 262,1259 262,1277 262,1268 263,1262 263,1271 263,1255 263,1253 263,1261 263,1245 263,1258 263,1268 263,1273 264,1246 264,1253 264,1271 264,1250 264,1242 264,1254 264,1282 265,1248 265,1247 265,1232 265,1247 265,1277 265,1270 266,1268 266,1261 266,1256 266,1269 266,1239 266,1270 267,1262 267,1254 267,1269 267,1283 267,1244 267,1267 268,1284 268,1287 268,1270 268,1251 268,1274 268,1279 269,1297 269,1284 269,1293 269,1266 269,1290 269,1263 269,1244 269,1273 270,1250 270,1273 270,1285 270,1261 270,1276 270,1305 270,1303 270,1303 270,1296 270,1269 270,1290 270,1254 270,1268 270,1267 270,1269 270,1246 270,1274 270,1243 271,1247 271,1271 271,1252 271,1242 271,1252 271,1266 271,1278 271,1275 271,1250 271,1282 271,1287 271,1286 271,1262 271,1268 271,1275 272,1287 272,1270 272,1274 272,1258 272,1293 272,1293 272,1270 272,1269 272,1280 273,1272 273,1273 273,1286 273,1297 273,1265 273,1284 273,1267 274,1302 274,1286 274,1301 274,1289 274,1286 275,1306 275,1306 275,1306 275,1306 275,1273 275,1306 276,1306 276,1304 276,1263 276,1276 276,1249 276,1265 277,1283 277,1281 277,1298 277,1271 277,1263 277,1307 277,1289 278,1303 278,1259 278,1281 278,1267 278,1277 278,1259 278,1236 278,1258 278,1261 278,1263 279,1268 279,1239 279,1267 279,1231 279,1268 279,1274 279,1248 279,1269 279,1236 279,1251 279,1292 279,1267 279,1266 279,1274 279,1260 279,1283 279,1263 279,1265 279,1303 280,1290 280,1304 280,1301 280,1307 280,1290 280,1281 280,1298 280,1282 280,1302 280,1276 280,1285 280,1296 280,1282 281,1303 281,1287 281,1291 281,1289 281,1274 281,1293 281,1294 281,1299 282,1309 282,1308 282,1267 282,1290 282,1297 282,1281 283,1292 283,1281 283,1272 283,1294 283,1275 284,1262 284,1263 284,1292 284,1290 284,1268 284,1298 285,1259 285,1266 285,1276 285,1256 285,1252 285,1274 286,1262 286,1245 286,1270 286,1255 286,1298 286,1295 286,1270 287,1298 287,1292 287,1275 287,1288 287,1265 287,1284 287,1294 287,1283 287,1291 287,1293 287,1302 288,1307 288,1275 288,1311 288,1274 288,1286 288,1300 288,1275 288,1269 288,1292 288,1268 288,1286 288,1287 288,1267 288,1279 288,1309 288,1308 288,1303 288,1297 288,1277 288,1281 289,1302 289,1280 289,1285 289,1305 289,1287 289,1285 289,1273 289,1294 289,1297 289,1292 289,1281 289,1278 290,1303 290,1303 290,1275 290,1298 290,1293 290,1289 290,1270 291,1302 291,1259 291,1269 291,1274 291,1267 291,1279 291,1245 292,1273 292,1261 292,1255 292,1232 292,1229 292,1244 293,1255 293,1230 293,1252 293,1234 293,1225 294,1245 294,1224 294,1223 294,1251 294,1233 294,1244 295,1267 295,1257 295,1260 295,1268 295,1256 295,1243 295,1249 296,1222 296,1243 296,1248 296,1219 296,1236 296,1248 296,1223 296,1217 296,1230 296,1217 296,1234 297,1244 297,1254 297,1224 297,1247 297,1256 297,1242 297,1244 297,1241 297,1236 297,1256 297,1249 297,1246 297,1238 297,1217 297,1222 297,1244 297,1240 297,1256 297,1227 297,1246 298,1226 298,1237 298,1232 298,1242 298,1232 298,1252 298,1233 298,1232 298,1234 298,1243 298,1235 298,1222 299,1219 299,1234 299,1219 299,1210 299,1211 299,1208 299,1237 300,1214 300,1234 300,1230 300,1263 300,1233 300,1232 300,1252 301,1237 301,1238 301,1243 301,1231 301,1221 302,1230 302,1252 302,1226 302,1246 302,1243 302,1224 303,1205 303,1227 303,1226 303,1212 303,1239 303,1204 304,1213 304,1243 304,1220 304,1249 304,1239 304,1255 304,1224 305,1264 305,1222 305,1241 305,1252 305,1212 305,1215 305,1217 305,1214 305,1249 305,1238 305,1235 305,1239 306,1246 306,1238 306,1229 306,1241 306,1238 306,1224 306,1209 306,1201 306,1232 306,1230 306,1240 306,1230 306,1219 306,1234 306,1222 306,1223 306,1249 306,1249 306,1248 306,1251 307,1260 307,1237 307,1252 307,1236 307,1231 307,1252 307,1240 307,1237 307,1229 307,1254 307,1256 308,1266 308,1251 308,1236 308,1238 308,1241 308,1245 308,1230 309,1233 309,1246 309,1227 309,1223 309,1229 309,1210 310,1207 310,1244 310,1223 310,1225 310,1246 310,1241 311,1218 311,1247 311,1215 311,1237 311,1215 311,1250 312,1261 312,1234 312,1233 312,1240 312,1241 312,1252 313,1252 313,1236 313,1226 313,1228 313,1213 313,1217 313,1243 314,1223 314,1242 314,1236 314,1215 314,1237 314,1240 314,1233 314,1247 314,1229 314,1262 314,1222 314,1224 315,1215 315,1209 315,1211 315,1237 315,1213 315,1225 315,1223 315,1249 315,1219 315,1246 315,1211 315,1214 315,1203 315,1244 315,1218 315,1233 315,1232 315,1237 315,1246 315,1247 316,1228 316,1214 316,1252 316,1227 316,1245 316,1242 316,1239 316,1233 316,1238 316,1238 316,1231 317,1222 317,1227 317,1222 317,1248 317,1229 317,1220 317,1237 318,1228 318,1221 318,1237 318,1234 318,1210 318,1216 319,1225 319,1218 319,1251 319,1227 319,1230 319,1249 320,1262 320,1255 320,1266 320,1237 320,1235 320,1218 321,1242 321,1246 321,1220 321,1241 321,1241 321,1225 322,1236 322,1236 322,1224 322,1234 322,1255 322,1257 322,1261 323,1229 323,1266 323,1260 323,1272 323,1282 323,1276 323,1259 323,1278 323,1280 323,1283 323,1283 324,1272 324,1271 324,1264 324,1241 324,1224 324,1226 324,1240 324,1238 324,1256 324,1248 324,1238 324,1232 324,1248 324,1229 324,1234 324,1254 324,1264 324,1233 324,1259 324,1244 324,1262 325,1253 325,1232 325,1233 325,1228 325,1248 325,1217 325,1233 325,1216 325,1216 325,1235 325,1240 326,1227 326,1226 326,1214 326,1239 326,1232 326,1222 326,1212 327,1211 327,1226 327,1224 327,1248 327,1237 327,1218 328,1249 328,1231 328,1248 328,1217 328,1219 328,1219 329,1228 329,1234 329,1232 329,1232 329,1211 330,1224 330,1262 330,1239 330,1268 330,1236 330,1260 331,1235 331,1229 331,1242 331,1232 331,1218 331,1243 331,1218 331,1218 332,1238 332,1230 332,1218 332,1254 332,1220 332,1236 332,1203 332,1239 332,1252 332,1249 332,1231 332,1239 333,1223 333,1208 333,1219 333,1235 333,1202 333,1218 333,1221 333,1203 333,1191 333,1229 333,1201 333,1238 333,1219 333,1203 333,1236 333,1229 333,1232 333,1230 333,1206 333,1223 334,1229 334,1205 334,1204 334,1210 334,1220 334,1234 334,1234 334,1220 334,1238 334,1219 334,1225 335,1240 335,1219 335,1213 335,1211 335,1234 335,1228 335,1205 336,1229 336,1220 336,1212 336,1212 336,1222 336,1205 336,1208 337,1192 337,1220 337,1191 337,1188 337,1200 338,1209 338,1178 338,1185 338,1212 338,1211 338,1190 339,1209 339,1204 339,1229 339,1188 339,1190 339,1209 340,1205 340,1195 340,1190 340,1200 340,1202 340,1210 340,1202 341,1200 341,1196 341,1236 341,1201 341,1224 341,1234 341,1221 341,1224 341,1241 341,1213 341,1207 341,1228 342,1184 342,1200 342,1213 342,1196 342,1220 342,1212 342,1221 342,1204 342,1197 342,1229 342,1216 342,1216 342,1224 342,1201 342,1201 342,1211 342,1232 342,1217 342,1202 342,1216 343,1227 343,1235 343,1214 343,1230 343,1231 343,1217 343,1228 343,1218 343,1214 343,1227 343,1227 344,1215 344,1234 344,1216 344,1210 344,1227 344,1216 345,1195 345,1203 345,1217 345,1233 345,1212 345,1215 346,1229 346,1218 346,1218 346,1206 346,1194 346,1214 347,1183 347,1212 347,1187 347,1199 347,1214 348,1201 348,1208 348,1210 348,1215 348,1209 348,1220 348,1219 349,1195 349,1202 349,1221 349,1231 349,1207 349,1233 349,1214 349,1228 349,1235 350,1229 350,1243 350,1239 350,1237 350,1209 350,1211 350,1238 350,1200 350,1214 350,1214 350,1206 350,1224 350,1208 350,1221 350,1218 350,1209 350,1222 351,1200 351,1201 351,1224 351,1190 351,1212 351,1200 351,1207 351,1228 351,1211 351,1208 351,1206 351,1204 351,1217 351,1210 351,1218 352,1214 352,1206 352,1202 352,1212 352,1218 352,1215 352,1222 352,1230 352,1224 353,1225 353,1222 353,1220 353,1211 353,1199 353,1221 353,1204 354,1226 354,1228 354,1233 354,1201 354,1216 355,1235 355,1231 355,1250 355,1239 355,1209 355,1230 356,1229 356,1240 356,1238 356,1217 356,1213 356,1202 357,1239 357,1233 357,1206 357,1223 357,1217 357,1206 357,1202 358,1224 358,1225 358,1227 358,1197 358,1224 358,1198 358,1198 358,1210 358,1222 359,1211 359,1208 359,1199 359,1219 359,1236 359,1218 359,1224 359,1234 359,1220 359,1238 359,1224 359,1234 359,1223 359,1235 359,1238 359,1216 359,1226 359,1230 359,1209 359,1234 360,1218 360,1224 360,1207 360,1210 360,1224 360,1206 360,1201 360,1221 360,1208 360,1221 360,1211 360,1219 360,1207 361,1203 361,1206 361,1209 361,1203 361,1209 361,1211 361,1214 362,1231 362,1232 362,1213 362,1217 362,1234 362,1231 363,1228 363,1224 363,1237 363,1230 363,1223 363,1257 364,1239 364,1250 364,1266 364,1265 364,1259 365,1243 365,1254 365,1237 365,1244 365,1226 365,1247 365,1252 366,1225 366,1219 366,1232 366,1242 366,1217 366,1213 366,1228 367,1203 367,1221 367,1219 367,1231 367,1241 367,1248 367,1225 367,1221 367,1246 367,1221 367,1241 367,1241 367,1223 367,1230 367,1210 368,1226 368,1249 368,1219 368,1230 368,1216 368,1234 368,1227 368,1255 368,1216 368,1243 368,1227 368,1221 368,1224 368,1221 368,1237 368,1223 368,1231 368,1216 369,1211 369,1213 369,1228 369,1215 369,1228 369,1231 369,1238 369,1243 369,1227 370,1214 370,1220 370,1220 370,1237 370,1226 370,1226 370,1210 370,1228 371,1220 371,1232 371,1208 371,1230 371,1231 371,1228 372,1221 372,1222 372,1209 372,1213 372,1209 373,1233 373,1227 373,1211 373,1210 373,1223 373,1202 374,1198 374,1214 374,1229 374,1194 374,1214 374,1213 374,1214 375,1220 375,1214 375,1199 375,1193 375,1186 375,1195 375,1201 376,1179 376,1214 376,1191 376,1166 376,1186 376,1167 376,1191 376,1167 376,1166 376,1199 376,1180 376,1200 376,1183 376,1218 377,1187 377,1187 377,1187 377,1190 377,1201 377,1201 377,1178 377,1213 377,1208 377,1213 377,1210 377,1199 377,1222 377,1198 377,1207 377,1220 377,1205 377,1226 377,1232 378,1229 378,1212 378,1198 378,1229 378,1208 378,1214 378,1221 378,1204 378,1205 379,1199 379,1210 379,1206 379,1217 379,1208 379,1215 379,1197 380,1201 380,1208 380,1198 380,1218 380,1204 380,1219 381,1205 381,1211 381,1200 381,1212 381,1182 381,1176 382,1169 382,1183 382,1196 382,1208 382,1180 382,1196 383,1170 383,1168 383,1186 383,1166 383,1173 383,1200 384,1169 384,1175 384,1165 384,1162 384,1194 384,1217 384,1185 384,1220 385,1197 385,1217 385,1191 385,1181 385,1231 385,1217 385,1217 385,1199 385,1235 385,1231 385,1227 385,1235 385,1232 385,1235 385,1206 385,1205 386,1206 386,1193 386,1208 386,1185 386,1188 386,1186 386,1208 386,1211 386,1190 386,1208 386,1205 386,1198 386,1221 386,1220 386,1205 386,1216 386,1200 387,1212 387,1213 387,1190 387,1178 387,1204 387,1212 387,1206 387,1203 387,1208 388,1185 388,1187 388,1188 388,1193 388,1212 388,1217 388,1203 389,1207 389,1184 389,1203 389,1210 389,1180 390,1192 390,1200 390,1215 390,1189 390,1184 390,1209 391,1191 391,1173 391,1189 391,1200 391,1188 391,1184 392,1203 392,1214 392,1201 392,1208 392,1174 392,1177 392,1185 393,1195 393,1200 393,1197 393,1163 393,1196 393,1195 393,1196 393,1174 393,1198 393,1217 394,1172 394,1177 394,1160 394,1196 394,1199 394,1163 394,1182 394,1179 394,1192 394,1211 394,1225 394,1228 394,1202 394,1230 394,1184 394,1177 394,1223 394,1194 394,1189 395,1198 395,1164 395,1202 395,1209 395,1187 395,1219 395,1204 395,1177 395,1218 395,1206 395,1188 395,1206 395,1197 396,1180 396,1197 396,1193 396,1179 396,1186 396,1174 396,1204 397,1195 397,1179 397,1190 397,1198 397,1190 397,1169 398,1163 398,1176 398,1172 398,1199 398,1164 398,1180 399,1181 399,1183 399,1185 399,1189 399,1172 400,1201 400,1204 400,1200 400,1218 400,1215 400,1211 401,1184 401,1213 401,1169 401,1180 401,1216 401,1183 401,1184 401,1181 402,1211 402,1204 402,1186 402,1184 402,1212 402,1193 402,1184 402,1217 402,1192 402,1173 402,1218 402,1225 402,1206 402,1207 402,1194 402,1163 403,1167 403,1163 403,1153 403,1153 403,1192 403,1189 403,1153 403,1154 403,1161 403,1155 403,1167 403,1159 403,1195 403,1159 403,1169 403,1196 403,1198 403,1196 404,1204 404,1173 404,1169 404,1168 404,1161 404,1171 404,1164 404,1179 405,1170 405,1196 405,1203 405,1188 405,1187 405,1174 406,1200 406,1185 406,1201 406,1195 406,1184 406,1173 407,1171 407,1198 407,1181 407,1194 407,1213 407,1178 408,1197 408,1211 408,1202 408,1195 408,1199 408,1185 409,1181 409,1168 409,1168 409,1169 409,1184 409,1170 409,1198 410,1180 410,1205 410,1214 410,1177 410,1202 410,1193 410,1183 410,1199 410,1195 411,1186 411,1196 411,1212 411,1200 411,1192 411,1212 411,1217 411,1206 411,1205 411,1175 411,1175 411,1177 411,1178 411,1192 411,1196 411,1178 412,1187 412,1191 412,1192 412,1170 412,1190 412,1193 412,1166 412,1168 412,1165 412,1196 412,1179 412,1176 412,1186 412,1182 412,1211 412,1220 413,1203 413,1207 413,1201 413,1188 413,1191 413,1205 413,1177 413,1190 413,1199 414,1173 414,1177 414,1196 414,1201 414,1186 414,1202 414,1183 415,1200 415,1190 415,1206 415,1183 415,1195 415,1211 416,1221 416,1221 416,1223 416,1224 416,1222 417,1220 417,1205 417,1224 417,1207 417,1204 417,1222 418,1216 418,1212 418,1209 418,1190 418,1218 418,1215 418,1207 419,1202 419,1201 419,1184 419,1191 419,1195 419,1218 419,1185 419,1199 420,1196 420,1225 420,1212 420,1206 420,1204 420,1178 420,1213 420,1215 420,1192 420,1204 420,1211 420,1209 420,1188 420,1219 420,1182 420,1179 421,1208 421,1185 421,1193 421,1179 421,1178 421,1183 421,1214 421,1179 421,1175 421,1185 421,1195 421,1209 421,1178 421,1196 421,1180 421,1206 421,1209 421,1225 422,1213 422,1192 422,1199 422,1202 422,1209 422,1213 422,1196 422,1197 423,1193 423,1190 423,1184 423,1208 423,1207 423,1197 423,1189 424,1203 424,1213 424,1201 424,1214 424,1217 424,1203 425,1209 425,1218 425,1220 425,1195 425,1218 426,1225 426,1216 426,1212 426,1192 426,1208 426,1202 427,1209 427,1204 427,1201 427,1232 427,1207 427,1225 427,1216 428,1213 428,1177 428,1210 428,1196 428,1201 428,1200 428,1193 428,1213 428,1186 429,1189 429,1181 429,1214 429,1178 429,1188 429,1184 429,1222 429,1197 429,1215 429,1222 429,1191 429,1201 429,1197 429,1205 429,1213 430,1216 430,1212 430,1218 430,1233 430,1197 430,1233 430,1196 430,1216 430,1195 430,1209 430,1207 430,1189 430,1190 430,1205 430,1196 430,1215 430,1231 431,1212 431,1201 431,1210 431,1201 431,1211 431,1228 431,1218 431,1221 431,1220 432,1224 432,1217 432,1220 432,1202 432,1215 432,1213 432,1199 433,1217 433,1207 433,1204 433,1190 433,1213 433,1183 434,1183 434,1211 434,1183 434,1200 434,1198 434,1189 435,1197 435,1192 435,1203 435,1189 435,1212 435,1202 436,1204 436,1201 436,1206 436,1231 436,1199 436,1198 437,1230 437,1230 437,1215 437,1221 437,1199 437,1193 437,1187 437,1208 438,1192 438,1202 438,1209 438,1188 438,1212 438,1224 438,1239 438,1232 438,1206 438,1232 438,1207 438,1205 438,1211 438,1224 439,1200 439,1198 439,1200 439,1215 439,1218 439,1227 439,1218 439,1240 439,1233 439,1244 439,1244 439,1237 439,1244 439,1237 439,1230 439,1227 439,1232 439,1220 440,1213 440,1208 440,1221 440,1202 440,1193 440,1217 440,1209 440,1216 440,1200 440,1225 441,1217 441,1205 441,1212 441,1218 441,1224 441,1209 441,1225 442,1229 442,1224 442,1221 442,1208 442,1222 442,1237 443,1211 443,1215 443,1219 443,1192 443,1219 443,1213 444,1225 444,1212 444,1225 444,1203 444,1214 444,1206 445,1199 445,1229 445,1222 445,1223 445,1206 445,1219 446,1234 446,1226 446,1228 446,1208 446,1207 446,1231 446,1213 446,1213 447,1209 447,1214 447,1230 447,1207 447,1227 447,1197 447,1219 447,1238 447,1225 447,1206 447,1225 447,1209 447,1220 448,1212 448,1187 448,1221 448,1213 448,1230 448,1237 448,1215 448,1204 448,1185 448,1198 448,1197 448,1225 448,1212 448,1222 448,1200 448,1211 448,1196 448,1221 448,1219 448,1209 449,1198 449,1212 449,1207 449,1209 449,1201 449,1211 449,1224 449,1195 449,1215 450,1199 450,1203 450,1219 450,1198 450,1219 450,1209 450,1220 451,1212 451,1210 451,1221 451,1205 451,1220 451,1218 452,1225 452,1218 452,1229 452,1220 452,1217 453,1201 453,1207 453,1192 453,1209 453,1197 453,1206 454,1188 454,1206 454,1210 454,1198 454,1188 454,1199 454,1204 455,1193 455,1229 455,1219 455,1197 455,1217 455,1219 455,1220 455,1211 455,1228 456,1225 456,1222 456,1210 456,1203 456,1212 456,1230 456,1216 456,1233 456,1222 456,1234 456,1217 456,1223 456,1233 456,1211 456,1224 456,1213 456,1210 456,1220 456,1228 457,1219 457,1222 457,1229 457,1219 457,1225 457,1206 457,1220 457,1210 457,1217 457,1194 457,1203 457,1205 457,1217 457,1224 458,1216 458,1235 458,1221 458,1222 458,1229 458,1222 458,1231 458,1227 459,1204 459,1208 459,1208 459,1200 459,1212 459,1195 460,1207 460,1222 460,1214 460,1208 460,1205 460,1198 461,1197 461,1209 461,1205 461,1211 461,1219 461,1219 462,1234 462,1237 462,1232 462,1225 462,1227 462,1214 463,1217 463,1223 463,1227 463,1226 463,1216 463,1228 463,1239 464,1223 464,1218 464,1232 464,1227 464,1218 464,1235 464,1235 464,1213 464,1243 465,1222 465,1225 465,1219 465,1218 465,1201 465,1198 465,1199 465,1223 465,1208 465,1211 465,1208 465,1227 465,1214 465,1232 465,1202 465,1229 465,1210 465,1214 466,1199 466,1211 466,1223 466,1226 466,1229 466,1237 466,1207 466,1232 466,1206 466,1207 466,1232 466,1235 466,1231 466,1200 466,1195 467,1217 467,1214 467,1190 467,1225 467,1201 467,1223 467,1199 467,1204 468,1210 468,1215 468,1196 468,1212 468,1231 468,1203 468,1223 469,1197 469,1236 469,1211 469,1199 469,1230 470,1194 470,1191 470,1198 470,1211 470,1230 470,1209 471,1202 471,1233 471,1222 471,1233 471,1206 471,1226 472,1204 472,1209 472,1227 472,1221 472,1209 472,1221 472,1210 473,1203 473,1217 473,1216 473,1202 473,1225 473,1218 473,1235 473,1194 473,1229 474,1203 474,1228 474,1214 474,1248 474,1211 474,1249 474,1229 474,1234 474,1229 474,1217 474,1225 474,1213 474,1255 474,1209 474,1244 474,1223 474,1202 474,1262 475,1245 475,1216 475,1225 475,1215 475,1258 475,1242 475,1205 475,1242 475,1230 475,1246 475,1234 475,1208 475,1227 475,1249 475,1237 476,1218 476,1245 476,1231 476,1202 476,1252 476,1217 476,1212 476,1213 477,1242 477,1251 477,1219 477,1258 477,1210 477,1203 478,1216 478,1214 478,1220 478,1197 478,1220 478,1213 479,1243 479,1211 479,1240 479,1224 479,1221 480,1207 480,1232 480,1203 480,1218 480,1224 480,1214 481,1211 481,1204 481,1227 481,1193 481,1201 481,1204 481,1251 482,1230 482,1223 482,1211 482,1261 482,1219 482,1249 482,1242 482,1204 482,1196 482,1212 483,1225 483,1242 483,1192 483,1194 483,1193 483,1185 483,1187 483,1202 483,1230 483,1218 483,1208 483,1196 483,1196 483,1217 483,1222 483,1189 483,1184 483,1188 483,1185 484,1220 484,1218 484,1226 484,1195 484,1225 484,1198 484,1216 484,1188 484,1196 484,1198 484,1202 484,1189 484,1217 484,1200 485,1234 485,1213 485,1218 485,1218 485,1234 485,1257 485,1236 486,1245 486,1235 486,1224 486,1208 486,1204 486,1203 486,1226 487,1224 487,1224 487,1213 487,1221 487,1225 487,1211 488,1209 488,1208 488,1210 488,1186 488,1195 488,1200 489,1221 489,1191 489,1194 489,1202 489,1222 489,1228 490,1214 490,1221 490,1211 490,1219 490,1209 490,1207 490,1226 491,1219 491,1235 491,1204 491,1233 491,1235 491,1238 491,1215 491,1225 491,1240 492,1205 492,1218 492,1234 492,1203 492,1226 492,1207 492,1224 492,1240 492,1233 492,1213 492,1207 492,1234 492,1224 492,1203 492,1225 492,1243 492,1225 493,1204 493,1210 493,1207 493,1217 493,1232 493,1220 493,1216 493,1195 493,1224 493,1213 493,1228 493,1220 493,1207 493,1192 493,1218 493,1216 494,1196 494,1187 494,1211 494,1194 494,1230 494,1201 494,1224 494,1193 495,1199 495,1201 495,1212 495,1225 495,1224 495,1217 495,1212 496,1211 496,1209 496,1223 496,1214 496,1200 496,1205 497,1212 497,1219 497,1214 497,1215 497,1207 498,1195 498,1200 498,1198 498,1203 498,1217 498,1210 499,1200 499,1206 499,1202 499,1209 499,1189 499,1216 499,1210 500,1195 500,1204 500,1187 500,1194 500,1206 500,1204 500,1228 500,1227 501,1233 501,1205 501,1213 501,1217 501,1246 501,1227 501,1246 501,1209 501,1215 501,1214 501,1215 501,1218 501,1233 501,1203 501,1208 501,1231 501,1199 501,1196 502,1242 502,1221 502,1238 502,1231 502,1246 502,1229 502,1206 502,1215 502,1237 502,1242 502,1230 502,1229 502,1226 502,1233 502,1241 502,1231 503,1220 503,1238 503,1227 503,1216 503,1214 503,1219 503,1225 503,1223 504,1243 504,1229 504,1233 504,1218 504,1232 504,1238 505,1209 505,1214 505,1228 505,1216 505,1219 505,1239 506,1236 506,1235 506,1209 506,1231 506,1216 507,1226 507,1207 507,1213 507,1217 507,1237 507,1231 508,1236 508,1242 508,1217 508,1230 508,1244 508,1216 508,1237 509,1232 509,1203 509,1235 509,1212 509,1243 509,1223 509,1219 509,1231 509,1236 509,1202 510,1204 510,1193 510,1218 510,1203 510,1218 510,1214 510,1205 510,1194 510,1207 510,1243 510,1203 510,1201 510,1213 510,1226 510,1231 510,1219 510,1222 510,1231 511,1208 511,1215 511,1205 511,1185 511,1209 511,1190 511,1213 511,1228 511,1213 511,1232 511,1206 511,1219 511,1222 511,1222 511,1204 512,1209 512,1198 512,1219 512,1216 512,1221 512,1213 512,1213 512,1204 513,1219 513,1206 513,1224 513,1212 513,1205 513,1217 514,1217 514,1224 514,1221 514,1210 514,1200 514,1235 515,1221 515,1223 515,1228 515,1216 515,1211 515,1215 516,1225 516,1227 516,1192 516,1223 516,1232 516,1195 517,1193 517,1204 517,1215 517,1208 517,1200 517,1199 517,1226 518,1217 518,1225 518,1185 518,1194 518,1200 518,1209 518,1203 518,1211 518,1231 519,1235 519,1212 519,1248 519,1233 519,1246 519,1204 519,1221 519,1194 519,1196 519,1208 519,1233 519,1208 519,1231 519,1242 519,1208 519,1220 519,1222 520,1215 520,1207 520,1212 520,1232 520,1222 520,1245 520,1219 520,1201 520,1219 520,1206 520,1219 520,1223 520,1247 520,1210 520,1207 521,1206 521,1240 521,1212 521,1230 521,1196 521,1234 521,1196 521,1238 521,1228 522,1204 522,1226 522,1222 522,1239 522,1217 522,1215 522,1230 523,1235 523,1221 523,1240 523,1240 523,1236 524,1244 524,1217 524,1236 524,1239 524,1220 524,1220 525,1230 525,1217 525,1209 525,1246 525,1237 525,1240 526,1239 526,1226 526,1232 526,1244 526,1239 526,1236 526,1215 527,1223 527,1237 527,1212 527,1189 527,1221 527,1233 527,1194 527,1199 527,1237 528,1226 528,1227 528,1231 528,1209 528,1208 528,1213 528,1215 528,1202 528,1188 528,1212 528,1216 528,1212 528,1222 528,1215 528,1205 528,1178 528,1221 528,1181 529,1211 529,1230 529,1236 529,1238 529,1204 529,1226 529,1231 529,1224 529,1224 529,1206 529,1187 529,1229 529,1209 529,1194 529,1206 530,1198 530,1179 530,1179 530,1183 530,1206 530,1208 530,1174 530,1204 531,1190 531,1192 531,1183 531,1184 531,1184 531,1196 532,1187 532,1204 532,1176 532,1191 532,1211 532,1216 533,1199 533,1217 533,1193 533,1211 533,1215 533,1210 534,1195 534,1199 534,1185 534,1195 534,1196 534,1209 535,1195 535,1191 535,1196 535,1216 535,1212 535,1179 535,1219 536,1200 536,1170 536,1203 536,1203 536,1200 536,1178 536,1176 536,1171 536,1211 537,1214 537,1208 537,1198 537,1212 537,1209 537,1190 537,1198 537,1184 537,1218 537,1192 537,1190 537,1189 537,1174 537,1183 537,1215 537,1203 538,1223 538,1227 538,1227 538,1231 538,1204 538,1200 538,1212 538,1187 538,1198 538,1227 538,1193 538,1204 538,1171 538,1208 538,1191 538,1169 539,1197 539,1167 539,1170 539,1205 539,1213 539,1210 539,1209 539,1178 539,1203 540,1215 540,1196 540,1207 540,1191 540,1219 540,1197 540,1217 541,1210 541,1207 541,1200 541,1228 541,1227 541,1220 542,1196 542,1214 542,1204 542,1193 542,1192 542,1189 543,1197 543,1212 543,1202 543,1224 543,1205 543,1205 544,1195 544,1201 544,1221 544,1223 544,1205 544,1208 545,1197 545,1201 545,1196 545,1205 545,1201 545,1187 545,1188 545,1208 546,1206 546,1204 546,1210 546,1200 546,1204 546,1190 546,1200 546,1175 546,1191 546,1184 546,1196 546,1180 546,1182 546,1175 546,1185 547,1196 547,1172 547,1198 547,1211 547,1196 547,1196 547,1207 547,1177 547,1178 547,1180 547,1174 547,1196 547,1202 547,1198 547,1195 547,1210 547,1193 547,1192 548,1194 548,1191 548,1198 548,1204 548,1185 548,1197 548,1192 548,1172 548,1184 548,1197 549,1202 549,1207 549,1217 549,1219 549,1188 549,1207 549,1185 550,1203 550,1204 550,1198 550,1194 550,1210 550,1197 551,1198 551,1198 551,1191 551,1197 551,1195 551,1212 552,1200 552,1214 552,1202 552,1201 552,1204 552,1228 553,1205 553,1206 553,1234 553,1222 553,1240 553,1216 554,1233 554,1222 554,1205 554,1201 554,1189 554,1194 554,1223 555,1207 555,1193 555,1194 555,1205 555,1224 555,1192 555,1189 555,1209 555,1221 555,1211 555,1223 555,1205 555,1236 556,1209 556,1210 556,1204 556,1235 556,1236 556,1237 556,1222 556,1240 556,1232 556,1244 556,1223 556,1234 556,1225 556,1202 556,1225 556,1196 556,1227 556,1234 556,1205 556,1212 557,1230 557,1206 557,1223 557,1208 557,1216 557,1235 557,1218 557,1238 557,1237 557,1227 558,1221 558,1233 558,1214 558,1211 558,1188 558,1202 558,1209 559,1204 559,1217 559,1229 559,1211 559,1222 559,1199 560,1219 560,1216 560,1220 560,1228 560,1205 560,1214 561,1214 561,1211 561,1231 561,1214 561,1196 562,1215 562,1199 562,1206 562,1225 562,1207 562,1209 563,1211 563,1191 563,1219 563,1183 563,1179 563,1202 563,1185 563,1195 564,1178 564,1189 564,1177 564,1180 564,1177 564,1185 564,1187 564,1190 564,1203 564,1202 564,1191 564,1175 564,1180 564,1181 564,1182 565,1199 565,1175 565,1182 565,1207 565,1182 565,1209 565,1193 565,1193 565,1204 565,1173 565,1203 565,1209 565,1219 565,1178 565,1190 565,1209 565,1204 566,1192 566,1210 566,1174 566,1195 566,1209 566,1216 566,1186 566,1188 566,1203 566,1180 566,1202 567,1193 567,1205 567,1210 567,1204 567,1219 567,1203 568,1214 568,1196 568,1220 568,1198 568,1184 568,1194 569,1184 569,1184 569,1193 569,1188 569,1172 569,1198 570,1190 570,1189 570,1177 570,1175 570,1194 570,1213 571,1182 571,1177 571,1211 571,1197 571,1202 571,1192 572,1215 572,1199 572,1199 572,1210 572,1192 572,1181 572,1186 572,1182 573,1192 573,1197 573,1191 573,1171 573,1196 573,1174 573,1164 573,1160 573,1156 573,1152 573,1150 573,1170 573,1208 573,1200 573,1168 574,1189 574,1186 574,1209 574,1186 574,1175 574,1165 574,1173 574,1179 574,1163 574,1168 574,1150 574,1157 574,1189 574,1155 574,1167 574,1160 574,1150 574,1158 575,1161 575,1150 575,1181 575,1170 575,1153 575,1158 575,1183 575,1189 575,1154 576,1152 576,1156 576,1175 576,1191 576,1168 576,1197 576,1181 577,1198 577,1181 577,1174 577,1198 577,1179 577,1173 578,1168 578,1173 578,1184 578,1182 578,1183 578,1192 579,1192 579,1174 579,1190 579,1184 579,1202 579,1180 580,1178 580,1184 580,1186 580,1210 580,1206 580,1185 581,1203 581,1205 581,1215 581,1190 581,1164 581,1178 581,1182 581,1181 582,1166 582,1152 582,1175 582,1168 582,1190 582,1189 582,1200 582,1184 582,1176 582,1174 582,1199 582,1188 582,1213 582,1202 582,1185 582,1195 583,1177 583,1181 583,1186 583,1194 583,1189 583,1152 583,1152 583,1185 583,1168 583,1182 583,1207 583,1185 583,1175 583,1189 583,1180 583,1161 583,1180 584,1169 584,1172 584,1173 584,1167 584,1183 584,1183 584,1174 584,1180 584,1156 585,1163 585,1183 585,1168 585,1196 585,1188 585,1195 585,1207 586,1185 586,1216 586,1194 586,1199 586,1196 587,1210 587,1184 587,1196 587,1177 587,1200 587,1206 588,1209 588,1202 588,1193 588,1200 588,1192 588,1195 589,1215 589,1191 589,1208 589,1195 589,1193 589,1207 589,1192 590,1194 590,1186 590,1174 590,1209 590,1197 590,1203 590,1188 590,1213 590,1210 591,1194 591,1213 591,1198 591,1192 591,1204 591,1208 591,1190 591,1186 591,1194 591,1183 591,1207 591,1202 591,1199 591,1163 591,1199 591,1179 591,1210 592,1219 592,1184 592,1183 592,1222 592,1218 592,1194 592,1217 592,1200 592,1199 592,1186 592,1198 592,1201 592,1200 592,1198 592,1206 593,1215 593,1205 593,1211 593,1188 593,1197 593,1203 593,1192 593,1182 593,1210 594,1206 594,1199 594,1192 594,1211 594,1208 594,1200 594,1205 595,1200 595,1208 595,1182 595,1207 595,1191 595,1189 596,1185 596,1190 596,1193 596,1208 596,1208 597,1203 597,1206 597,1213 597,1200 597,1204 597,1206 598,1218 598,1201 598,1225 598,1208 598,1208 598,1221 598,1213 599,1217 599,1198 599,1219 599,1226 599,1220 599,1214 599,1207 599,1198 600,1203 600,1211 600,1215 600,1204 600,1200 600,1204 600,1217 600,1215 600,1209 600,1213 600,1209 600,1214 600,1223 600,1224 600,1212 600,1217 601,1223 601,1232 601,1230 601,1213 601,1219 601,1223 601,1210 601,1208 601,1224 601,1212 601,1229 601,1228 601,1218 601,1206 601,1221 601,1218 601,1199 602,1213 602,1214 602,1216 602,1210 602,1215 602,1202 602,1208 602,1198 602,1217 603,1211 603,1201 603,1197 603,1196 603,1202 603,1193 603,1209 604,1201 604,1194 604,1194 604,1215 604,1213 604,1203 605,1200 605,1216 605,1202" fill="none" stroke="none" marker-start="url(#mx)" marker-mid="url(#mx)" marker-end="url(#mx)"/>
<polyline clip-path="url(#c2)" points="633,1183 633,1200 633,1201 633,1182 633,1183 633,1198 633,1191 633,1197 633,1176 634,1184 634,1180 634,1215 634,1175 634,1174 635,1194 635,1198 635,1194 635,1192 635,1191 635,1221 636,1213 636,1219 636,1204 636,1212 636,1207 636,1202 637,1186 637,1194 637,1218 637,1198 637,1190 637,1218 637,1209 638,1206 638,1199 638,1194 638,1195 638,1189 638,1201 638,1178 638,1180 638,1206 638,1205 639,1189 639,1192 639,1189 639,1207 639,1195 639,1212 639,1201 639,1183 639,1173 639,1182 639,1199 639,1167 639,1170 639,1203 639,1181 639,1166 639,1197 639,1186 640,1169 640,1172 640,1206 640,1194 640,1195 640,1197 640,1194 640,1183 640,1170 640,1197 640,1200 640,1184 640,1183 640,1179 640,1176 641,1178 641,1187 641,1175 641,1173 641,1188 641,1178 641,1189 641,1171 642,1202 642,1185 642,1192 642,1191 642,1200 642,1173 643,1178 643,1199 643,1179 643,1187 643,1197 643,1194 644,1206 644,1206 644,1200 644,1202 644,1204 644,1194 645,1206 645,1187 645,1194 645,1202 645,1201 645,1206 646,1166 646,1198 646,1185 646,1193 646,1196 646,1191 646,1190 647,1178 647,1183 647,1195 647,1190 647,1180 647,1181 647,1184 647,1188 647,1172 648,1169 648,1160 648,1173 648,1183 648,1190 648,1203 648,1177 648,1174 648,1192 648,1190 648,1184 648,1203 648,1198 648,1179 648,1193 648,1182 648,1169 648,1164 648,1179 649,1158 649,1174 649,1163 649,1165 649,1155 649,1164 649,1161 649,1160 649,1158 649,1184 649,1166 649,1184 649,1181 649,1171 650,1191 650,1169 650,1189 650,1177 650,1178 650,1180 650,1165 650,1174 651,1183 651,1182 651,1164 651,1170 651,1174 651,1163 652,1169 652,1180 652,1176 652,1184 652,1156 652,1165 653,1155 653,1166 653,1155 653,1156 653,1157 653,1175 654,1148 654,1171 654,1150 654,1167 654,1176 654,1144 655,1184 655,1163 655,1168 655,1143 655,1168 655,1182 655,1145 656,1137 656,1134 656,1143 656,1132 656,1148 656,1151 656,1132 656,1132 656,1132 657,1132 657,1151 657,1132 657,1160 657,1138 657,1153 657,1143 657,1140 657,1159 657,1161 657,1163 657,1143 657,1148 657,1151 657,1173 657,1146 658,1170 658,1151 658,1160 658,1168 658,1161 658,1166 658,1182 658,1173 658,1165 658,1177 658,1161 658,1142 658,1176 658,1168 658,1160 658,1172 659,1153 659,1165 659,1159 659,1177 659,1164 659,1167 659,1173 659,1166 659,1147 660,1165 660,1160 660,1162 660,1142 660,1142 660,1160 660,1152 661,1135 661,1149 661,1143 661,1157 661,1140 661,1152 662,1164 662,1162 662,1146 662,1158 662,1151 662,1150 663,1149 663,1152 663,1142 663,1169 663,1175 664,1147 664,1147 664,1156 664,1169 664,1162 664,1152 664,1152 665,1180 665,1162 665,1164 665,1153 665,1159 665,1151 665,1171 665,1169 666,1157 666,1158 666,1145 666,1159 666,1169 666,1180 666,1190 666,1178 666,1168 666,1186 666,1189 666,1185 666,1176 666,1170 667,1181 667,1168 667,1176 667,1172 667,1178 667,1177 667,1170 667,1154 667,1149 667,1147 667,1173 667,1151 667,1168 667,1165 667,1169 667,1158 667,1160 667,1154 667,1173 668,1159 668,1149 668,1149 668,1155 668,1161 668,1149 668,1152 668,1148 668,1154 669,1155 669,1162 669,1149 669,1177 669,1184 669,1161 669,1172 670,1181 670,1170 670,1157 670,1160 670,1157 670,1158 671,1177 671,1157 671,1161 671,1175 671,1186 671,1175 672,1185 672,1183 672,1187 672,1184 672,1207 672,1194 673,1188 673,1177 673,1176 673,1209 673,1184 673,1195 674,1212 674,1211 674,1214 674,1211 674,1203 674,1192 674,1191 674,1210 675,1211 675,1195 675,1208 675,1210 675,1186 675,1208 675,1206 675,1203 675,1186 675,1202 675,1202 675,1200 675,1193 675,1201 675,1184 676,1185 676,1199 676,1199 676,1182 676,1188 676,1181 676,1184 676,1183 676,1184 676,1196 676,1172 676,1195 676,1188 676,1176 676,1193 676,1189 676,1182 677,1184 677,1191 677,1194 677,1195 677,1206 677,1195 677,1181 677,1188 677,1206 677,1186 678,1189 678,1193 678,1193 678,1180 678,1187 678,1193 678,1193 679,1184 679,1179 679,1188 679,1185 679,1180 679,1167 680,1174 680,1179 680,1177 680,1168 680,1176 680,1162 681,1164 681,1161 681,1160 681,1173 681,1176 681,1161 682,1171 682,1173 682,1185 682,1165 682,1167 682,1165 683,1175 683,1170 683,1168 683,1154 683,1159 683,1169 683,1170 683,1164 684,1164 684,1156 684,1166 684,1148 684,1148 684,1168 684,1163 684,1159 684,1171 684,1162 684,1175 684,1176 684,1174 684,1164 684,1158 685,1169 685,1175 685,1164 685,1169 685,1153 685,1151 685,1169 685,1152 685,1154 685,1163 685,1160 685,1152 685,1159 685,1150 685,1160 685,1155 685,1158 685,1158 686,1148 686,1152 686,1154 686,1139 686,1144 686,1138 686,1148 686,1152 686,1152 686,1146 687,1156 687,1156 687,1156 687,1150 687,1152 687,1137 687,1149 688,1138 688,1149 688,1154 688,1142 688,1142 688,1147 689,1154 689,1156 689,1146 689,1140 689,1156 690,1160 690,1159 690,1146 690,1153 690,1135 690,1141 691,1145 691,1141 691,1147 691,1151 691,1155 691,1159 692,1152 692,1129 692,1151 692,1140 692,1141 692,1152 692,1144 692,1133 693,1160 693,1150 693,1148 693,1171 693,1167 693,1146 693,1171 693,1146 693,1154 693,1163 693,1141 693,1157 693,1149 694,1149 694,1162 694,1158 694,1167 694,1167 694,1154 694,1164 694,1166 694,1154 694,1170 694,1161 694,1167 694,1161 694,1171 694,1171 694,1154 694,1151 694,1139 695,1159 695,1152 695,1143 695,1163 695,1158 695,1145 695,1152 695,1137 695,1150 695,1156 695,1140 695,1142 696,1129 696,1127 696,1137 696,1140 696,1144 696,1126 696,1138 696,1135 697,1133 697,1134 697,1146 697,1153 697,1150 697,1136 698,1129 698,1133 698,1136 698,1167 698,1155 698,1131 699,1172 699,1149 699,1169 699,1150 699,1167 699,1172 700,1190 700,1156 700,1192 700,1173 700,1147 700,1165 701,1184 701,1157 701,1160 701,1145 701,1145 701,1184 701,1190 702,1176 702,1180 702,1148 702,1171 702,1182 702,1181 702,1148 702,1175 702,1162 703,1149 703,1171 703,1153 703,1158 703,1129 703,1160 703,1129 703,1138 703,1155 703,1132 703,1159 703,1138 703,1144 703,1132 703,1153 704,1166 704,1144 704,1154 704,1148 704,1139 704,1136 704,1143 704,1166 704,1159 704,1135 704,1154 704,1156 704,1156 704,1158 704,1156 704,1181 704,1158 705,1159 705,1167 705,1167 705,1161 705,1176 705,1144 705,1171 705,1172 705,1173 706,1152 706,1154 706,1162 706,1171 706,1167 706,1158 706,1177 707,1146 707,1172 707,1152 707,1185 707,1156 707,1170 708,1166 708,1166 708,1154 708,1172 708,1167 708,1179 709,1176 709,1179 709,1182 709,1185 709,1186 710,1155 710,1145 710,1153 710,1155 710,1167 710,1160 710,1133 711,1136 711,1140 711,1150 711,1143 711,1157 711,1146 711,1134 711,1138 712,1155 712,1152 712,1154 712,1142 712,1139 712,1165 712,1159 712,1159 712,1149 712,1142 712,1144 712,1151 712,1151 712,1151 712,1159 712,1154 713,1174 713,1153 713,1165 713,1160 713,1166 713,1157 713,1155 713,1161 713,1157 713,1152 713,1149 713,1149 713,1158 713,1162 713,1161 713,1167 713,1147 714,1147 714,1150 714,1160 714,1157 714,1173 714,1154 714,1166 714,1145 714,1175 715,1166 715,1154 715,1169 715,1168 715,1162 715,1170 715,1168 716,1164 716,1146 716,1164 716,1149 716,1146 716,1144 717,1168 717,1164 717,1144 717,1139 717,1166 717,1148 718,1166 718,1150 718,1142 718,1160 718,1171 719,1144 719,1161 719,1135 719,1158 719,1138 719,1164 719,1154 720,1139 720,1168 720,1151 720,1169 720,1147 720,1165 720,1151 720,1133 721,1149 721,1136 721,1148 721,1137 721,1156 721,1139 721,1154 721,1142 721,1150 721,1168 721,1158 721,1163 721,1157 721,1149 721,1159 721,1162 722,1160 722,1141 722,1152 722,1145 722,1145 722,1138 722,1139 722,1160 722,1147 722,1142 722,1146 722,1148 722,1159 722,1159 722,1157 722,1158 722,1164 723,1155 723,1145 723,1142 723,1155 723,1161 723,1167 723,1135 723,1162 723,1143 723,1136 724,1133 724,1132 724,1126 724,1122 724,1124 724,1121 724,1148 725,1120 725,1120 725,1134 725,1142 725,1153 725,1127 726,1117 726,1133 726,1122 726,1132 726,1121 727,1130 727,1124 727,1140 727,1154 727,1125 727,1125 728,1137 728,1140 728,1145 728,1143 728,1124 728,1136 729,1119 729,1141 729,1120 729,1133 729,1144 729,1144 729,1132 729,1140 730,1148 730,1123 730,1149 730,1134 730,1160 730,1153 730,1126 730,1146 730,1139 730,1143 730,1143 730,1140 730,1143 730,1137 730,1121 731,1132 731,1128 731,1126 731,1128 731,1146 731,1130 731,1125 731,1141 731,1123 731,1135 731,1127 731,1126 731,1133 731,1126 731,1130 731,1129 731,1137 731,1115 732,1129 732,1117 732,1127 732,1128 732,1110 732,1124 732,1124 732,1111 732,1112 733,1139 733,1130 733,1122 733,1114 733,1112 733,1131 733,1121 734,1116 734,1118 734,1113 734,1113 734,1134 734,1123 735,1121 735,1119 735,1140 735,1124 735,1130 735,1143 736,1152 736,1130 736,1155 736,1140 736,1123 737,1134 737,1151 737,1175 737,1145 737,1154 737,1137 737,1158 738,1165 738,1158 738,1158 738,1137 738,1140 738,1143 738,1173 738,1168 739,1141 739,1157 739,1144 739,1145 739,1129 739,1139 739,1147 739,1131 739,1162 739,1155 739,1136 739,1131 739,1138 739,1158 739,1169 740,1156 740,1161 740,1143 740,1150 740,1153 740,1153 740,1173 740,1156 740,1175 740,1156 740,1143 740,1158 740,1132 740,1158 740,1128 740,1130 740,1159 740,1148 741,1122 741,1149 741,1137 741,1134 741,1145 741,1152 741,1145 741,1122 741,1137 742,1122 742,1145 742,1156 742,1128 742,1120 742,1145 742,1124 742,1119 743,1140 743,1135 743,1141 743,1129 743,1152 743,1171 744,1144 744,1144 744,1142 744,1178 744,1177 745,1142 745,1141 745,1133 745,1142 745,1136 745,1139 746,1150 746,1137 746,1152 746,1150 746,1126 746,1144 747,1133 747,1136 747,1151 747,1137 747,1126 747,1140 747,1133 747,1136 748,1118 748,1123 748,1118 748,1129 748,1116 748,1134 748,1110 748,1119 748,1115 748,1135 748,1118 748,1116 748,1138 749,1130 749,1129 749,1116 749,1127 749,1099 749,1123 749,1108 749,1126 749,1131 749,1099 749,1119 749,1113 749,1112 749,1115 749,1102 749,1109 749,1108 749,1113 749,1114 750,1100 750,1129 750,1125 750,1124 750,1130 750,1127 750,1125 750,1130 750,1125 750,1107 750,1103 751,1138 751,1104 751,1104 751,1108 751,1126 751,1109 751,1106 752,1132 752,1127 752,1120 752,1122 752,1137 752,1128 753,1129 753,1128 753,1148 753,1131 753,1121 753,1128 754,1137 754,1136 754,1126 754,1134 754,1139 754,1159 755,1142 755,1149 755,1128 755,1140 755,1144 755,1156 756,1151 756,1158 756,1170 756,1157 756,1160 756,1153 756,1151 757,1168 757,1143 757,1171 757,1162 757,1155 757,1144 757,1161 757,1170 757,1147 757,1150 757,1153 758,1160 758,1165 758,1154 758,1164 758,1157 758,1175 758,1176 758,1161 758,1165 758,1146 758,1160 758,1156 758,1142 758,1149 758,1176 758,1166 758,1152 758,1146 758,1155 758,1183 759,1143 759,1171 759,1171 759,1169 759,1150 759,1150 759,1166 759,1143 759,1163 759,1161 759,1136 759,1123 760,1137 760,1157 760,1137 760,1145 760,1157 760,1155 760,1148 761,1126 761,1132 761,1157 761,1116 761,1146 761,1133 762,1141 762,1149 762,1141 762,1130 762,1135 762,1138 763,1144 763,1118 763,1130 763,1126 763,1114 763,1120 764,1121 764,1136 764,1110 764,1128 764,1121 764,1131 765,1120 765,1116 765,1134 765,1117 765,1123 765,1128 765,1127 766,1110 766,1119 766,1132 766,1111 766,1119 766,1132 766,1121 766,1119 766,1132 766,1121 766,1127 766,1121 767,1138 767,1144 767,1124 767,1142 767,1129 767,1150 767,1128 767,1147 767,1147 767,1128 767,1138 767,1131 767,1144 767,1130 767,1130 767,1142 767,1141 767,1159 768,1153 768,1134 768,1150 768,1139 768,1148 768,1154 768,1148 768,1155 768,1133 768,1129 768,1142 768,1144 768,1132 769,1123 769,1117 769,1118 769,1147 769,1133 769,1124 769,1129 770,1148 770,1142 770,1137 770,1126 770,1131 770,1131 771,1119 771,1132 771,1119 771,1137 771,1117 772,1144 772,1137 772,1119 772,1122 772,1124 772,1136 773,1125 773,1135 773,1110 773,1108 773,1110 773,1110 773,1129 774,1126 774,1114 774,1136 774,1129 774,1112 774,1109 774,1137 775,1132 775,1120 775,1122 775,1119 775,1130 775,1124 775,1110 775,1133 775,1133 775,1118 775,1133 775,1123 776,1119 776,1117 776,1124 776,1109 776,1106 776,1113 776,1109 776,1110 776,1111 776,1104 776,1104 776,1124 776,1110 776,1117 776,1122 776,1117 776,1104 776,1104 776,1120 776,1132 777,1123 777,1123 777,1117 777,1104 777,1127 777,1124 777,1103 777,1119 777,1107 777,1111 777,1127 778,1113 778,1103 778,1105 778,1117 778,1103 778,1129 778,1135 779,1117 779,1125 779,1131 779,1139 779,1123 779,1149 780,1130 780,1139 780,1133 780,1145 780,1107 780,1126 781,1125 781,1102 781,1111 781,1109 781,1112 782,1105 782,1110 782,1108 782,1101 782,1111 782,1127 782,1131 783,1118 783,1131 783,1111 783,1137 783,1125 783,1133 783,1146 784,1141 784,1122 784,1139 784,1134 784,1139 784,1122 784,1122 784,1134 784,1138 784,1122 784,1115 784,1141 785,1121 785,1133 785,1142 785,1138 785,1125 785,1142 785,1124 785,1136 785,1139 785,1140 785,1131 785,1139 785,1121 785,1147 785,1135 785,1120 785,1127 785,1137 785,1118 785,1135 786,1135 786,1142 786,1135 786,1139 786,1126 786,1139 786,1155 786,1149 786,1132 786,1129 786,1155 787,1128 787,1146 787,1154 787,1142 787,1127 787,1137 787,1147 788,1136 788,1141 788,1121 788,1111 788,1133 789,1116 789,1109 789,1108 789,1115 789,1105 789,1105 790,1105 790,1112 790,1135 790,1102 790,1122 790,1097 791,1116 791,1127 791,1112 791,1146 791,1119 791,1119 791,1129 792,1131 792,1134 792,1128 792,1115 792,1116 792,1123 792,1133 793,1136 793,1128 793,1117 793,1122 793,1124 793,1123 793,1128 793,1125 793,1122 793,1111 793,1125 793,1121 793,1131 793,1115 794,1107 794,1129 794,1129 794,1129 794,1142 794,1140 794,1149 794,1143 794,1126 794,1149 794,1147 794,1146 794,1157 794,1148 794,1132 794,1151 794,1153 794,1129 794,1143 795,1149 795,1135 795,1138 795,1125 795,1146 795,1134 795,1132 795,1133 795,1126 796,1125 796,1141 796,1137 796,1129 796,1146 796,1156 796,1131 797,1130 797,1157 797,1155 797,1157 797,1154 797,1157 798,1153 798,1147 798,1155 798,1155 798,1152 798,1139 799,1130 799,1145 799,1134 799,1133 799,1148 800,1134 800,1140 800,1134 800,1139 800,1129 800,1136 800,1140 801,1130 801,1127 801,1143 801,1133 801,1137 801,1133 801,1131 801,1117 801,1126 802,1116 802,1126 802,1130 802,1137 802,1131 802,1120 802,1128 802,1131 802,1123 802,1110 802,1132 802,1115 802,1120 802,1129 802,1121 802,1117 802,1126 802,1127 802,1103 803,1106 803,1109 803,1120 803,1108 803,1119 803,1118 803,1136 803,1111 803,1121 803,1120 803,1140 803,1124 803,1127 803,1139 804,1117 804,1135 804,1117 804,1127 804,1134 804,1143 804,1132 804,1126 805,1123 805,1144 805,1127 805,1118 805,1128 805,1118 806,1112 806,1125 806,1118 806,1114 806,1134 807,1109 807,1122 807,1128 807,1121 807,1130 807,1126 808,1111 808,1120 808,1119 808,1121 808,1120 808,1114 809,1109 809,1119 809,1111 809,1117 809,1112 809,1126 809,1108 810,1113 810,1110 810,1101 810,1109 810,1094 810,1106 810,1105 810,1118 810,1105 810,1121 810,1114 810,1132 811,1124 811,1103 811,1104 811,1116 811,1113 811,1126 811,1109 811,1119 811,1098 811,1132 811,1107 811,1131 811,1129 811,1123 811,1119 811,1129 811,1108 811,1114 811,1109 812,1114 812,1117 812,1112 812,1129 812,1109 812,1105 812,1113 812,1100 812,1115 812,1093 812,1097 812,1105 813,1097 813,1110 813,1096 813,1094 813,1110 813,1089 813,1096 814,1102 814,1122 814,1112 814,1118 814,1122 814,1088 815,1113 815,1108 815,1112 815,1095 815,1101 815,1103 816,1096 816,1105 816,1087 816,1107 816,1115 817,1111 817,1104 817,1117 817,1115 817,1112 817,1111 818,1083 818,1114 818,1104 818,1110 818,1120 818,1108 818,1115 818,1109 819,1113 819,1118 819,1103 819,1101 819,1100 819,1103 819,1119 819,1108 819,1102 819,1107 819,1115 819,1112 819,1101 819,1090 820,1100 820,1113 820,1123 820,1123 820,1095 820,1116 820,1102 820,1109 820,1110 820,1101 820,1119 820,1109 820,1124 820,1098 820,1102 820,1101 820,1105 820,1116 820,1123 821,1122 821,1109 821,1103 821,1129 821,1104 821,1112 821,1120 821,1112 821,1125 822,1114 822,1120 822,1125 822,1126 822,1102 822,1109 822,1106 823,1116 823,1104 823,1102 823,1106 823,1121 823,1110 824,1117 824,1119 824,1118 824,1121 824,1096 824,1097 825,1091 825,1089 825,1111 825,1093 825,1105 826,1101 826,1098 826,1123 826,1123 826,1106 826,1128 826,1104 827,1107 827,1115 827,1107 827,1115 827,1126 827,1123 827,1118 827,1106 827,1111 828,1118 828,1112 828,1124 828,1122 828,1105 828,1103 828,1121 828,1119 828,1108 828,1110 828,1122 828,1130 828,1112 829,1113 829,1112 829,1112 829,1107 829,1120 829,1125 829,1124 829,1129 829,1123 829,1105 829,1116 829,1119 829,1126 829,1119 829,1135 829,1135 829,1128 829,1105 830,1135 830,1100 830,1113 830,1112 830,1136 830,1128 830,1127 830,1110 830,1125 830,1139 830,1141 831,1132 831,1143 831,1143 831,1136 831,1137 831,1147 831,1139 832,1120 832,1134 832,1113 832,1117 832,1108 832,1122 833,1121 833,1132 833,1134 833,1132 833,1137 833,1128 834,1146 834,1135 834,1134 834,1145 834,1149 834,1130 835,1149 835,1159 835,1157 835,1153 835,1147 835,1139 836,1138 836,1140 836,1124 836,1125 836,1130 836,1145 836,1149 837,1141 837,1144 837,1143 837,1133 837,1122 837,1137 837,1115 837,1131 837,1126 837,1122 837,1130 837,1131 837,1137 838,1147 838,1127 838,1145 838,1128 838,1141 838,1129 838,1139 838,1142 838,1153 838,1137 838,1129 838,1124 838,1136 838,1121 838,1118 838,1122 838,1130 838,1124 838,1110 839,1106 839,1118 839,1127 839,1113 839,1138 839,1105 839,1135 839,1143 839,1139 839,1124 839,1128 840,1145 840,1152 840,1150 840,1144 840,1129 840,1141 841,1142 841,1135 841,1131 841,1147 841,1136 841,1144 842,1126 842,1122 842,1120 842,1124 842,1130 843,1110 843,1111 843,1104 843,1108 843,1121 843,1121 844,1120 844,1112 844,1118 844,1118 844,1116 844,1128 844,1126 845,1121 845,1118 845,1116 845,1115 845,1120 845,1121 845,1117 845,1130 846,1119 846,1124 846,1131 846,1121 846,1110 846,1133 846,1138 846,1131 846,1135 846,1133 846,1107 846,1119 846,1121 846,1092 847,1110 847,1089 847,1100 847,1105 847,1089 847,1116 847,1110 847,1093 847,1106 847,1088 847,1100 847,1116 847,1090 847,1088 847,1087 847,1088 847,1087 847,1087 847,1087 848,1108 848,1086 848,1095 848,1099 848,1131 848,1113 848,1124 848,1108 848,1126 849,1111 849,1121 849,1111 849,1118 849,1120 849,1120 850,1086 850,1108 850,1119 850,1099 850,1092 850,1095 851,1101 851,1096 851,1093 851,1120 851,1100 852,1100 852,1103 852,1101 852,1097 852,1091 852,1096 853,1105 853,1093 853,1104 853,1089 853,1098 853,1096 853,1096 854,1094 854,1080 854,1087 854,1084 854,1081 854,1103 854,1080 854,1088 854,1097 854,1086 854,1087 855,1090 855,1094 855,1092 855,1076 855,1109 855,1090 855,1089 855,1091 855,1092 855,1104 855,1114 855,1114 855,1116 855,1114 855,1122 855,1097 855,1091 855,1118 856,1096 856,1118 856,1086 856,1102 856,1085 856,1086 856,1082 856,1069 856,1079 856,1100 856,1088 856,1103 856,1076 856,1101 857,1108 857,1094 857,1092 857,1066 857,1081 857,1096 857,1076 858,1090 858,1099 858,1107 858,1108 858,1081 858,1103 858,1106 859,1122 859,1094 859,1122 859,1116 859,1121 859,1099 860,1103 860,1119 860,1106 860,1105 860,1088 861,1105 861,1122 861,1126 861,1114 861,1097 861,1098 862,1096 862,1123 862,1120 862,1113 862,1098 862,1112 862,1110 863,1118 863,1119 863,1107 863,1108 863,1115 863,1106 863,1109 863,1113 863,1094 863,1127 864,1104 864,1095 864,1127 864,1102 864,1120 864,1095 864,1103 864,1082 864,1081 864,1097 864,1099 864,1100 864,1101 864,1118 864,1089 864,1101 864,1086 864,1101 864,1125 865,1094 865,1099 865,1118 865,1118 865,1118 865,1125 865,1124 865,1105 865,1136 865,1129 865,1109 865,1118 865,1113 865,1128 866,1099 866,1126 866,1099 866,1089 866,1098 866,1106 866,1095 866,1103 867,1137 867,1113 867,1109 867,1121 867,1142 867,1142 867,1129 868,1130 868,1133 868,1136 868,1114 868,1119 868,1127 869,1129 869,1135 869,1140 869,1121 869,1117 870,1113 870,1109 870,1119 870,1104 870,1114 870,1094 871,1100 871,1105 871,1108 871,1116 871,1105 871,1121 871,1116 872,1122 872,1111 872,1141 872,1143 872,1121 872,1133 872,1132 872,1134 872,1132 873,1123 873,1127 873,1136 873,1127 873,1113 873,1155 873,1124 873,1125 873,1148 873,1145 873,1145 873,1144 873,1142 873,1145 873,1126 873,1125 874,1145 874,1151 874,1140 874,1130 874,1123 874,1154 874,1155 874,1122 874,1126 874,1142 874,1104 874,1108 874,1109 874,1117 874,1130 874,1141 875,1133 875,1113 875,1123 875,1113 875,1123 875,1114 875,1106 875,1111 875,1125 876,1116 876,1104 876,1117 876,1131 876,1113 876,1111 876,1128 876,1120 877,1115 877,1108 877,1129 877,1110 877,1123 877,1110 878,1120 878,1132 878,1123 878,1116 878,1123 879,1130 879,1125 879,1125 879,1113 879,1114 879,1113 880,1128 880,1116 880,1117 880,1124 880,1114 880,1118 881,1111 881,1118 881,1117 881,1107 881,1115 881,1111 881,1105 881,1110 882,1097 882,1100 882,1109 882,1111 882,1106 882,1114 882,1115 882,1112 882,1113 882,1100 882,1094 882,1114 882,1101 883,1101 883,1098 883,1117 883,1109 883,1109 883,1108 883,1105 883,1094 883,1099 883,1092 883,1097 883,1089 883,1108 883,1103 883,1111 883,1111 883,1109 883,1104 884,1093 884,1096 884,1109 884,1104 884,1099 884,1113 884,1096 884,1111 884,1102 884,1096 884,1090 884,1093 885,1105 885,1106 885,1104 885,1107 885,1094 885,1099 885,1104 886,1080 886,1088 886,1090 886,1096 886,1090 887,1100 887,1088 887,1095 887,1087 887,1085 887,1090 888,1081 888,1091 888,1088 888,1073 888,1082 888,1081 889,1072 889,1071 889,1086 889,1072 889,1070 889,1081 890,1067 890,1082 890,1069 890,1068 890,1062 890,1079 890,1076 890,1073 891,1067 891,1058 891,1058 891,1058 891,1060 891,1058 891,1060 891,1063 891,1074 891,1066 891,1065 891,1067 891,1065 891,1064 892,1071 892,1057 892,1074 892,1066 892,1084 892,1064 892,1079 892,1070 892,1066 892,1088 892,1075 892,1083 892,1087 892,1079 892,1072 892,1085 892,1093 892,1085 893,1093 893,1080 893,1069 893,1074 893,1066 893,1066 893,1079 893,1073 893,1071 893,1091 894,1073 894,1072 894,1062 894,1058 894,1072 894,1070 894,1072 894,1077 895,1074 895,1073 895,1073 895,1075 895,1066 896,1061 896,1065 896,1083 896,1073 896,1077 896,1063 897,1063 897,1073 897,1073 897,1071 897,1069 897,1073 898,1080 898,1078 898,1067 898,1088 898,1070 898,1073 899,1083 899,1079 899,1072 899,1086 899,1073 899,1072 899,1073 899,1071 900,1078 900,1077 900,1082 900,1064 900,1067 900,1072 900,1093 900,1089 900,1094 900,1072 900,1098 900,1075 900,1075 900,1073 900,1068 901,1078 901,1093 901,1087 901,1061 901,1084 901,1066 901,1087 901,1071 901,1071 901,1091 901,1076 901,1076 901,1079 901,1064 901,1083 901,1059 901,1088 901,1079 902,1066 902,1076 902,1084 902,1079 902,1070 902,1060 902,1068 902,1074 902,1078 903,1067 903,1092 903,1075 903,1078 903,1083 903,1067 903,1092 904,1092 904,1072 904,1079 904,1081 904,1093 904,1065 905,1082 905,1089 905,1097 905,1077 905,1086 905,1062 906,1075 906,1089 906,1074 906,1076 906,1068 906,1089 907,1082 907,1100 907,1085 907,1086 907,1106 907,1093 908,1077 908,1097 908,1079 908,1083 908,1096 908,1096 908,1081 908,1081 908,1078 909,1081 909,1101 909,1086 909,1077 909,1086 909,1087 909,1100 909,1079 909,1103 909,1091 909,1085 909,1096 909,1094 909,1080 909,1087 909,1089 909,1092 910,1089 910,1096 910,1092 910,1071 910,1085 910,1105 910,1082 910,1081 910,1104 910,1102 910,1088 910,1088 910,1098 910,1098 910,1092 910,1110 911,1121 911,1123 911,1090 911,1088 911,1083 911,1090 911,1095 911,1125 912,1120 912,1102 912,1110 912,1088 912,1083 912,1106 913,1104 913,1100 913,1088 913,1103 913,1092 913,1105 914,1121 914,1094 914,1120 914,1125 914,1105 914,1106 915,1093 915,1118 915,1112 915,1106 915,1096 915,1085 916,1104 916,1081 916,1100 916,1103 916,1093 916,1099 916,1081 917,1090 917,1100 917,1084 917,1085 917,1081 917,1095 917,1099 917,1095 917,1084 917,1079 918,1076 918,1098 918,1072 918,1081 918,1080 918,1076 918,1079 918,1066 918,1072 918,1087 918,1075 918,1062 918,1062 918,1086 918,1063 918,1062 918,1062 918,1061 918,1074 919,1061 919,1065 919,1072 919,1061 919,1088 919,1068 919,1093 919,1081 919,1099 919,1089 919,1111 919,1083 919,1074 920,1106 920,1114 920,1108 920,1114 920,1095 920,1086 920,1088 920,1112 921,1102 921,1111 921,1102 921,1104 921,1101 921,1096 922,1076 922,1104 922,1088 922,1078 922,1088 922,1071 923,1080 923,1085 923,1087 923,1077 923,1078 924,1075 924,1087 924,1071 924,1078 924,1075 924,1075 925,1070 925,1072 925,1068 925,1056 925,1076 925,1058 925,1060 926,1071 926,1067 926,1058 926,1075 926,1058 926,1054 926,1066 926,1067 926,1050 926,1047 926,1052 927,1066 927,1055 927,1061 927,1052 927,1069 927,1066 927,1071 927,1056 927,1053 927,1057 927,1046 927,1070 927,1061 927,1046 927,1050 927,1051 927,1054 927,1080 927,1070 928,1071 928,1081 928,1088 928,1061 928,1070 928,1077 928,1080 928,1063 928,1074 928,1069 928,1076 928,1055 928,1067 929,1062 929,1090 929,1063 929,1070 929,1063 929,1089 929,1063 929,1086 930,1054 930,1074 930,1070 930,1081 930,1075 930,1072 931,1068 931,1076 931,1078 931,1068 931,1089 931,1079 932,1070 932,1079 932,1079 932,1078 932,1094 932,1083 933,1096 933,1084 933,1080 933,1088 933,1088 933,1074 934,1059 934,1061 934,1070 934,1083 934,1074 934,1059 934,1069 935,1063 935,1086 935,1070 935,1090 935,1083 935,1073 935,1081 935,1085 936,1083 936,1063 936,1078 936,1076 936,1079 936,1084 936,1065 936,1074 936,1093 936,1098 936,1081 936,1086 936,1097 936,1082 936,1080 936,1089 937,1086 937,1086 937,1097 937,1081 937,1058 937,1068 937,1079 937,1077 937,1090 937,1080 937,1085 937,1056 937,1091 937,1098 937,1081 937,1068 937,1091 938,1081 938,1097 938,1074 938,1096 938,1071 938,1064 938,1078 938,1089 938,1076 939,1084 939,1084 939,1066 939,1064 939,1079 939,1044 939,1061 940,1069 940,1046 940,1054 940,1051 940,1059 940,1065 941,1071 941,1083 941,1055 941,1052 941,1064 942,1054 942,1079 942,1053 942,1062 942,1053 942,1064 943,1062 943,1082 943,1071 943,1063 943,1091 943,1092 943,1083 944,1073 944,1090 944,1077 944,1094 944,1078 944,1072 944,1070 944,1087 944,1067 945,1069 945,1087 945,1094 945,1061 945,1070 945,1071 945,1062 945,1067 945,1054 945,1063 945,1065 945,1080 945,1064 945,1062 945,1080 945,1068 945,1063 946,1074 946,1081 946,1079 946,1071 946,1080 946,1082 946,1058 946,1079 946,1068 946,1058 946,1063 946,1074 946,1075 946,1054 946,1089 946,1069 947,1053 947,1067 947,1058 947,1059 947,1048 947,1066 947,1056 947,1069 948,1064 948,1076 948,1072 948,1069 948,1075 948,1094 949,1093 949,1060 949,1092 949,1072 949,1085 949,1078 950,1061 950,1057 950,1085 950,1066 950,1089 951,1087 951,1098 951,1068 951,1067 951,1095 951,1102 952,1088 952,1077 952,1085 952,1093 952,1093 952,1100 952,1076 953,1087 953,1100 953,1086 953,1095 953,1099 953,1084 953,1100 953,1074 953,1075 953,1097 954,1084 954,1070 954,1085 954,1071 954,1079 954,1095 954,1073 954,1087 954,1057 954,1061 954,1086 954,1079 954,1097 954,1083 954,1065 954,1079 954,1073 954,1068 954,1086 954,1074 955,1070 955,1079 955,1078 955,1110 955,1073 955,1099 955,1105 955,1085 955,1092 955,1070 955,1075 955,1086 955,1074 956,1077 956,1083 956,1094 956,1088 956,1072 956,1070 956,1088 957,1065 957,1058 957,1055 957,1068 957,1076 957,1071 958,1072 958,1083 958,1085 958,1080 958,1077 959,1044 959,1061 959,1073 959,1068 959,1076 959,1045 960,1058 960,1058 960,1048 960,1059 960,1057 960,1059 961,1045 961,1051 961,1054 961,1049 961,1066 961,1048 961,1068 961,1068 962,1071 962,1058 962,1053 962,1059 962,1062 962,1064 962,1053 962,1054 962,1054 962,1067 962,1071 962,1068 962,1071 962,1045 963,1048 963,1040 963,1055 963,1051 963,1066 963,1042 963,1052 963,1067 963,1046 963,1058 963,1046 963,1061 963,1052 963,1043 963,1051 963,1046 963,1061 963,1049 963,1047 964,1067 964,1063 964,1064 964,1045 964,1056 964,1054 964,1050 964,1074 964,1059 965,1048 965,1055 965,1075 965,1064 965,1079 965,1048 965,1051 966,1050 966,1046 966,1045 966,1042 966,1063 966,1059 967,1058 967,1051 967,1051 967,1047 967,1050 968,1066 968,1042 968,1055 968,1072 968,1071 968,1078 969,1058 969,1073 969,1060 969,1053 969,1062 969,1072 969,1063 970,1062 970,1059 970,1055 970,1055 970,1052 970,1059 970,1056 970,1070 970,1068 971,1054 971,1060 971,1073 971,1069 971,1068 971,1062 971,1063 971,1063 971,1048 971,1058 971,1071 971,1064 971,1046 971,1046 971,1061 971,1064 971,1049 971,1049 972,1072 972,1055 972,1049 972,1055 972,1050 972,1069 972,1069 972,1071 972,1050 972,1058 972,1071 972,1071 972,1073 972,1058 972,1069 973,1073 973,1069 973,1080 973,1075 973,1070 973,1079 973,1074 973,1089 974,1071 974,1083 974,1071 974,1070 974,1066 974,1084 975,1065 975,1085 975,1080 975,1080 975,1066 976,1075 976,1067 976,1077 976,1081 976,1085 976,1081 977,1061 977,1068 977,1079 977,1083 977,1087 977,1071 978,1066 978,1080 978,1077 978,1078 978,1071 978,1084 978,1079 979,1084 979,1083 979,1079 979,1079 979,1080 979,1086 979,1080 979,1077 979,1081 979,1083 980,1081 980,1081 980,1077 980,1078 980,1078 980,1097 980,1089 980,1080 980,1100 980,1072 980,1087 980,1088 980,1095 980,1089 980,1097 980,1093 980,1100 980,1095 980,1087 981,1102 981,1109 981,1101 981,1093 981,1095 981,1100 981,1094 981,1088 981,1076 981,1107 981,1101 981,1089 981,1087 981,1095 982,1111 982,1100 982,1101 982,1083 982,1083 982,1094 982,1111 982,1110 983,1115 983,1089 983,1100 983,1086 983,1115 983,1084 984,1082 984,1103 984,1099 984,1102 984,1088 984,1112 985,1101 985,1094 985,1117 985,1089 985,1095 986,1099 986,1097 986,1104 986,1112 986,1114 986,1108 986,1112 987,1109 987,1115 987,1111 987,1110 987,1102 987,1112 988,1107 988,1099 988,1100 988,1100 988,1115 988,1108 988,1092 988,1106 988,1088 988,1098 989,1094 989,1112 989,1099 989,1114 989,1101 989,1117 989,1095 989,1091 989,1091 989,1092 989,1090 989,1109 989,1092 989,1096 989,1088 989,1106 989,1108 989,1091 989,1100 989,1125 990,1098 990,1096 990,1114 990,1108 990,1126 990,1097 990,1123 990,1096 990,1100 990,1086 990,1109 990,1095 990,1106 991,1093 991,1092 991,1122 991,1100 991,1095 991,1107 991,1102 991,1088 992,1115 992,1112 992,1101 992,1107 992,1115 992,1109 993,1113 993,1107 993,1120 993,1119 993,1098 994,1090 994,1106 994,1095 994,1097 994,1092 994,1098 995,1085 995,1091 995,1111 995,1095 995,1104 995,1106 996,1085 996,1102 996,1089 996,1084 996,1089 996,1085 996,1098 997,1097 997,1082 997,1095 997,1091 997,1102 997,1085 997,1087 997,1084 997,1085 997,1093 997,1108 997,1090 998,1114 998,1090 998,1077 998,1088 998,1086 998,1104 998,1094 998,1084 998,1098 998,1111 998,1102 998,1093 998,1074 998,1109 998,1100 998,1082 998,1090 998,1090 998,1083 998,1074 999,1097 999,1098 999,1078 999,1077 999,1092 999,1077 999,1102 999,1088 999,1091 999,1083 999,1105 1000,1104 1000,1104 1000,1076 1000,1073 1000,1098 1000,1077 1000,1082 1001,1078 1001,1096 1001,1072 1001,1079 1001,1092 1001,1096 1002,1095 1002,1085 1002,1096 1002,1090 1002,1077 1002,1076 1003,1090 1003,1094 1003,1076 1003,1090 1003,1077 1003,1092 1004,1086 1004,1076 1004,1083 1004,1080 1004,1071 1004,1084 1005,1089 1005,1082 1005,1082 1005,1091 1005,1089 1005,1078 1005,1072 1006,1086 1006,1086 1006,1090 1006,1081 1006,1075 1006,1090 1006,1083 1006,1083 1006,1082 1006,1075 1006,1078 1007,1074 1007,1073 1007,1067 1007,1061 1007,1071 1007,1079 1007,1057 1007,1064 1007,1080 1007,1073 1007,1067 1007,1063 1007,1072 1007,1064 1007,1068 1007,1056 1007,1062 1007,1063 1007,1078 1008,1069 1008,1086 1008,1067 1008,1071 1008,1085 1008,1072 1008,1056 1008,1071 1008,1074 1008,1058 1008,1057 1008,1069 1008,1067 1009,1067 1009,1072 1009,1061 1009,1066 1009,1060 1009,1059 1009,1059 1010,1069 1010,1070 1010,1073 1010,1065 1010,1062 1010,1061 1011,1074 1011,1071 1011,1089 1011,1085 1011,1084 1012,1082 1012,1099 1012,1079 1012,1081 1012,1094 1012,1093 1013,1084 1013,1076 1013,1090 1013,1084 1013,1095 1013,1097 1014,1093 1014,1079 1014,1075 1014,1089 1014,1073 1014,1084 1014,1078 1014,1096 1015,1089 1015,1072 1015,1071 1015,1078 1015,1085 1015,1074 1015,1092 1015,1078 1015,1095 1015,1075 1015,1086 1015,1089 1015,1066 1016,1072 1016,1074 1016,1082 1016,1089 1016,1072 1016,1095 1016,1090 1016,1092 1016,1093 1016,1075 1016,1080 1016,1088 1016,1090 1016,1073 1016,1072 1016,1074 1016,1086 1016,1091 1016,1099 1017,1092 1017,1091 1017,1113 1017,1100 1017,1105 1017,1096 1017,1084 1017,1088 1017,1081 1017,1088 1018,1097 1018,1111 1018,1079 1018,1093 1018,1104 1018,1089 1018,1107 1019,1109 1019,1110 1019,1096 1019,1084 1019,1099 1019,1096 1020,1091 1020,1078 1020,1091 1020,1081 1020,1078 1021,1100 1021,1074 1021,1073 1021,1074 1021,1085 1021,1085 1022,1086 1022,1082 1022,1095 1022,1097 1022,1095 1022,1089 1022,1094 1023,1095 1023,1086 1023,1077 1023,1081 1023,1080 1023,1095 1023,1075 1023,1094 1023,1098 1024,1083 1024,1087 1024,1100 1024,1094 1024,1089 1024,1098 1024,1102 1024,1095 1024,1103 1024,1105 1024,1087 1024,1103 1024,1114 1024,1097 1024,1089 1024,1094 1024,1102 1025,1105 1025,1097 1025,1111 1025,1095 1025,1107 1025,1090 1025,1104 1025,1105 1025,1100 1025,1101 1025,1105 1025,1092 1025,1092 1025,1110 1025,1116 1025,1112 1026,1117 1026,1096 1026,1093 1026,1099 1026,1112 1026,1097 1026,1111 1026,1095 1027,1089 1027,1112 1027,1095 1027,1077 1027,1081 1027,1111 1028,1084 1028,1085 1028,1091 1028,1096 1028,1117 1029,1115 1029,1103 1029,1109 1029,1104 1029,1095 1029,1096 1030,1085 1030,1096 1030,1088 1030,1108 1030,1098 1030,1093 1031,1085 1031,1103 1031,1097 1031,1118 1031,1093 1031,1088 1031,1095 1032,1089 1032,1084 1032,1097 1032,1099 1032,1098 1032,1088 1032,1092 1032,1109 1032,1097 1032,1092 1033,1096 1033,1093 1033,1109 1033,1098 1033,1099 1033,1094 1033,1089 1033,1105 1033,1092 1033,1116 1033,1098 1033,1091 1033,1101 1033,1105 1033,1089 1033,1095 1034,1106 1034,1109 1034,1107 1034,1102 1034,1103 1034,1118 1034,1095 1034,1107 1034,1104 1034,1088 1034,1104 1034,1110 1034,1111 1034,1094 1034,1094 1034,1104 1034,1085 1035,1103 1035,1101 1035,1081 1035,1084 1035,1092 1035,1083 1035,1092 1035,1115 1036,1089 1036,1109 1036,1093 1036,1110 1036,1090 1036,1099 1037,1095 1037,1097 1037,1089 1037,1088 1037,1088 1037,1096 1038,1083 1038,1080 1038,1075 1038,1076 1038,1089 1038,1100 1039,1101 1039,1098 1039,1100 1039,1087 1039,1097 1040,1083 1040,1073 1040,1078 1040,1089 1040,1079 1040,1081 1040,1093 1041,1077 1041,1085 1041,1085 1041,1084 1041,1086 1041,1090 1041,1079 1041,1082 1041,1089 1041,1076 1041,1087 1042,1086 1042,1081 1042,1083 1042,1072 1042,1092 1042,1081 1042,1075 1042,1086 1042,1089 1042,1086 1042,1093 1042,1081 1042,1086 1042,1083 1042,1082 1042,1097 1042,1086 1042,1081 1042,1098 1043,1083 1043,1093 1043,1084 1043,1095 1043,1079 1043,1091 1043,1095 1043,1102 1043,1086 1043,1098 1043,1102 1043,1087 1043,1086 1044,1100 1044,1091 1044,1074 1044,1067 1044,1073 1044,1083 1044,1077 1045,1072 1045,1101 1045,1083 1045,1092 1045,1074 1045,1077 1046,1092 1046,1095 1046,1091 1046,1086 1046,1069 1046,1075 1047,1072 1047,1058 1047,1074 1047,1068 1047,1090 1048,1069 1048,1061 1048,1066 1048,1078 1048,1083 1048,1077 1048,1085 1049,1070 1049,1073 1049,1084 1049,1067 1049,1077 1049,1078 1049,1084 1050,1084 1050,1066 1050,1083 1050,1071 1050,1083 1050,1074 1050,1075 1050,1082 1050,1076 1050,1080 1050,1085 1050,1079 1050,1082 1051,1076 1051,1081 1051,1094 1051,1087 1051,1101 1051,1090 1051,1094 1051,1095 1051,1078 1051,1092 1051,1087 1051,1078 1051,1103 1051,1087 1051,1103 1051,1096 1051,1071 1051,1078 1051,1094 1052,1100 1052,1071 1052,1083 1052,1086 1052,1096 1052,1102 1052,1090 1052,1089 1052,1101 1052,1076 1052,1095 1053,1098 1053,1081 1053,1094 1053,1093 1053,1073 1053,1087 1053,1104 1054,1083 1054,1094 1054,1080 1054,1103 1054,1087 1054,1086 1055,1082 1055,1096 1055,1080 1055,1093 1055,1087 1055,1094 1056,1083 1056,1086 1056,1104 1056,1112 1056,1083 1056,1097 1057,1078 1057,1112 1057,1074 1057,1098 1057,1106 1057,1093 1058,1106 1058,1095 1058,1092 1058,1102 1058,1106 1058,1118 1058,1100 1059,1098 1059,1095 1059,1084 1059,1096 1059,1095 1059,1102 1059,1089 1059,1087 1059,1090 1059,1087 1059,1084 1060,1091 1060,1097 1060,1079 1060,1112 1060,1112 1060,1112 1060,1101 1060,1100 1060,1084 1060,1081 1060,1099 1060,1089 1060,1113 1060,1096 1060,1093 1060,1101 1060,1085 1060,1098 1060,1090 1060,1095 1061,1103 1061,1088 1061,1092 1061,1108 1061,1117 1061,1099 1061,1105 1061,1118 1061,1102 1061,1102 1061,1133 1061,1134 1062,1134 1062,1118 1062,1124 1062,1125 1062,1126 1062,1123 1062,1114 1062,1126 1063,1127 1063,1137 1063,1128 1063,1138 1063,1134 1064,1130 1064,1109 1064,1126 1064,1107 1064,1114 1064,1111 1065,1141 1065,1141 1065,1126 1065,1124 1065,1121 1065,1143 1066,1132 1066,1112 1066,1137 1066,1138 1066,1133 1066,1135 1067,1132 1067,1139 1067,1124 1067,1120 1067,1138 1067,1108 1067,1136 1068,1122 1068,1113 1068,1118 1068,1117 1068,1120 1068,1139 1068,1125 1068,1120 1068,1127 1068,1135 1068,1138 1068,1140 1068,1116 1069,1119 1069,1130 1069,1131 1069,1105 1069,1132 1069,1122 1069,1127 1069,1137 1069,1118 1069,1143 1069,1116 1069,1139 1069,1132 1069,1139 1069,1153 1069,1131 1069,1147 1069,1144 1069,1120 1070,1138 1070,1127 1070,1127 1070,1141 1070,1133 1070,1133 1070,1154 1070,1135 1070,1112 1070,1138 1071,1146 1071,1139 1071,1122 1071,1122 1071,1112 1071,1112 1071,1126 1071,1112 1072,1122 1072,1116 1072,1128 1072,1141 1072,1121 1072,1145 1073,1150 1073,1131 1073,1113 1073,1141 1073,1131 1074,1118 1074,1121 1074,1121 1074,1112 1074,1121 1074,1118 1075,1118 1075,1118 1075,1134 1075,1118 1075,1116 1075,1125 1075,1135 1076,1146 1076,1123 1076,1129 1076,1116 1076,1126 1076,1137 1076,1112 1077,1112 1077,1111 1077,1109 1077,1129 1077,1129 1077,1126 1077,1106 1077,1126 1077,1122 1077,1104 1077,1095 1077,1116 1077,1102 1078,1103 1078,1115 1078,1132 1078,1120 1078,1119 1078,1114 1078,1124 1078,1126 1078,1101 1078,1136 1078,1131 1078,1140 1078,1116 1078,1135 1078,1115 1078,1131 1078,1119 1079,1139 1079,1099 1079,1107 1079,1104 1079,1110 1079,1097 1079,1099 1079,1129 1079,1104 1079,1122 1079,1103 1079,1121 1079,1090 1080,1111 1080,1105 1080,1104 1080,1132 1080,1126 1080,1116 1080,1114 1080,1112 1081,1115 1081,1110 1081,1123 1081,1097 1081,1096 1081,1100 1082,1097 1082,1111 1082,1137 1082,1103 1082,1115 1082,1123 1083,1112 1083,1121 1083,1110 1083,1107 1083,1137 1083,1138 1084,1114 1084,1138 1084,1128 1084,1116 1084,1119 1084,1112 1085,1121 1085,1120 1085,1127 1085,1108 1085,1128 1085,1109 1085,1130 1086,1102 1086,1104 1086,1123 1086,1112 1086,1111 1086,1108 1086,1115 1086,1107 1086,1127 1086,1128 1087,1116 1087,1133 1087,1117 1087,1113 1087,1103 1087,1104 1087,1103 1087,1117 1087,1093 1087,1101 1087,1104 1087,1104 1087,1101 1087,1108 1087,1102 1087,1100 1087,1093 1087,1115 1087,1122 1087,1120 1088,1115 1088,1116 1088,1127 1088,1136 1088,1106 1088,1112 1088,1132 1088,1139 1088,1130 1088,1118 1088,1121 1088,1106 1089,1128 1089,1119 1089,1099 1089,1087 1089,1104 1089,1119 1089,1101 1090,1087 1090,1111 1090,1081 1090,1100 1090,1118 1090,1109 1090,1112 1091,1109 1091,1130 1091,1095 1091,1121 1091,1129 1091,1133 1092,1109 1092,1102 1092,1117 1092,1108 1092,1116 1093,1113 1093,1139 1093,1110 1093,1107 1093,1118 1093,1124 1094,1113 1094,1123 1094,1139 1094,1117 1094,1115 1094,1107 1094,1134 1095,1122 1095,1136 1095,1127 1095,1135 1095,1106 1095,1114 1095,1109 1095,1124 1095,1110 1095,1129 1096,1117 1096,1124 1096,1120 1096,1111 1096,1128 1096,1120 1096,1111 1096,1125 1096,1118 1096,1130 1096,1113 1096,1101 1096,1105 1096,1108 1096,1108 1096,1101 1096,1101 1096,1124 1096,1117 1097,1117 1097,1097 1097,1089 1097,1104 1097,1120 1097,1121 1097,1120 1097,1110 1097,1125 1097,1113 1097,1112 1097,1099 1097,1100 1097,1092 1098,1112 1098,1097 1098,1105 1098,1110 1098,1107 1098,1123 1098,1098 1098,1104 1099,1119 1099,1106 1099,1095 1099,1132 1099,1112 1099,1123 1100,1120 1100,1109 1100,1118 1100,1124 1100,1095 1101,1125 1101,1104 1101,1118 1101,1104 1101,1103 1101,1109 1102,1099 1102,1103 1102,1112 1102,1093 1102,1109 1102,1108 1103,1112 1103,1112 1103,1125 1103,1110 1103,1113 1103,1135 1103,1114 1104,1129 1104,1133 1104,1132 1104,1136 1104,1126 1104,1147 1104,1135 1104,1128 1104,1142 1104,1130 1104,1139 1104,1128 1105,1145 1105,1129 1105,1121 1105,1132 1105,1126 1105,1137 1105,1124 1105,1134 1105,1125 1105,1118 1105,1144 1105,1138 1105,1132 1105,1141 1105,1145 1105,1130 1105,1143 1105,1152 1105,1144 1105,1137 1106,1129 1106,1129 1106,1138 1106,1117 1106,1116 1106,1129 1106,1130 1106,1108 1106,1121 1106,1140 1106,1148 1107,1149 1107,1145 1107,1149 1107,1143 1107,1140 1107,1154 1108,1122 1108,1154 1108,1157 1108,1153 1108,1154 1108,1149 1109,1160 1109,1137 1109,1154 1109,1136 1109,1145 1109,1127 1110,1114 1110,1129 1110,1149 1110,1118 1110,1123 1110,1118 1111,1164 1111,1145 1111,1149 1111,1117 1111,1125 1111,1147 1111,1138 1112,1133 1112,1176 1112,1146 1112,1169 1112,1144 1112,1124 1112,1130 1113,1133 1113,1148 1113,1145 1113,1162 1113,1146 1113,1135 1113,1144 1113,1137 1113,1131 1113,1132 1113,1145 1114,1148 1114,1151 1114,1148 1114,1131 1114,1156 1114,1150 1114,1162 1114,1149 1114,1148 1114,1147 1114,1135 1114,1156 1114,1149 1114,1132 1114,1140 1114,1138 1114,1138 1114,1125 1114,1135 1114,1130 1115,1155 1115,1150 1115,1157 1115,1158 1115,1152 1115,1155 1115,1118 1115,1135 1115,1158 1115,1150 1115,1145 1115,1147 1116,1110 1116,1147 1116,1132 1116,1150 1116,1130 1116,1154 1116,1131 1117,1135 1117,1120 1117,1147 1117,1142 1117,1125 1117,1129 1118,1149 1118,1122 1118,1123 1118,1134 1118,1108 1118,1131 1119,1129 1119,1118 1119,1115 1119,1098 1119,1114 1120,1129 1120,1140 1120,1135 1120,1107 1120,1098 1120,1135 1120,1135 1121,1102 1121,1097 1121,1099 1121,1110 1121,1107 1121,1118 1121,1122 1122,1128 1122,1139 1122,1122 1122,1131 1122,1117 1122,1124 1122,1135 1122,1126 1122,1120 1122,1133 1122,1127 1123,1149 1123,1136 1123,1150 1123,1143 1123,1129 1123,1127 1123,1141 1123,1134 1123,1147 1123,1141 1123,1131 1123,1121 1123,1153 1123,1155 1123,1151 1123,1140 1123,1123 1123,1129 1124,1133 1124,1136 1124,1115 1124,1128 1124,1109 1124,1137 1124,1129 1124,1130 1124,1119 1124,1127 1124,1128 1124,1146 1124,1145 1124,1126 1125,1121 1125,1110 1125,1117 1125,1119 1125,1137 1125,1103 1125,1107 1125,1138 1126,1123 1126,1114 1126,1138 1126,1115 1126,1115 1126,1142 1126,1119 1127,1116 1127,1150 1127,1139 1127,1124 1127,1123 1127,1151 1128,1139 1128,1123 1128,1136 1128,1146 1128,1141 1129,1152 1129,1125 1129,1135 1129,1132 1129,1145 1129,1111 1130,1140 1130,1111 1130,1139 1130,1131 1130,1139 1130,1133 1130,1139 1131,1130 1131,1129 1131,1121 1131,1121 1131,1135 1131,1135 1131,1151 1131,1140 1131,1132 1132,1139 1132,1140 1132,1142 1132,1125 1132,1131 1132,1141 1132,1115 1132,1122 1132,1153 1132,1131 1132,1133 1132,1141 1132,1122 1132,1141 1132,1133 1132,1136 1132,1130 1132,1116 1132,1129 1132,1113 1133,1105 1133,1115 1133,1108 1133,1114 1133,1110 1133,1123 1133,1141 1133,1124 1133,1133 1133,1142 1133,1149 1133,1145 1133,1145 1134,1149 1134,1162 1134,1135 1134,1162 1134,1144 1134,1154 1134,1163 1134,1130 1135,1160 1135,1164 1135,1143 1135,1163 1135,1145 1135,1139 1136,1152 1136,1165 1136,1160 1136,1139 1136,1149 1136,1165 1137,1167 1137,1153 1137,1167 1137,1135 1137,1132 1137,1134 1138,1141 1138,1148 1138,1135 1138,1152 1138,1123 1139,1129 1139,1146 1139,1153 1139,1140 1139,1125 1139,1121 1139,1128 1140,1111 1140,1156 1140,1130 1140,1162 1140,1143 1140,1135 1140,1136 1140,1134 1140,1132 1140,1159 1140,1128 1141,1129 1141,1118 1141,1137 1141,1140 1141,1152 1141,1129 1141,1134 1141,1144 1141,1137 1141,1128 1141,1151 1141,1149 1141,1142 1141,1144 1141,1147 1141,1137 1141,1130 1141,1146 1141,1133 1142,1120 1142,1126 1142,1147 1142,1129 1142,1158 1142,1135 1142,1153 1142,1131 1142,1145 1142,1128 1142,1148 1142,1145 1142,1133 1143,1139 1143,1141 1143,1152 1143,1121 1143,1131 1143,1174 1143,1165 1143,1156 1144,1149 1144,1149 1144,1143 1144,1161 1144,1134 1144,1135 1145,1117 1145,1152 1145,1130 1145,1118 1145,1160 1145,1144 1146,1128 1146,1161 1146,1171 1146,1177 1146,1141 1146,1169 1147,1167 1147,1150 1147,1176 1147,1142 1147,1165 1148,1167 1148,1168 1148,1164 1148,1166 1148,1173 1148,1159 1148,1191 1149,1170 1149,1163 1149,1183 1149,1158 1149,1152 1149,1156 1149,1184 1149,1176 1149,1148 1149,1167 1149,1186 1149,1167 1150,1179 1150,1145 1150,1189 1150,1152 1150,1156 1150,1169 1150,1178 1150,1162 1150,1175 1150,1159 1150,1176 1150,1156 1150,1183 1150,1165 1150,1181 1150,1172 1150,1162 1150,1189 1150,1156 1150,1167 1151,1192 1151,1181 1151,1186 1151,1160 1151,1167 1151,1174 1151,1167 1151,1188 1151,1173 1151,1172 1151,1156 1152,1171 1152,1175 1152,1152 1152,1184 1152,1166 1152,1163 1152,1163 1152,1124 1153,1154 1153,1115 1153,1150 1153,1146 1153,1131 1153,1139 1154,1148 1154,1138 1154,1156 1154,1151 1154,1147 1155,1137 1155,1136 1155,1125 1155,1135 1155,1150 1155,1116 1156,1142 1156,1132 1156,1109 1156,1109 1156,1142 1156,1131 1157,1126 1157,1141 1157,1137 1157,1129 1157,1124 1157,1111 1157,1127 1158,1115 1158,1128 1158,1136 1158,1117 1158,1104 1158,1123 1158,1129 1158,1129 1158,1105 1158,1114 1158,1121 1158,1120 1159,1120 1159,1111 1159,1116 1159,1108 1159,1108 1159,1110 1159,1125 1159,1104 1159,1110 1159,1105 1159,1115 1159,1122 1159,1119 1159,1115 1159,1105 1159,1131 1159,1129 1159,1127 1159,1116 1159,1118 1159,1111 1160,1117 1160,1113 1160,1118 1160,1101 1160,1112 1160,1118 1160,1124 1160,1126 1160,1106 1161,1116 1161,1118 1161,1122 1161,1124 1161,1096 1161,1108 1161,1112 1162,1109 1162,1095 1162,1100 1162,1106 1162,1092 1162,1101 1162,1090 1163,1109 1163,1096 1163,1101 1163,1088 1163,1095 1164,1101 1164,1104 1164,1087 1164,1098 1164,1097 1164,1080 1165,1088 1165,1094 1165,1075 1165,1071 1165,1085 1165,1079 1165,1072 1166,1073 1166,1086 1166,1091 1166,1089 1166,1091 1166,1092 1166,1074 1167,1088 1167,1073 1167,1091 1167,1073 1167,1072 1167,1074 1167,1083 1167,1073 1167,1090 1167,1079 1167,1080 1167,1087 1168,1067 1168,1077 1168,1091 1168,1087 1168,1094 1168,1084 1168,1076 1168,1091 1168,1094 1168,1086 1168,1093 1168,1077 1168,1079 1168,1092 1168,1088 1168,1079 1168,1071 1168,1075 1168,1079 1168,1097 1169,1089 1169,1098 1169,1103 1169,1104 1169,1104 1169,1098 1169,1086 1169,1084 1169,1078 1169,1082 1169,1099 1170,1092 1170,1099 1170,1088 1170,1079 1170,1091 1170,1072 1170,1084 1171,1075 1171,1083 1171,1081 1171,1091 1171,1072 1171,1073 1172,1066 1172,1087 1172,1078 1172,1092 1172,1096 1172,1079 1173,1101 1173,1090 1173,1071 1173,1103 1173,1100 1173,1090 1174,1084 1174,1095 1174,1089 1174,1098 1174,1110 1174,1075 1175,1087 1175,1086 1175,1114 1175,1113 1175,1089 1175,1071 1175,1089 1176,1080 1176,1087 1176,1093 1176,1071 1176,1079 1176,1102 1176,1072 1176,1072 1176,1080 1176,1091 1176,1092 1176,1082 1177,1083 1177,1103 1177,1098 1177,1089 1177,1083 1177,1100 1177,1098 1177,1103 1177,1096 1177,1109 1177,1091 1177,1101 1177,1091 1177,1109 1177,1081 1177,1090 1177,1101 1177,1100 1177,1101 1177,1088 1178,1085 1178,1094 1178,1064 1178,1100 1178,1074 1178,1070 1178,1089 1178,1102 1178,1087 1178,1084 1178,1100 1179,1061 1179,1075 1179,1081 1179,1060 1179,1073 1179,1092 1179,1078 1180,1071 1180,1088 1180,1072 1180,1100 1180,1114 1181,1112 1181,1092 1181,1130 1181,1105 1181,1091 1181,1089 1182,1099 1182,1107 1182,1133 1182,1100 1182,1115 1182,1099 1183,1093 1183,1134 1183,1098 1183,1094 1183,1124 1183,1130 1184,1101 1184,1081 1184,1084 1184,1091 1184,1121 1184,1134 1184,1104 1184,1088 1185,1106 1185,1109 1185,1100 1185,1101 1185,1086 1185,1124 1185,1105 1185,1121 1185,1116 1185,1101 1185,1109 1185,1117 1185,1128 1185,1132 1185,1111 1185,1132 1185,1115 1186,1124 1186,1123 1186,1115 1186,1135 1186,1125 1186,1119 1186,1126 1186,1117 1186,1120 1186,1121 1186,1111 1186,1111 1186,1097 1186,1106 1186,1108 1186,1106 1187,1107 1187,1130 1187,1099 1187,1114 1187,1110 1187,1131 1187,1108 1187,1112 1187,1112 1188,1127 1188,1115 1188,1105 1188,1111 1188,1137 1188,1113 1188,1134 1189,1128 1189,1122 1189,1108 1189,1094 1189,1112 1189,1123 1189,1106 1190,1110 1190,1094 1190,1115 1190,1104 1190,1106 1191,1122 1191,1114 1191,1128 1191,1102 1191,1117 1191,1109 1192,1087 1192,1114 1192,1096 1192,1101 1192,1095 1192,1085 1192,1096 1193,1089 1193,1095 1193,1117 1193,1107 1193,1097 1193,1091 1193,1117 1194,1110 1194,1111 1194,1102 1194,1114 1194,1098 1194,1106 1194,1100 1194,1093 1194,1104 1194,1109 1195,1094 1195,1120 1195,1102 1195,1108 1195,1116 1195,1103 1195,1093 1195,1118 1195,1105 1195,1100 1195,1109 1195,1107 1195,1092 1195,1104 1195,1092 1195,1096 1195,1090 1195,1108 1195,1110 1196,1096 1196,1092 1196,1093 1196,1087 1196,1078 1196,1075 1196,1090 1196,1079 1196,1071 1196,1080 1196,1097 1196,1084 1196,1080 1196,1096 1197,1088 1197,1085 1197,1088 1197,1102 1197,1092 1197,1102 1197,1101 1197,1104 1198,1081 1198,1092 1198,1096 1198,1077 1198,1086 1198,1093 1198,1089 1199,1079 1199,1088 1199,1092 1199,1107 1199,1071 1200,1093 1200,1103 1200,1074 1200,1084 1200,1091 1200,1078 1201,1082 1201,1085 1201,1093 1201,1088 1201,1068 1201,1080 1202,1067 1202,1065 1202,1082 1202,1078 1202,1090 1202,1074 1202,1084 1203,1092 1203,1066 1203,1082 1203,1080 1203,1067 1203,1076 1203,1091 1203,1071 1203,1080 1204,1079 1204,1092 1204,1093 1204,1090 1204,1077 1204,1075 1204,1072 1204,1076 1204,1061 1204,1070 1204,1067 1204,1085 1204,1075 1204,1078 1204,1081 1204,1068 1204,1058 1204,1057 1205,1059 1205,1081 1205,1063 1205,1070 1205,1066 1205,1087 1205,1088 1205,1065 1205,1069 1205,1063 1205,1080 1205,1074 1205,1059 1205,1060 1205,1069 1206,1067 1206,1071 1206,1067 1206,1052 1206,1053 1206,1061 1206,1053 1206,1064 1207,1054 1207,1058 1207,1075 1207,1065 1207,1076 1207,1076 1207,1079 1208,1088 1208,1075 1208,1060 1208,1079 1208,1064 1208,1073 1209,1057 1209,1070 1209,1054 1209,1077 1209,1063 1209,1084 1210,1083 1210,1072 1210,1083 1210,1072 1210,1054 1210,1069 1211,1053 1211,1057 1211,1082 1211,1086 1211,1075 1211,1078 1212,1081 1212,1072 1212,1070 1212,1068 1212,1072 1212,1078 1212,1062 1212,1062 1213,1070 1213,1059 1213,1075 1213,1069 1213,1076 1213,1081 1213,1079 1213,1080 1213,1064 1213,1074 1213,1065 1213,1068 1213,1080 1213,1085 1213,1085 1214,1071 1214,1078 1214,1073 1214,1074 1214,1068 1214,1073 1214,1082 1214,1077 1214,1065 1214,1072 1214,1061 1214,1068 1214,1078 1214,1081 1214,1076 1214,1086 1214,1082 1214,1076 1215,1095 1215,1093 1215,1100 1215,1081 1215,1078 1215,1088 1215,1094 1215,1074 1215,1072 1216,1100 1216,1098 1216,1079 1216,1069 1216,1064 1216,1077 1216,1065 1217,1070 1217,1098 1217,1074 1217,1076 1217,1072 1217,1090 1218,1097 1218,1085 1218,1093 1218,1074 1218,1075 1218,1072 1219,1098 1219,1105 1219,1106 1219,1103 1219,1110 1219,1116 1220,1119 1220,1120 1220,1090 1220,1111 1220,1096 1220,1091 1221,1097 1221,1094 1221,1077 1221,1085 1221,1094 1221,1104 1221,1089 1221,1091 1222,1100 1222,1080 1222,1086 1222,1108 1222,1104 1222,1093 1222,1099 1222,1101 1222,1087 1222,1095 1222,1088 1222,1098 1222,1093 1222,1094 1222,1108 1222,1101 1222,1108 1223,1103 1223,1088 1223,1117 1223,1101 1223,1121 1223,1120 1223,1099 1223,1109 1223,1123 1223,1112 1223,1086 1223,1106 1223,1106 1223,1110 1223,1091 1223,1116 1223,1100 1224,1108 1224,1101 1224,1097 1224,1079 1224,1088 1224,1095 1224,1102 1224,1113 1225,1118 1225,1109 1225,1122 1225,1107 1225,1095 1225,1121 1225,1122 1226,1106 1226,1126 1226,1109 1226,1116 1226,1121 1227,1118 1227,1103 1227,1117 1227,1124 1227,1138 1227,1128 1228,1126 1228,1123 1228,1115 1228,1127 1228,1136 1228,1111 1229,1112 1229,1124 1229,1124 1229,1140 1229,1142 1229,1139 1229,1142 1230,1131 1230,1138 1230,1118 1230,1140 1230,1137 1230,1130 1230,1115 1230,1122 1230,1136 1231,1119 1231,1139 1231,1136 1231,1137 1231,1136 1231,1134 1231,1124 1231,1125 1231,1119 1231,1109 1231,1127 1231,1121 1231,1109 1231,1114 1231,1123 1231,1112 1231,1112 1232,1116 1232,1115 1232,1119 1232,1123 1232,1129 1232,1106 1232,1114 1232,1121 1232,1118 1232,1128 1232,1108 1232,1118 1232,1104 1232,1125 1232,1131 1233,1124 1233,1110 1233,1131 1233,1109 1233,1124 1233,1112 1233,1100 1233,1118 1233,1101 1234,1114 1234,1103 1234,1117 1234,1107 1234,1084 1234,1100 1234,1104 1235,1103 1235,1110 1235,1117 1235,1091 1235,1105 1235,1092 1236,1093 1236,1113 1236,1112 1236,1089 1236,1093 1236,1091 1237,1096 1237,1099 1237,1091 1237,1100 1237,1090 1237,1090 1238,1083 1238,1094 1238,1090 1238,1100 1238,1111 1238,1096 1239,1093 1239,1102 1239,1096 1239,1103 1239,1103 1239,1096 1239,1102 1239,1095 1240,1098 1240,1095 1240,1094 1240,1094 1240,1085 1240,1101 1240,1105 1240,1086 1240,1100 1240,1098 1240,1091 1240,1087 1240,1086 1240,1100 1240,1098 1240,1096 1240,1108 1241,1095 1241,1101 1241,1110 1241,1100 1241,1107 1241,1099 1241,1105 1241,1103 1241,1108 1241,1109 1241,1108 1241,1100 1241,1108 1241,1101 1241,1107 1241,1101 1242,1092 1242,1087 1242,1082 1242,1090 1242,1084 1242,1089 1242,1085 1242,1076 1242,1075 1243,1072 1243,1080 1243,1081 1243,1078 1243,1072 1243,1090 1243,1095 1244,1085 1244,1087 1244,1082 1244,1083 1244,1077 1245,1070 1245,1080 1245,1065 1245,1074 1245,1061 1245,1080 1246,1064 1246,1063 1246,1065 1246,1076 1246,1079 1246,1082 1247,1074 1247,1072 1247,1079 1247,1084 1247,1058 1247,1073 1247,1054 1248,1058 1248,1067 1248,1054 1248,1052 1248,1054 1248,1062 1248,1058 1248,1056 1249,1079 1249,1062 1249,1062 1249,1061 1249,1054 1249,1055 1249,1065 1249,1066 1249,1047 1249,1067 1249,1060 1249,1050 1249,1058 1249,1055 1250,1044 1250,1037 1250,1059 1250,1042 1250,1050 1250,1058 1250,1054 1250,1058 1250,1047 1250,1064 1250,1048 1250,1045 1250,1042 1250,1044 1250,1053 1250,1065 1250,1037 1250,1062 1251,1048 1251,1053 1251,1066 1251,1062 1251,1040 1251,1041 1251,1038 1251,1056 1251,1062 1251,1042 1252,1036 1252,1036 1252,1036 1252,1061 1252,1064 1252,1050 1252,1037 1253,1035 1253,1041 1253,1044 1253,1057 1253,1065 1253,1048 1254,1072 1254,1040 1254,1070 1254,1083 1254,1089 1254,1078 1255,1092 1255,1061 1255,1079 1255,1065 1255,1072 1256,1061 1256,1081 1256,1071 1256,1078 1256,1078 1256,1064 1256,1080 1257,1067 1257,1073 1257,1072 1257,1080 1257,1063 1257,1060 1257,1068 1257,1054 1258,1051 1258,1072 1258,1042 1258,1067 1258,1051 1258,1067 1258,1049 1258,1052 1258,1046 1258,1069 1258,1065 1258,1056 1258,1073 1258,1077 1258,1059 1259,1055 1259,1063 1259,1063 1259,1093 1259,1090 1259,1076 1259,1072 1259,1089 1259,1053 1259,1090 1259,1075 1259,1072 1259,1082 1259,1088 1259,1079 1259,1060 1259,1085 1260,1076 1260,1097 1260,1095 1260,1077 1260,1071 1260,1089 1260,1065 1260,1076 1260,1045 1260,1072 1260,1068 1261,1066 1261,1089 1261,1060 1261,1092 1261,1089 1261,1089 1261,1086 1262,1086 1262,1075 1262,1059 1262,1071 1262,1106 1262,1088 1263,1081 1263,1102 1263,1094 1263,1088 1263,1100 1263,1106 1264,1091 1264,1094 1264,1081 1264,1093 1264,1095 1265,1085 1265,1096 1265,1083 1265,1113 1265,1093 1265,1089 1266,1114 1266,1107 1266,1092 1266,1096 1266,1117 1266,1093 1266,1107 1266,1095 1267,1097 1267,1107 1267,1109 1267,1119 1267,1110 1267,1112 1267,1112 1267,1106 1267,1114 1267,1128 1267,1116 1267,1128 1267,1121 1267,1124 1268,1123 1268,1113 1268,1115 1268,1124 1268,1110 1268,1108 1268,1118 1268,1135 1268,1120 1268,1132 1268,1114 1268,1111 1268,1133 1268,1125 1268,1131 1268,1120 1268,1106 1268,1132 1269,1128 1269,1125 1269,1124 1269,1142 1269,1133 1269,1136 1269,1132 1269,1134 1269,1134 1269,1133 1269,1137 1270,1133 1270,1137 1270,1133 1270,1121 1270,1116 1270,1134 1271,1125 1271,1122 1271,1131 1271,1121 1271,1117 1271,1120 1271,1100 1272,1104 1272,1095 1272,1113 1272,1108 1272,1100 1272,1107 1273,1113 1273,1095 1273,1096 1273,1092 1273,1084 1274,1085 1274,1089 1274,1081 1274,1086 1274,1081 1274,1074 1274,1083 1275,1090 1275,1084 1275,1084 1275,1090 1275,1075 1275,1092 1275,1074 1276,1087 1276,1070 1276,1078 1276,1075 1276,1055 1276,1057 1276,1077 1276,1065 1276,1069 1276,1060 1276,1071 1276,1083 1276,1085 1277,1068 1277,1067 1277,1059 1277,1076 1277,1078 1277,1089 1277,1091 1277,1091 1277,1073 1277,1078 1277,1088 1277,1090 1277,1072 1277,1093 1277,1066 1277,1057 1277,1081 1277,1063 1277,1063 1278,1077 1278,1061 1278,1056 1278,1056 1278,1061 1278,1063 1278,1082 1278,1062 1278,1048 1278,1071 1278,1088 1279,1060 1279,1077 1279,1061 1279,1082 1279,1087 1279,1064 1279,1086 1280,1067 1280,1074 1280,1060 1280,1055 1280,1064 1280,1070 1281,1079 1281,1072 1281,1059 1281,1052 1281,1074 1282,1049 1282,1043 1282,1067 1282,1049 1282,1046 1282,1055 1283,1063 1283,1055 1283,1058 1283,1049 1283,1046 1283,1059 1283,1051 1284,1062 1284,1072 1284,1068 1284,1053 1284,1047 1284,1061 1284,1040 1285,1035 1285,1039 1285,1040 1285,1050 1285,1053 1285,1047 1285,1055 1285,1044 1285,1044 1285,1030 1285,1051 1285,1043 1285,1023 1286,1044 1286,1036 1286,1032 1286,1041 1286,1049 1286,1040 1286,1028 1286,1028 1286,1022 1286,1039 1286,1044 1286,1040 1286,1032 1286,1055 1286,1047 1286,1027 1286,1044 1286,1052 1287,1037 1287,1064 1287,1072 1287,1063 1287,1061 1287,1073 1287,1055 1287,1066 1287,1062 1287,1051 1287,1062 1287,1074 1288,1046 1288,1062 1288,1059 1288,1076 1288,1076 1288,1077 1288,1071 1289,1075 1289,1060 1289,1059 1289,1057 1289,1063 1289,1036 1289,1044 1290,1048 1290,1062 1290,1041 1290,1038 1290,1062 1290,1036 1291,1039 1291,1052 1291,1050 1291,1049 1291,1076 1291,1065 1292,1066 1292,1069 1292,1056 1292,1066 1292,1061 1292,1070 1293,1043 1293,1046 1293,1060 1293,1050 1293,1058 1293,1056 1294,1062 1294,1061 1294,1072 1294,1053 1294,1064 1294,1069 1294,1057 1294,1057 1294,1074 1294,1054 1294,1066 1295,1063 1295,1068 1295,1061 1295,1070 1295,1077 1295,1071 1295,1068 1295,1056 1295,1080 1295,1067 1295,1070 1295,1075 1295,1071 1295,1056 1295,1060 1295,1045 1295,1065 1295,1078 1296,1069 1296,1082 1296,1048 1296,1059 1296,1041 1296,1043 1296,1051 1296,1057 1296,1046 1296,1048 1296,1048 1296,1062 1296,1060 1296,1069 1297,1090 1297,1083 1297,1057 1297,1051 1297,1049 1297,1078 1297,1078 1297,1091 1298,1089 1298,1095 1298,1071 1298,1071 1298,1072 1298,1068 1299,1067 1299,1095 1299,1073 1299,1097 1299,1092 1299,1075 1300,1057 1300,1079 1300,1058 1300,1087 1300,1081 1301,1091 1301,1095 1301,1087 1301,1070 1301,1064 1301,1094 1302,1083 1302,1091 1302,1069 1302,1088 1302,1069 1302,1067 1302,1090 1303,1069 1303,1096 1303,1075 1303,1087 1303,1089 1303,1074 1303,1088 1303,1061 1303,1074 1303,1058 1304,1083 1304,1060 1304,1083 1304,1090 1304,1087 1304,1085 1304,1088 1304,1082 1304,1087 1304,1095 1304,1102 1304,1085 1304,1095 1304,1065 1304,1069 1304,1088 1304,1059 1304,1059 1304,1072 1305,1093 1305,1071 1305,1087 1305,1065 1305,1088 1305,1096 1305,1099 1305,1082 1305,1094 1305,1089 1305,1066 1305,1087 1305,1090 1305,1062 1306,1088 1306,1083 1306,1073 1306,1095 1306,1062 1306,1095 1306,1074 1306,1087 1307,1086 1307,1070 1307,1102 1307,1099 1307,1099 1307,1104 1307,1107 1308,1109 1308,1094 1308,1088 1308,1083 1308,1081 1308,1107 1309,1099 1309,1090 1309,1089 1309,1070 1309,1089 1310,1079 1310,1083 1310,1083 1310,1099 1310,1105 1310,1099 1311,1088 1311,1110 1311,1093 1311,1104 1311,1088 1311,1098 1311,1101 1312,1103 1312,1098 1312,1094 1312,1076 1312,1099 1312,1082 1312,1102 1312,1103 1312,1099 1313,1097 1313,1101 1313,1101 1313,1110 1313,1096 1313,1089 1313,1093 1313,1109 1313,1106 1313,1102 1313,1106 1313,1109 1313,1083 1313,1090 1313,1107 1314,1106 1314,1108 1314,1108 1314,1095 1314,1092 1314,1104 1314,1107 1314,1086 1314,1105 1314,1091 1314,1091 1314,1097 1314,1076 1314,1072 1314,1082 1314,1061 1314,1067 1315,1080 1315,1096 1315,1072 1315,1071 1315,1068 1315,1084 1315,1068 1315,1092 1315,1092 1316,1077 1316,1082 1316,1076 1316,1084 1316,1091 1316,1098 1316,1084 1316,1064 1317,1064 1317,1079 1317,1080 1317,1063 1317,1087 1317,1087 1318,1079 1318,1076 1318,1064 1318,1075 1318,1060 1318,1070 1319,1057 1319,1062 1319,1076 1319,1056 1319,1079 1320,1064 1320,1078 1320,1075 1320,1057 1320,1079 1320,1053 1321,1060 1321,1073 1321,1075 1321,1053 1321,1070 1321,1075 1321,1062 1321,1062 1322,1071 1322,1056 1322,1045 1322,1065 1322,1055 1322,1059 1322,1061 1322,1074 1322,1044 1322,1057 1322,1063 1322,1045 1322,1054 1322,1069 1322,1048 1323,1041 1323,1066 1323,1051 1323,1063 1323,1055 1323,1049 1323,1081 1323,1087 1323,1094 1323,1068 1323,1070 1323,1075 1323,1049 1323,1072 1323,1036 1323,1047 1323,1070 1324,1052 1324,1043 1324,1049 1324,1053 1324,1048 1324,1072 1324,1058 1324,1069 1324,1070 1324,1060 1324,1047 1325,1064 1325,1038 1325,1055 1325,1045 1325,1047 1325,1035 1325,1046 1326,1063 1326,1063 1326,1055 1326,1069 1326,1047 1326,1056 1327,1059 1327,1052 1327,1063 1327,1078 1327,1067 1327,1067 1328,1076 1328,1062 1328,1071 1328,1072 1328,1066 1328,1086 1329,1084 1329,1076 1329,1087 1329,1077 1329,1086 1329,1059 1330,1058 1330,1071 1330,1064 1330,1058 1330,1079 1330,1065 1330,1080 1331,1069 1331,1063 1331,1072 1331,1062 1331,1068 1331,1067 1331,1040 1331,1060 1331,1072 1331,1073 1331,1067 1332,1073 1332,1060 1332,1049 1332,1049 1332,1044 1332,1070 1332,1049 1332,1045 1332,1054 1332,1043 1332,1069 1332,1037 1332,1054 1332,1040 1332,1048 1332,1046 1332,1043 1332,1051 1332,1038 1332,1045 1332,1066 1333,1066 1333,1079 1333,1066 1333,1046 1333,1087 1333,1090 1333,1052 1333,1054 1333,1064 1333,1080 1333,1069 1334,1070 1334,1072 1334,1085 1334,1094 1334,1099 1334,1065 1334,1089 1335,1078 1335,1082 1335,1089 1335,1081 1335,1097 1336,1075 1336,1070 1336,1071 1336,1080 1336,1068 1336,1093 1337,1094 1337,1089 1337,1077 1337,1080 1337,1087 1337,1082 1338,1080 1338,1094 1338,1081 1338,1093 1338,1091 1338,1071 1339,1090 1339,1076 1339,1074 1339,1086 1339,1065 1339,1064 1339,1076 1339,1068 1340,1080 1340,1084 1340,1062 1340,1062 1340,1077 1340,1062 1340,1088 1340,1093 1340,1085 1340,1069 1340,1064 1340,1100 1340,1085 1341,1086 1341,1095 1341,1068 1341,1073 1341,1068 1341,1070 1341,1094 1341,1088 1341,1086 1341,1080 1341,1066 1341,1091 1341,1066 1341,1078 1341,1073 1341,1080 1341,1095 1341,1093 1341,1068 1342,1076 1342,1087 1342,1091 1342,1096 1342,1081 1342,1096 1342,1070 1342,1097 1342,1107 1342,1102 1342,1088 1343,1094 1343,1107 1343,1096 1343,1096 1343,1087 1343,1088 1343,1099 1344,1078 1344,1090 1344,1088 1344,1097 1344,1090 1344,1097 1345,1091 1345,1091 1345,1082 1345,1091 1345,1087 1346,1091 1346,1086 1346,1085 1346,1071 1346,1076 1346,1097 1347,1095 1347,1082 1347,1085 1347,1094 1347,1100 1347,1092 1348,1082 1348,1089 1348,1089 1348,1101 1348,1094 1348,1089 1348,1094 1348,1099 1349,1077 1349,1084 1349,1085 1349,1075 1349,1081 1349,1081 1349,1103 1349,1093 1349,1095 1349,1083 1349,1078 1349,1072 1349,1075 1349,1073 1349,1077 1350,1084 1350,1078 1350,1099 1350,1100 1350,1096 1350,1070 1350,1064 1350,1074 1350,1090 1350,1076 1350,1078 1350,1089 1350,1088 1350,1082 1350,1079 1350,1080 1350,1078 1350,1091 1351,1073 1351,1072 1351,1072 1351,1068 1351,1088 1351,1096 1351,1090 1351,1094 1351,1068 1352,1076 1352,1088 1352,1080 1352,1077 1352,1082 1352,1070 1352,1096 1353,1088 1353,1087 1353,1087 1353,1077 1353,1106 1354,1094 1354,1101 1354,1075 1354,1085 1354,1084 1354,1097 1355,1081 1355,1086 1355,1083 1355,1064 1355,1076 1355,1067 1356,1068 1356,1061 1356,1080 1356,1066 1356,1071 1356,1073 1356,1074 1357,1065 1357,1053 1357,1067 1357,1064 1357,1074 1357,1059 1357,1070 1357,1059 1358,1078 1358,1077 1358,1089 1358,1071 1358,1078 1358,1070 1358,1051 1358,1067 1358,1069 1358,1075 1358,1063 1358,1083 1358,1055 1359,1069 1359,1071 1359,1077 1359,1052 1359,1082 1359,1063 1359,1071 1359,1073 1359,1068 1359,1082 1359,1065 1359,1060 1359,1089 1359,1070 1359,1066 1359,1055 1359,1087 1359,1056 1359,1090 1360,1067 1360,1093 1360,1083 1360,1087 1360,1089 1360,1090 1360,1058 1360,1055 1360,1063 1360,1047 1360,1070 1361,1054 1361,1064 1361,1103 1361,1095 1361,1092 1361,1072 1361,1076 1362,1089 1362,1097 1362,1101 1362,1096 1362,1095 1362,1069 1363,1085 1363,1097 1363,1087 1363,1073 1363,1087 1363,1080 1364,1080 1364,1084 1364,1085 1364,1071 1364,1068 1364,1078 1365,1082 1365,1064 1365,1090 1365,1095 1365,1096 1365,1094 1366,1082 1366,1087 1366,1091 1366,1087 1366,1074 1366,1068 1366,1091 1367,1079 1367,1069 1367,1087 1367,1078 1367,1092 1367,1088 1367,1076 1367,1077 1367,1080 1367,1082 1367,1105 1367,1081 1367,1093 1368,1082 1368,1093 1368,1100 1368,1101 1368,1099 1368,1083 1368,1098 1368,1098 1368,1078 1368,1079 1368,1098 1368,1063 1368,1070 1368,1093 1368,1063 1368,1101 1368,1088 1368,1094 1368,1100 1369,1084 1369,1076 1369,1099 1369,1099 1369,1069 1369,1086 1369,1106 1369,1099 1369,1103 1369,1094 1369,1106 1370,1083 1370,1088 1370,1095 1370,1095 1370,1074 1370,1089 1370,1096 1371,1097 1371,1085 1371,1092 1371,1093 1371,1074 1371,1087 1372,1070 1372,1093 1372,1071 1372,1090 1372,1075 1373,1063 1373,1090 1373,1070 1373,1074 1373,1092 1373,1091 1374,1095 1374,1102 1374,1084 1374,1074 1374,1103 1374,1096 1375,1093 1375,1068 1375,1078 1375,1094 1375,1081 1375,1095 1375,1102 1375,1100 1376,1089 1376,1084 1376,1078 1376,1098 1376,1081 1376,1089 1376,1088 1376,1090 1376,1070 1376,1090 1376,1099 1376,1099 1376,1080 1377,1099 1377,1068 1377,1072 1377,1086 1377,1090 1377,1096 1377,1095 1377,1091 1377,1077 1377,1085 1377,1094 1377,1074 1377,1104 1377,1074 1377,1112 1377,1112 1377,1099 1377,1074 1377,1085 1377,1102 1378,1087 1378,1070 1378,1099 1378,1088 1378,1079 1378,1093 1378,1089 1378,1090 1378,1125 1379,1114 1379,1082 1379,1094 1379,1096 1379,1117 1379,1112 1379,1131 1379,1130 1380,1114 1380,1102 1380,1108 1380,1127 1380,1117 1380,1121 1381,1127 1381,1140 1381,1114 1381,1141 1381,1142 1381,1115 1382,1143 1382,1143 1382,1131 1382,1114 1382,1129 1383,1117 1383,1102 1383,1110 1383,1088 1383,1097 1383,1126 1383,1112 1384,1129 1384,1108 1384,1116 1384,1114 1384,1114 1384,1122 1384,1132 1385,1122 1385,1119 1385,1129 1385,1116 1385,1133 1385,1105 1385,1112 1385,1095 1385,1079 1385,1079 1385,1088 1385,1102 1385,1105 1385,1078 1385,1088 1386,1096 1386,1119 1386,1121 1386,1109 1386,1083 1386,1082 1386,1104 1386,1106 1386,1108 1386,1124 1386,1124 1386,1096 1386,1120 1386,1101 1386,1079 1386,1109 1386,1089 1386,1093 1386,1084 1387,1120 1387,1089 1387,1102 1387,1115 1387,1082 1387,1102 1387,1102 1387,1117 1388,1143 1388,1117 1388,1120 1388,1114 1388,1126 1388,1123 1388,1103 1389,1110 1389,1133 1389,1135 1389,1124 1389,1092 1389,1132 1390,1121 1390,1088 1390,1117 1390,1120 1390,1116 1390,1113 1391,1115 1391,1110 1391,1097 1391,1104 1391,1105 1391,1113 1392,1123 1392,1109 1392,1108 1392,1118 1392,1100 1392,1107 1393,1113 1393,1119 1393,1110 1393,1110 1393,1143 1393,1132 1393,1112 1393,1126 1394,1130 1394,1129 1394,1116 1394,1098 1394,1125 1394,1097 1394,1115 1394,1102 1394,1122 1394,1122 1394,1111 1394,1142 1394,1129 1394,1119 1394,1131 1395,1110 1395,1123 1395,1117 1395,1111 1395,1125 1395,1098 1395,1091 1395,1096 1395,1101 1395,1106 1395,1096 1395,1132 1395,1104 1395,1108 1395,1133 1395,1129 1395,1112 1396,1127 1396,1101 1396,1111 1396,1095 1396,1111 1396,1130 1396,1134 1396,1110 1396,1127 1396,1112 1396,1098 1397,1116 1397,1107 1397,1110 1397,1107 1397,1102 1397,1087 1397,1086 1398,1104 1398,1100 1398,1100 1398,1120 1398,1119 1398,1120 1399,1117 1399,1088 1399,1121 1399,1129 1399,1111 1399,1111 1400,1118 1400,1127 1400,1115 1400,1102 1400,1102 1401,1086 1401,1110 1401,1100 1401,1079 1401,1093 1401,1106 1401,1118 1402,1090 1402,1092 1402,1126 1402,1115 1402,1105 1402,1125 1402,1106 1403,1120 1403,1112 1403,1100 1403,1111 1403,1111 1403,1120 1403,1113 1403,1123 1403,1132 1403,1105 1403,1118 1404,1111 1404,1096 1404,1121 1404,1096 1404,1121 1404,1129 1404,1124 1404,1099 1404,1118 1404,1111 1404,1113 1404,1110 1404,1122 1404,1114 1404,1075 1404,1094 1404,1106 1404,1111 1404,1092 1404,1104 1405,1113 1405,1125 1405,1106 1405,1090 1405,1104 1405,1081 1405,1101 1405,1115 1405,1082 1405,1096 1405,1089 1405,1109 1406,1115 1406,1112 1406,1091 1406,1103 1406,1120 1406,1091 1406,1123 1407,1128 1407,1090 1407,1110 1407,1109 1407,1118 1407,1089 1407,1124 1408,1116 1408,1086 1408,1116 1408,1103 1408,1098 1409,1106 1409,1113 1409,1094 1409,1096 1409,1091 1409,1127 1410,1127 1410,1087 1410,1096 1410,1114 1410,1095 1410,1121 1411,1107 1411,1110 1411,1111 1411,1105 1411,1090 1411,1099 1411,1101 1412,1096 1412,1095 1412,1108 1412,1087 1412,1110 1412,1090 1412,1112 1412,1104 1412,1096 1412,1122 1412,1115 1412,1113 1413,1116 1413,1123 1413,1117 1413,1098 1413,1112 1413,1112 1413,1116 1413,1130 1413,1133 1413,1128 1413,1127 1413,1104 1413,1097 1413,1135 1413,1107 1413,1116 1413,1110 1413,1090 1413,1112 1413,1088 1413,1125 1414,1113 1414,1129 1414,1115 1414,1098 1414,1106 1414,1115 1414,1113 1414,1110 1414,1123 1414,1102 1415,1122 1415,1124 1415,1090 1415,1106 1415,1132 1415,1118 1416,1111 1416,1109 1416,1116 1416,1135 1416,1108 1416,1110 1417,1117 1417,1122 1417,1138 1417,1132 1417,1127 1417,1111 1418,1124 1418,1123 1418,1120 1418,1107 1418,1116 1418,1122 1419,1138 1419,1118 1419,1135 1419,1127 1419,1114 1419,1102 1420,1112 1420,1116 1420,1139 1420,1133 1420,1116 1420,1130 1420,1115 1420,1109 1421,1111 1421,1113 1421,1102 1421,1113 1421,1110 1421,1115 1421,1112 1421,1114 1421,1122 1421,1109 1421,1114 1421,1104 1421,1127" fill="none" stroke="none" marker-start="url(#mx)" marker-mid="url(#mx)" marker-end="url(#mx)"/>
<circle cx="234.8" cy="1614.1" r="6"/>
<circle cx="275.5" cy="1631.0" r="6"/>
<circle cx="316.1" cy="1675.2" r="6"/>
<circle cx="356.8" cy="1691.0" r="6"/>
<circle cx="397.5" cy="1711.9" r="6"/>
<circle cx="438.2" cy="1722.9" r="6"/>
<circle cx="478.8" cy="1757.2" r="6"/>
<circle cx="519.5" cy="1777.2" r="6"/>
<circle cx="560.2" cy="1831.1" r="6"/>
<circle cx="600.8" cy="1834.3" r="6"/>
<circle cx="641.5" cy="1843.9" r="6"/>
<circle cx="682.2" cy="1857.9" r="6"/>
<circle cx="946.9" cy="1851.9" r="6"/>
<circle cx="985.1" cy="1831.9" r="6"/>
<circle cx="1023.4" cy="1866.5" r="6"/>
<circle cx="1061.6" cy="1843.9" r="6"/>
<circle cx="1099.9" cy="1831.5" r="6"/>
<circle cx="1138.1" cy="1798.9" r="6"/>
<circle cx="1176.4" cy="1813.3" r="6"/>
<circle cx="1214.6" cy="1798.8" r="6"/>
<circle cx="1252.9" cy="1852.8" r="6"/>
<circle cx="1291.1" cy="1805.0" r="6"/>
<circle cx="1329.3" cy="1770.0" r="6"/>
<circle cx="1367.6" cy="1744.2" r="6"/>
<clipPath id="c3"><rect x="169" y="1511" width="540" height="450.5"/></clipPath>
<clipPath id="c4"><rect x="853" y="1511" width="540" height="450.5"/></clipPath>
<circle clip-path="url(#c3)" cx="338.6" cy="1962.8" r="6"/>
<circle clip-path="url(#c4)" cx="1044.5" cy="1958.4" r="6"/>
<circle clip-path="url(#c3)" cx="379.3" cy="1962.8" r="6"/>
<circle clip-path="url(#c4)" cx="1082.7" cy="1958.4" r="6"/>
<circle clip-path="url(#c3)" cx="443.7" cy="1962.8" r="6"/>
<circle clip-path="url(#c4)" cx="1143.3" cy="1958.4" r="6"/>
<circle clip-path="url(#c3)" cx="484.4" cy="1962.8" r="6"/>
<circle clip-path="url(#c4)" cx="1181.6" cy="1958.4" r="6"/>
<circle clip-path="url(#c3)" cx="525.1" cy="1962.8" r="6"/>
<circle clip-path="url(#c4)" cx="1219.8" cy="1958.4" r="6"/>
<circle clip-path="url(#c3)" cx="565.7" cy="1962.8" r="6"/>
<circle clip-path="url(#c4)" cx="1258.1" cy="1958.4" r="6"/>
<circle clip-path="url(#c3)" cx="630.2" cy="1962.8" r="6"/>
<circle clip-path="url(#c4)" cx="1318.7" cy="1958.4" r="6"/>
<circle clip-path="url(#c3)" cx="679.9" cy="1962.8" r="6"/>
<circle clip-path="url(#c4)" cx="1365.5" cy="1958.4" r="6"/>
<text x="103.00" y="221.20" font-size="30" transform="matrix(1 0 0 1.045 0 -9.954)">10</text>
<text x="119.78" y="433.05" font-size="30" transform="matrix(1 0 0 1.045 0 -19.487)">5</text>
<text x="119.69" y="644.90" font-size="30" transform="matrix(1 0 0 1.045 0 -29.020)">0</text>
<text x="102.26" y="856.75" font-size="30" transform="matrix(1 0 0 1.045 0 -38.554)">−5</text>
<text x="159.61" y="892.60" font-size="30" transform="matrix(1 0 0 1.045 0 -40.167)">61070</text>
<text x="356.56" y="892.60" font-size="30" transform="matrix(1 0 0 1.045 0 -40.167)">61075</text>
<text x="553.41" y="892.60" font-size="30" transform="matrix(1 0 0 1.045 0 -40.167)">61080</text>
<text x="750.36" y="892.60" font-size="30" transform="matrix(1 0 0 1.045 0 -40.167)">61085</text>
<text x="947.21" y="892.60" font-size="30" transform="matrix(1 0 0 1.045 0 -40.167)">61090</text>
<text x="1144.16" y="892.60" font-size="30" transform="matrix(1 0 0 1.045 0 -40.167)">61095</text>
<text x="1341.01" y="892.60" font-size="30" transform="matrix(1 0 0 1.045 0 -40.167)">61100</text>
<text x="645.79" y="922.90" font-size="30" font-weight="bold" transform="matrix(1 0 0 1.045 0 -41.530)">Modified Julian Date</text>
<text x="0" y="0" font-size="30" font-weight="bold" transform="translate(93.40 573.18) rotate(-90) scale(1 1.045)">nanosecond</text>
<text x="200.29" y="808.60" font-size="30" font-weight="bold" transform="matrix(1 0 0 1.045 0 -36.387)">_2602_US09PT13_US06PT13.33AA5</text>
<text x="755.27" y="808.60" font-size="30" font-weight="bold" transform="matrix(1 0 0 1.045 0 -36.387)">GPSPPP</text>
<text x="885.94" y="808.60" font-size="30" transform="matrix(1 0 0 1.045 0 -36.387)">(</text>
<text x="898.39" y="808.60" font-size="30" font-weight="bold" transform="matrix(1 0 0 1.045 0 -36.387)">x</text>
<text x="912.84" y="816.30" font-size="20.6" font-weight="bold" transform="matrix(1 0 0 1.045 0 -36.733)">black</text>
<text x="966.12" y="808.60" font-size="30" transform="matrix(1 0 0 1.045 0 -36.387)">)</text>
<text x="984.26" y="808.60" font-size="30" font-weight="bold" transform="matrix(1 0 0 1.045 0 -36.387)">,</text>
<text x="1010.57" y="808.60" font-size="30" font-weight="bold" transform="matrix(1 0 0 1.045 0 -36.387)">GPSPPP</text>
<text x="1139.54" y="808.60" font-size="30" transform="matrix(1 0 0 1.045 0 -36.387)">(</text>
<text x="1151.43" y="808.60" font-size="30" font-weight="bold" transform="matrix(1 0 0 1.045 0 -36.387)">o</text>
<text x="1168.24" y="816.30" font-size="20.6" font-weight="bold" transform="matrix(1 0 0 1.045 0 -36.733)">blue</text>
<text x="1213.82" y="808.60" font-size="30" transform="matrix(1 0 0 1.045 0 -36.387)">)</text>
<text x="1239.36" y="808.60" font-size="30" font-weight="bold" transform="matrix(1 0 0 1.045 0 -36.387)">9557Ep</text>
<text x="77.58" y="1391.00" font-size="30" transform="matrix(1 0 0 1.045 0 -62.595)">1.70</text>
<text x="77.67" y="1318.84" font-size="30" transform="matrix(1 0 0 1.045 0 -59.348)">1.75</text>
<text x="77.58" y="1246.68" font-size="30" transform="matrix(1 0 0 1.045 0 -56.101)">1.80</text>
<text x="77.67" y="1174.52" font-size="30" transform="matrix(1 0 0 1.045 0 -52.853)">1.85</text>
<text x="77.58" y="1102.36" font-size="30" transform="matrix(1 0 0 1.045 0 -49.606)">1.90</text>
<text x="77.67" y="1030.20" font-size="30" transform="matrix(1 0 0 1.045 0 -46.359)">1.95</text>
<text x="159.61" y="1450.80" font-size="30" transform="matrix(1 0 0 1.045 0 -65.286)">61070</text>
<text x="356.56" y="1450.80" font-size="30" transform="matrix(1 0 0 1.045 0 -65.286)">61075</text>
<text x="553.41" y="1450.80" font-size="30" transform="matrix(1 0 0 1.045 0 -65.286)">61080</text>
<text x="750.36" y="1450.80" font-size="30" transform="matrix(1 0 0 1.045 0 -65.286)">61085</text>
<text x="947.21" y="1450.80" font-size="30" transform="matrix(1 0 0 1.045 0 -65.286)">61090</text>
<text x="1144.16" y="1450.80" font-size="30" transform="matrix(1 0 0 1.045 0 -65.286)">61095</text>
<text x="1341.01" y="1450.80" font-size="30" transform="matrix(1 0 0 1.045 0 -65.286)">61100</text>
<text x="645.79" y="1481.10" font-size="30" font-weight="bold" transform="matrix(1 0 0 1.045 0 -66.649)">Modified Julian Date</text>
<text x="0" y="0" font-size="30" font-weight="bold" transform="translate(69.30 1275.38) rotate(-90) scale(1 1.045)">residuals (ns)</text>
<text x="201.02" y="1380.80" font-size="25.05" font-weight="bold" transform="matrix(1 0 0 1.045 0 -62.136)">Max Smoothing Residual: __1.734__1.946__1.854  Sigma= 0.049ns</text>
<text x="92.53" y="1567.10" font-size="30" transform="matrix(1 0 0 1.045 0 -70.519)">−13</text>
<text x="92.09" y="1657.10" font-size="30" transform="matrix(1 0 0 1.045 0 -74.569)">−14</text>
<text x="92.47" y="1747.10" font-size="30" transform="matrix(1 0 0 1.045 0 -78.619)">−15</text>
<text x="92.53" y="1837.10" font-size="30" transform="matrix(1 0 0 1.045 0 -82.669)">−16</text>
<text x="92.72" y="1927.10" font-size="30" transform="matrix(1 0 0 1.045 0 -86.719)">−17</text>
<text x="160.96" y="2007.90" font-size="30" transform="matrix(1 0 0 1.045 0 -90.355)">2</text>
<text x="296.15" y="2007.90" font-size="30" transform="matrix(1 0 0 1.045 0 -90.355)">3</text>
<text x="431.25" y="2007.90" font-size="30" transform="matrix(1 0 0 1.045 0 -90.355)">4</text>
<text x="566.29" y="2007.90" font-size="30" transform="matrix(1 0 0 1.045 0 -90.355)">5</text>
<text x="701.26" y="2007.90" font-size="30" transform="matrix(1 0 0 1.045 0 -90.355)">6</text>
<text x="261.35" y="2038.90" font-size="30" font-weight="bold" transform="matrix(1 0 0 1.045 0 -91.750)">Averaging time, log</text>
<text x="539.73" y="2038.9" font-size="30" transform="matrix(1 0 0 1.045 0 -91.750)">(<tspan font-family='"Liberation Serif", "Times New Roman", serif'>τ</tspan>) (<tspan font-weight="bold">s</tspan>)</text>
<text x="0" y="0" font-size="30" font-weight="bold" transform="translate(82 1955.71) rotate(-90) scale(1 1.045)">Modified Allan Deviation <tspan font-weight="normal">(</tspan>10<tspan font-size="20" dy="-9.3">-15</tspan><tspan dy="9.3" font-weight="normal">)</tspan></text>
<text x="202.52" y="1541.80" font-size="17.3" font-family='"Liberation Serif", "Times New Roman", serif' transform="matrix(1 0 0 1.045 0 -69.381)">τ</text>
<text x="214.88" y="1543.60" font-size="17.3" font-weight="bold" transform="matrix(1 0 0 1.045 0 -69.462)">=</text>
<text x="231.50" y="1541.80" font-size="17.3" font-weight="bold" transform="matrix(1 0 0 1.045 0 -69.381)">307s</text>
<text x="776.18" y="1612.10" font-size="30" transform="matrix(1 0 0 1.045 0 -72.544)">−10</text>
<text x="776.48" y="1792.10" font-size="30" transform="matrix(1 0 0 1.045 0 -80.644)">−11</text>
<text x="776.52" y="1972.10" font-size="30" transform="matrix(1 0 0 1.045 0 -88.744)">−12</text>
<text x="876.96" y="2007.90" font-size="30" transform="matrix(1 0 0 1.045 0 -90.355)">2</text>
<text x="1004.10" y="2007.90" font-size="30" transform="matrix(1 0 0 1.045 0 -90.355)">3</text>
<text x="1131.15" y="2007.90" font-size="30" transform="matrix(1 0 0 1.045 0 -90.355)">4</text>
<text x="1258.14" y="2007.90" font-size="30" transform="matrix(1 0 0 1.045 0 -90.355)">5</text>
<text x="1385.06" y="2007.90" font-size="30" transform="matrix(1 0 0 1.045 0 -90.355)">6</text>
<text x="946.15" y="2038.90" font-size="30" font-weight="bold" transform="matrix(1 0 0 1.045 0 -91.750)">Averaging time, log</text>
<text x="1224.53" y="2038.9" font-size="30" transform="matrix(1 0 0 1.045 0 -91.750)">(<tspan font-family='"Liberation Serif", "Times New Roman", serif'>τ</tspan>) (<tspan font-weight="bold">s</tspan>)</text>
<text x="0" y="0" font-size="30" font-weight="bold" transform="translate(766.5 1898.34) rotate(-90) scale(1 1.045)">Time deviation <tspan font-weight="normal">(</tspan>10<tspan font-size="20" dy="-9.3">-10</tspan><tspan dy="9.3"> s</tspan><tspan font-weight="normal">)</tspan></text>
<text x="215.44" y="1604.90" font-size="20" font-weight="bold" fill="#ff0000" transform="matrix(1 0 0 1.0 0 0.000)">22.7</text>
<text x="255.82" y="1621.80" font-size="20" font-weight="bold" fill="#ff0000" transform="matrix(1 0 0 1.0 0 0.000)">14.7</text>
<text x="302.53" y="1666.00" font-size="20" font-weight="bold" fill="#ff0000" transform="matrix(1 0 0 1.0 0 0.000)">4.7</text>
<text x="343.08" y="1681.80" font-size="20" font-weight="bold" fill="#ff0000" transform="matrix(1 0 0 1.0 0 0.000)">3.2</text>
<text x="383.32" y="1702.70" font-size="20" font-weight="bold" fill="#ff0000" transform="matrix(1 0 0 1.0 0 0.000)">1.9</text>
<text x="423.68" y="1713.70" font-size="20" font-weight="bold" fill="#ff0000" transform="matrix(1 0 0 1.0 0 0.000)">1.4</text>
<text x="464.89" y="1748.00" font-size="20" font-weight="bold" fill="#ff0000" transform="matrix(1 0 0 1.0 0 0.000)">0.6</text>
<text x="505.25" y="1768.00" font-size="20" font-weight="bold" fill="#ff0000" transform="matrix(1 0 0 1.0 0 0.000)">0.4</text>
<text x="546.14" y="1821.90" font-size="20" font-weight="bold" fill="#ff0000" transform="matrix(1 0 0 1.0 0 0.000)">0.1</text>
<text x="586.81" y="1825.10" font-size="20" font-weight="bold" fill="#ff0000" transform="matrix(1 0 0 1.0 0 0.000)">0.1</text>
<text x="627.48" y="1834.70" font-size="20" font-weight="bold" fill="#ff0000" transform="matrix(1 0 0 1.0 0 0.000)">0.1</text>
<text x="668.28" y="1848.70" font-size="20" font-weight="bold" fill="#ff0000" transform="matrix(1 0 0 1.0 0 0.000)">0.0</text>
<text x="934.39" y="1833.90" font-size="18.0" font-weight="bold" fill="#ff0000" transform="matrix(1 0 0 1.0 0 0.000)">0.0</text>
<text x="972.52" y="1813.90" font-size="18.0" font-weight="bold" fill="#ff0000" transform="matrix(1 0 0 1.0 0 0.000)">0.1</text>
<text x="1010.88" y="1848.50" font-size="18.0" font-weight="bold" fill="#ff0000" transform="matrix(1 0 0 1.0 0 0.000)">0.0</text>
<text x="1049.13" y="1825.90" font-size="18.0" font-weight="bold" fill="#ff0000" transform="matrix(1 0 0 1.0 0 0.000)">0.0</text>
<text x="1087.25" y="1813.50" font-size="18.0" font-weight="bold" fill="#ff0000" transform="matrix(1 0 0 1.0 0 0.000)">0.1</text>
<text x="1125.50" y="1780.90" font-size="18.0" font-weight="bold" fill="#ff0000" transform="matrix(1 0 0 1.0 0 0.000)">0.1</text>
<text x="1163.74" y="1795.30" font-size="18.0" font-weight="bold" fill="#ff0000" transform="matrix(1 0 0 1.0 0 0.000)">0.1</text>
<text x="1201.99" y="1780.80" font-size="18.0" font-weight="bold" fill="#ff0000" transform="matrix(1 0 0 1.0 0 0.000)">0.1</text>
<text x="1240.35" y="1834.80" font-size="18.0" font-weight="bold" fill="#ff0000" transform="matrix(1 0 0 1.0 0 0.000)">0.0</text>
<text x="1278.48" y="1787.00" font-size="18.0" font-weight="bold" fill="#ff0000" transform="matrix(1 0 0 1.0 0 0.000)">0.1</text>
<text x="1316.73" y="1752.00" font-size="18.0" font-weight="bold" fill="#ff0000" transform="matrix(1 0 0 1.0 0 0.000)">0.1</text>
<text x="1355.08" y="1726.20" font-size="18.0" font-weight="bold" fill="#ff0000" transform="matrix(1 0 0 1.0 0 0.000)">0.2</text>
<text x="323.84" y="1951.60" font-size="20" font-weight="bold" fill="#ff0000" transform="matrix(1 0 0 1.0 0 0.000)">h/2</text>
<text x="1029.96" y="1942.80" font-size="19.7" font-weight="bold" fill="#ff0000" transform="matrix(1 0 0 1.0 0 0.000)">h/2</text>
<text x="373.07" y="1951.60" font-size="20" font-weight="bold" fill="#ff0000" transform="matrix(1 0 0 1.0 0 0.000)">h</text>
<text x="1076.63" y="1942.80" font-size="19.7" font-weight="bold" fill="#ff0000" transform="matrix(1 0 0 1.0 0 0.000)">h</text>
<text x="429.16" y="1951.60" font-size="20" font-weight="bold" fill="#ff0000" transform="matrix(1 0 0 1.0 0 0.000)">d/8</text>
<text x="1129.01" y="1942.80" font-size="19.7" font-weight="bold" fill="#ff0000" transform="matrix(1 0 0 1.0 0 0.000)">d/8</text>
<text x="469.58" y="1951.60" font-size="20" font-weight="bold" fill="#ff0000" transform="matrix(1 0 0 1.0 0 0.000)">d/4</text>
<text x="1167.01" y="1942.80" font-size="19.7" font-weight="bold" fill="#ff0000" transform="matrix(1 0 0 1.0 0 0.000)">d/4</text>
<text x="510.60" y="1951.60" font-size="20" font-weight="bold" fill="#ff0000" transform="matrix(1 0 0 1.0 0 0.000)">d/2</text>
<text x="1205.60" y="1942.80" font-size="19.7" font-weight="bold" fill="#ff0000" transform="matrix(1 0 0 1.0 0 0.000)">d/2</text>
<text x="548.14" y="1951.60" font-size="20" font-weight="bold" fill="#ff0000" transform="matrix(1 0 0 1.0 0 0.000)">day</text>
<text x="1240.76" y="1942.80" font-size="19.7" font-weight="bold" fill="#ff0000" transform="matrix(1 0 0 1.0 0 0.000)">day</text>
<text x="612.11" y="1951.60" font-size="20" font-weight="bold" fill="#ff0000" transform="matrix(1 0 0 1.0 0 0.000)">ddd</text>
<text x="1300.90" y="1942.80" font-size="19.7" font-weight="bold" fill="#ff0000" transform="matrix(1 0 0 1.0 0 0.000)">ddd</text>
<text x="666.58" y="1951.60" font-size="20" font-weight="bold" fill="#ff0000" transform="matrix(1 0 0 1.0 0 0.000)">wk</text>
<text x="1352.33" y="1942.80" font-size="19.7" font-weight="bold" fill="#ff0000" transform="matrix(1 0 0 1.0 0 0.000)">wk</text>
</svg></body></html>
